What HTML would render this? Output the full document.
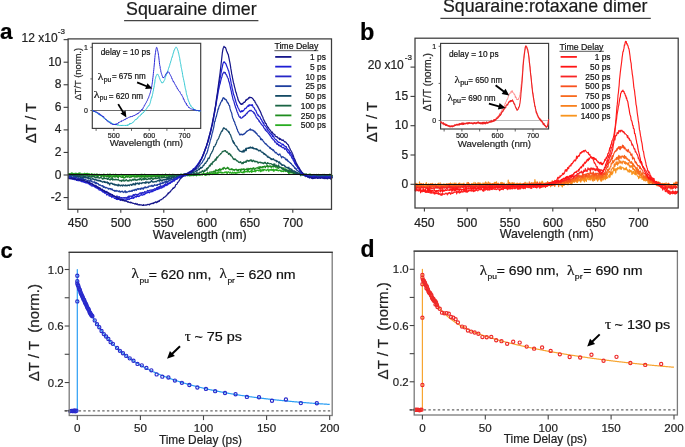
<!DOCTYPE html>
<html><head><meta charset="utf-8"><style>
html,body{margin:0;padding:0;background:#fff;}
svg{display:block;}
svg text{white-space:pre;}
svg{will-change:transform;}
</style></head><body>
<svg width="685" height="447" viewBox="0 0 685 447">
<rect width="685" height="447" fill="#fff"/>
<text x="126.1" y="14.9" font-size="17.8" text-anchor="start" font-weight="normal" fill="#1a1a1a" stroke="#1a1a1a" stroke-width="0.2" font-family='"Liberation Sans", sans-serif' >Squaraine dimer</text>
<line x1="124.1" y1="20.6" x2="258.4" y2="20.6" stroke="#444" stroke-width="1.2" />
<text x="442.9" y="12.3" font-size="17.8" text-anchor="start" font-weight="normal" fill="#1a1a1a" stroke="#1a1a1a" stroke-width="0.2" font-family='"Liberation Sans", sans-serif' >Squaraine:rotaxane dimer</text>
<line x1="440.4" y1="18.4" x2="650.8" y2="18.4" stroke="#444" stroke-width="1.2" />
<text x="-0.1" y="39.3" font-size="22.5" text-anchor="start" font-weight="bold" fill="#000" stroke="#000" stroke-width="0.2" font-family='"Liberation Sans", sans-serif' >a</text>
<text x="360" y="39.6" font-size="23.5" text-anchor="start" font-weight="bold" fill="#000" stroke="#000" stroke-width="0.2" font-family='"Liberation Sans", sans-serif' >b</text>
<text x="0.5" y="257.9" font-size="22" text-anchor="start" font-weight="bold" fill="#000" stroke="#000" stroke-width="0.2" font-family='"Liberation Sans", sans-serif' >c</text>
<text x="360.4" y="257.2" font-size="23" text-anchor="start" font-weight="bold" fill="#000" stroke="#000" stroke-width="0.2" font-family='"Liberation Sans", sans-serif' >d</text>
<polyline points="68.34,173.45 68.77,174.02 69.19,173.53 69.62,174.12 70.05,174.5 70.47,174.5 70.9,174.19 71.33,172.92 71.75,174.48 72.18,173.03 72.61,172.99 73.03,173.85 73.46,173.78 73.88,174.11 74.31,173.79 74.74,173.41 75.16,173.79 75.59,173.24 76.02,173.14 76.44,173.63 76.87,173.65 77.3,173.88 77.72,173.66 78.15,174.49 78.58,173.64 79,173.77 79.43,174.38 79.86,172.69 80.28,174.46 80.71,174.42 81.14,173.78 81.56,175.04 81.99,174.41 82.42,174.83 82.84,174.53 83.27,174.07 83.69,173.83 84.12,173.4 84.55,173.58 84.97,173.38 85.4,173.73 85.83,174.34 86.25,173.47 86.68,174.38 87.11,174.47 87.53,173.28 87.96,173.71 88.39,174.05 88.81,173.76 89.24,173.71 89.67,174.99 90.09,174.29 90.52,174.92 90.95,174.2 91.37,174.67 91.8,173.54 92.23,174.03 92.65,174.8 93.08,174.37 93.51,175.06 93.93,174.38 94.36,174.11 94.78,174.29 95.21,175.54 95.64,174.66 96.06,174.21 96.49,174.34 96.92,173.88 97.34,175.29 97.77,174.29 98.2,174.97 98.62,174.52 99.05,174.43 99.48,174.29 99.9,175.03 100.33,174.63 100.76,175.42 101.18,175.58 101.61,174.5 102.04,174.86 102.46,175.77 102.89,175.36 103.32,174.9 103.74,174.06 104.17,174.37 104.59,174.53 105.02,176.01 105.45,175.08 105.87,174.78 106.3,174.85 106.73,174.85 107.15,175.24 107.58,174.13 108.01,174.31 108.43,175.21 108.86,175.73 109.29,174.03 109.71,175.52 110.14,174.55 110.57,174.17 110.99,175.79 111.42,175.11 111.85,175.49 112.27,175.02 112.7,175.15 113.13,174.25 113.55,175.03 113.98,175.39 114.4,174.76 114.83,175.57 115.26,175.63 115.68,174.18 116.11,175.92 116.54,175.75 116.96,175.46 117.39,176.09 117.82,176.7 118.24,174.93 118.67,175.98 119.1,175.85 119.52,175.76 119.95,176.12 120.38,176.18 120.8,175.49 121.23,174.23 121.66,175.17 122.08,175.17 122.51,176.44 122.94,175.61 123.36,176.26 123.79,175.16 124.21,175.73 124.64,175.57 125.07,175.64 125.49,175.92 125.92,176.45 126.35,175.26 126.77,176.37 127.2,176.25 127.63,175.75 128.05,175.98 128.48,175.43 128.91,175.01 129.33,175.43 129.76,175.46 130.19,175.56 130.61,175.08 131.04,176.6 131.47,175.35 131.89,176.08 132.32,176.25 132.75,175.55 133.17,175.76 133.6,175.21 134.03,174.92 134.45,176.85 134.88,175.57 135.3,174.42 135.73,175.03 136.16,174.7 136.58,175.46 137.01,176.32 137.44,176.15 137.86,175.11 138.29,174.96 138.72,175.91 139.14,175.65 139.57,175.35 140,176.48 140.42,175.69 140.85,174.57 141.28,174.25 141.7,175.54 142.13,174.44 142.56,175.77 142.98,175.93 143.41,176.73 143.84,174.93 144.26,175.67 144.69,174.14 145.11,175.27 145.54,175.35 145.97,176.47 146.39,174.6 146.82,175.65 147.25,175.53 147.67,176.68 148.1,174.91 148.53,174.87 148.95,175.77 149.38,175.37 149.81,175.2 150.23,174.87 150.66,175.35 151.09,174.43 151.51,175.54 151.94,175.74 152.37,175.66 152.79,176.82 153.22,175.84 153.65,174.82 154.07,175.23 154.5,175.84 154.92,175.17 155.35,176.51 155.78,175.53 156.2,175.06 156.63,174.96 157.06,175.79 157.48,174.83 157.91,174.29 158.34,175.58 158.76,174.92 159.19,176.21 159.62,176.43 160.04,174.98 160.47,175.3 160.9,175.2 161.32,175.64 161.75,175.47 162.18,174.85 162.6,174.33 163.03,175.42 163.46,176.22 163.88,174.57 164.31,174.94 164.74,174.89 165.16,175.17 165.59,173.96 166.01,175.22 166.44,174.97 166.87,176.3 167.29,175.57 167.72,175.63 168.15,175.25 168.57,175.04 169,175.65 169.43,174.24 169.85,175.82 170.28,175.46 170.71,175.07 171.13,175.9 171.56,174.87 171.99,174.83 172.41,175.34 172.84,174.1 173.27,175.12 173.69,175 174.12,175.7 174.55,176.09 174.97,175.5 175.4,175.32 175.82,175.39 176.25,174.69 176.68,176.46 177.1,175.75 177.53,176.14 177.96,174.34 178.38,175.42 178.81,175.38 179.24,175.71 179.66,174.58 180.09,175.31 180.52,174.95 180.94,176.22 181.37,174.41 181.8,174.84 182.22,174.75 182.65,174.36 183.08,175.16 183.5,175.14 183.93,174.64 184.36,174.8 184.78,175.17 185.21,175 185.63,175.31 186.06,174.62 186.49,174.49 186.91,175.01 187.34,173.94 187.77,175.87 188.19,175.12 188.62,174.02 189.05,175.22 189.47,175.88 189.9,174.18 190.33,174.65 190.75,175.63 191.18,174.51 191.61,175.52 192.03,175.69 192.46,175.01 192.89,175.19 193.31,175.53 193.74,175.11 194.17,175.46 194.59,174.85 195.02,174.88 195.44,174.44 195.87,175.1 196.3,175.59 196.72,175.57 197.15,174.95 197.58,173.93 198,174.3 198.43,175.13 198.86,174.22 199.28,175.39 199.71,174.15 200.14,174.92 200.56,174.25 200.99,174.32 201.42,174.81 201.84,174.45 202.27,175.22 202.7,174.64 203.12,173.96 203.55,172.23 203.98,174.13 204.4,174.45 204.83,175.05 205.26,173.85 205.68,175.36 206.11,174.84 206.53,174.15 206.96,175 207.39,173.41 207.81,173.62 208.24,174.52 208.67,174.47 209.09,174.86 209.52,174.86 209.95,173.77 210.37,173.63 210.8,173.73 211.23,173.73 211.65,174.15 212.08,173.58 212.51,174.56 212.93,173.67 213.36,172.79 213.79,172.81 214.21,173.76 214.64,173.63 215.07,172.6 215.49,172.31 215.92,174.1 216.34,173.43 216.77,172.99 217.2,172.36 217.62,173.45 218.05,172.54 218.48,173 218.9,171.42 219.33,172.46 219.76,172.73 220.18,172.78 220.61,171.94 221.04,172.09 221.46,173.03 221.89,172.24 222.32,173.07 222.74,172.69 223.17,172.97 223.6,172.96 224.02,172.59 224.45,172.76 224.88,171.91 225.3,171.77 225.73,172.37 226.15,172.88 226.58,171.8 227.01,173.42 227.43,173.38 227.86,171.89 228.29,171.95 228.71,171.78 229.14,172.48 229.57,173.09 229.99,172.69 230.42,172.1 230.85,172.88 231.27,172.87 231.7,173.29 232.13,173.17 232.55,172.05 232.98,172.28 233.41,173.2 233.83,173.15 234.26,172.86 234.69,172.22 235.11,173.18 235.54,172.6 235.96,173.71 236.39,173.19 236.82,172.22 237.24,171.93 237.67,173.07 238.1,172.83 238.52,171.91 238.95,172.56 239.38,172.62 239.8,171.99 240.23,172.15 240.66,171.61 241.08,171.76 241.51,172.51 241.94,172.23 242.36,172.17 242.79,172.87 243.22,172.62 243.64,171.49 244.07,172.9 244.5,171.4 244.92,171.77 245.35,171.97 245.78,171.55 246.2,171.55 246.63,171.1 247.05,171.97 247.48,171.83 247.91,171.8 248.33,170.56 248.76,171.05 249.19,172.07 249.61,171.69 250.04,171.87 250.47,171.42 250.89,171.27 251.32,170.06 251.75,172.35 252.17,170.7 252.6,171 253.03,171.6 253.45,171.25 253.88,171.41 254.31,171.07 254.73,170.49 255.16,171.88 255.59,170.24 256.01,171.15 256.44,170.05 256.86,170.63 257.29,170.13 257.72,170.47 258.14,170.14 258.57,170.69 259,171.15 259.42,170.27 259.85,170.21 260.28,169.38 260.7,171.67 261.13,170.61 261.56,169.86 261.98,171.13 262.41,170.52 262.84,169.15 263.26,169.52 263.69,170.78 264.12,169.44 264.54,169.55 264.97,169.75 265.4,169.94 265.82,170 266.25,170.59 266.67,170.36 267.1,169.62 267.53,169.92 267.95,168.93 268.38,170.13 268.81,171.27 269.23,170.08 269.66,169.71 270.09,169.63 270.51,169.8 270.94,170.29 271.37,168.98 271.79,170.21 272.22,169.44 272.65,170.01 273.07,170.55 273.5,169.09 273.93,171.33 274.35,170.42 274.78,169.73 275.21,170.21 275.63,169.62 276.06,170.13 276.49,170.37 276.91,168.94 277.34,170.32 277.76,170.33 278.19,170.89 278.62,170.74 279.04,170 279.47,170.11 279.9,170.48 280.32,170.95 280.75,170.23 281.18,171.65 281.6,170.96 282.03,170.99 282.46,171.41 282.88,170.93 283.31,171.48 283.74,171.64 284.16,170.25 284.59,170.94 285.02,170.77 285.44,171.5 285.87,171.07 286.3,171.26 286.72,171.1 287.15,170.54 287.57,172.1 288,171.92 288.43,172.19 288.85,174.25 289.28,173.15 289.71,172.44 290.13,172.19 290.56,172.97 290.99,172.09 291.41,172.09 291.84,173.13 292.27,172.18 292.69,172.08 293.12,172.9 293.55,173.79 293.97,172.49 294.4,173.5 294.83,173.7 295.25,173.5 295.68,173.94 296.11,173.11 296.53,173.34 296.96,173.16 297.38,173.59 297.81,174.43 298.24,174.15 298.66,173.63 299.09,174.43 299.52,172.62 299.94,174.48 300.37,174.74 300.8,173.83 301.22,174.12 301.65,174.62 302.08,174.79 302.5,174.47 302.93,174.29 303.36,174.37 303.78,175 304.21,174.62 304.64,174.4 305.06,174.46 305.49,176.65 305.92,175.42 306.34,175.36 306.77,175.07 307.19,174.85 307.62,174.44 308.05,174.62 308.47,175.04 308.9,174.97 309.33,173.99 309.75,175.33 310.18,174.82 310.61,174.11 311.03,174.8 311.46,176.15 311.89,174.79 312.31,175.22 312.74,175.06 313.17,174.41 313.59,174.74 314.02,175.15 314.45,174.5 314.87,174.75 315.3,174.94 315.73,174.83 316.15,174.86 316.58,175.19 317.01,175.26 317.43,174.99 317.86,175.54 318.28,175.71 318.71,174.27 319.14,175.14 319.56,175.01 319.99,175.08 320.42,174.99 320.84,174.99 321.27,174.96 321.7,175.45 322.12,174.47 322.55,175.39 322.98,174.42 323.4,176.08 323.83,175.6 324.26,174.44 324.68,175.08 325.11,175.38 325.54,174.79 325.96,175.59 326.39,174.96 326.82,176.25 327.24,175.26 327.67,175.37 328.09,174.7 328.52,174.51 328.95,175.48 329.37,174.09 329.8,175.33 330.23,176.16 330.65,176.34 331.08,174.13 331.51,175.05 331.93,175.37 332.36,175.42" fill="none" stroke="#28ac20" stroke-width="1.22" stroke-linejoin="round" />
<polyline points="68.34,174.13 68.77,174.7 69.19,173.56 69.62,174.73 70.05,173.84 70.47,174.94 70.9,173.54 71.33,174.75 71.75,173.7 72.18,175.08 72.61,174.45 73.03,173.55 73.46,174.68 73.88,174.2 74.31,174.52 74.74,175.57 75.16,174.1 75.59,174.05 76.02,174.93 76.44,174 76.87,174.79 77.3,174.92 77.72,174.36 78.15,174.77 78.58,173.11 79,175.29 79.43,174.01 79.86,173.89 80.28,175.58 80.71,175.46 81.14,174.18 81.56,174.79 81.99,174.32 82.42,173.91 82.84,174.78 83.27,175.19 83.69,176.15 84.12,174.51 84.55,175.17 84.97,174.49 85.4,174.56 85.83,175.49 86.25,173.76 86.68,174.15 87.11,174.3 87.53,175.47 87.96,175.06 88.39,175.16 88.81,175.11 89.24,175.54 89.67,174.68 90.09,174.82 90.52,174.77 90.95,175.29 91.37,174.31 91.8,174.95 92.23,176.63 92.65,175.48 93.08,175.18 93.51,174.63 93.93,175.37 94.36,175.37 94.78,175.63 95.21,174.91 95.64,175.57 96.06,175.69 96.49,175.8 96.92,175.1 97.34,175.75 97.77,176.43 98.2,175.17 98.62,175.95 99.05,175.39 99.48,175.42 99.9,174.99 100.33,175.12 100.76,176.07 101.18,175.88 101.61,176.55 102.04,174.92 102.46,175.65 102.89,175.16 103.32,176.16 103.74,177.17 104.17,175.19 104.59,176.04 105.02,176.05 105.45,176.13 105.87,175.83 106.3,175.92 106.73,177.15 107.15,175.67 107.58,176.61 108.01,176.6 108.43,175.38 108.86,175.86 109.29,176.6 109.71,177.48 110.14,176.37 110.57,176.19 110.99,176.56 111.42,177.25 111.85,177.02 112.27,177.3 112.7,176.5 113.13,176.19 113.55,176.1 113.98,177.11 114.4,176.59 114.83,176.44 115.26,177.06 115.68,176.88 116.11,175.62 116.54,176.72 116.96,176.36 117.39,177.12 117.82,176.88 118.24,177.88 118.67,176.95 119.1,176.28 119.52,175.78 119.95,176.3 120.38,176.6 120.8,176.97 121.23,177.35 121.66,177.11 122.08,176.68 122.51,177.47 122.94,176.5 123.36,177.59 123.79,178.03 124.21,177.6 124.64,177.97 125.07,177.8 125.49,176.38 125.92,177.13 126.35,176.88 126.77,176.35 127.2,176.28 127.63,177.27 128.05,176.23 128.48,176.75 128.91,176.96 129.33,176.7 129.76,177.74 130.19,177.37 130.61,176.98 131.04,176.56 131.47,177.1 131.89,176.95 132.32,176.32 132.75,176.06 133.17,176.41 133.6,176.11 134.03,177.04 134.45,176.98 134.88,176.61 135.3,176.95 135.73,177.05 136.16,175.82 136.58,176.86 137.01,177.28 137.44,176.44 137.86,175.67 138.29,176.65 138.72,175.99 139.14,176.92 139.57,176.94 140,177.04 140.42,176.73 140.85,175.6 141.28,177.27 141.7,175.69 142.13,177.17 142.56,176.72 142.98,176.11 143.41,176.21 143.84,176.39 144.26,177.47 144.69,176.33 145.11,177.1 145.54,175.06 145.97,176.62 146.39,176.38 146.82,177.12 147.25,176.73 147.67,177.17 148.1,175.88 148.53,176.57 148.95,176.09 149.38,176.78 149.81,176.67 150.23,175.65 150.66,176.91 151.09,177.36 151.51,176.1 151.94,176.96 152.37,176.55 152.79,175.78 153.22,176.74 153.65,175.77 154.07,176.64 154.5,175.4 154.92,175.48 155.35,176.48 155.78,176.32 156.2,176.66 156.63,176.06 157.06,175.51 157.48,176.96 157.91,175.61 158.34,176.86 158.76,176.59 159.19,177.1 159.62,174.88 160.04,176.02 160.47,175.9 160.9,176.41 161.32,175.41 161.75,177.18 162.18,175.97 162.6,174.72 163.03,176.17 163.46,175.93 163.88,175.54 164.31,176.36 164.74,175.87 165.16,175.33 165.59,175.74 166.01,175.63 166.44,176.02 166.87,175.62 167.29,175.75 167.72,174.95 168.15,175.34 168.57,175.87 169,177.09 169.43,175.29 169.85,175.25 170.28,176.17 170.71,176.76 171.13,176.25 171.56,175.06 171.99,176.16 172.41,175.8 172.84,175.39 173.27,174.81 173.69,175.48 174.12,175.51 174.55,175.74 174.97,174.49 175.4,174.78 175.82,175.42 176.25,176.13 176.68,175.77 177.1,174.97 177.53,175.69 177.96,174.76 178.38,175.04 178.81,175.06 179.24,174.84 179.66,174.91 180.09,175.66 180.52,175.35 180.94,173.83 181.37,175.81 181.8,175.38 182.22,174.5 182.65,175.18 183.08,175.53 183.5,175.8 183.93,174.74 184.36,174.46 184.78,174.23 185.21,174.97 185.63,174.4 186.06,175.56 186.49,174.87 186.91,175.33 187.34,174.84 187.77,174.51 188.19,174.32 188.62,175.47 189.05,174.18 189.47,175.15 189.9,175.45 190.33,174.96 190.75,175.68 191.18,174.84 191.61,174.66 192.03,174.92 192.46,174.49 192.89,174.96 193.31,174.76 193.74,175.56 194.17,174.7 194.59,175.19 195.02,174.94 195.44,174.72 195.87,174.53 196.3,175.54 196.72,175.47 197.15,174.73 197.58,174.27 198,174.3 198.43,173.98 198.86,173.72 199.28,174.14 199.71,174.4 200.14,174.94 200.56,174.86 200.99,174.56 201.42,174.11 201.84,174.1 202.27,174.18 202.7,174.23 203.12,173.74 203.55,173.94 203.98,173.84 204.4,173.78 204.83,174.21 205.26,174.43 205.68,173.51 206.11,173.48 206.53,173.76 206.96,173.78 207.39,172.17 207.81,173.79 208.24,173.38 208.67,173 209.09,173.7 209.52,172.87 209.95,171.81 210.37,172.18 210.8,172.24 211.23,172.15 211.65,172.3 212.08,171.7 212.51,172.2 212.93,172.22 213.36,171.79 213.79,171.2 214.21,171.38 214.64,171.04 215.07,172.42 215.49,170.46 215.92,169.66 216.34,170.07 216.77,170.84 217.2,170.97 217.62,170.17 218.05,170.72 218.48,169.59 218.9,170.15 219.33,169.16 219.76,168.8 220.18,170.58 220.61,169.12 221.04,169.53 221.46,169.78 221.89,169.19 222.32,168.84 222.74,168.03 223.17,169.39 223.6,167.88 224.02,167.32 224.45,168.13 224.88,168.17 225.3,168.51 225.73,169.19 226.15,168.26 226.58,168.39 227.01,168.24 227.43,167.25 227.86,168.34 228.29,168.55 228.71,167.98 229.14,169.7 229.57,169.69 229.99,169.38 230.42,169.66 230.85,169.03 231.27,169.73 231.7,168.68 232.13,168.91 232.55,169.41 232.98,170.12 233.41,169.58 233.83,169.47 234.26,170.53 234.69,169.73 235.11,169.53 235.54,169.8 235.96,169.04 236.39,169.24 236.82,170.39 237.24,169.85 237.67,170.4 238.1,169.6 238.52,170.41 238.95,169.4 239.38,169.71 239.8,169.38 240.23,170.01 240.66,170.75 241.08,168.93 241.51,170.02 241.94,169.13 242.36,169.65 242.79,169.49 243.22,168.8 243.64,169.6 244.07,168.96 244.5,170.54 244.92,169.16 245.35,169.73 245.78,169.61 246.2,169.46 246.63,169.21 247.05,168.4 247.48,170.31 247.91,169.18 248.33,169.54 248.76,168.41 249.19,169.24 249.61,168.68 250.04,169.1 250.47,168.44 250.89,168.19 251.32,168.94 251.75,168.63 252.17,169.4 252.6,168.38 253.03,168.01 253.45,168.75 253.88,167.75 254.31,169.49 254.73,169.31 255.16,168.99 255.59,168.43 256.01,168.09 256.44,168.08 256.86,168.02 257.29,167.52 257.72,168.14 258.14,168.53 258.57,168.46 259,166.51 259.42,168.97 259.85,167.68 260.28,166.7 260.7,167.19 261.13,167.87 261.56,167.34 261.98,166.79 262.41,166.54 262.84,167.67 263.26,166.68 263.69,166.91 264.12,166.38 264.54,166.17 264.97,167.1 265.4,167.68 265.82,166.6 266.25,165.78 266.67,166.35 267.1,166.57 267.53,165.3 267.95,167.2 268.38,166.06 268.81,166.86 269.23,166.48 269.66,166.43 270.09,165.6 270.51,166.97 270.94,166.73 271.37,167.33 271.79,166.16 272.22,166.7 272.65,166.23 273.07,167.09 273.5,166.72 273.93,165.97 274.35,166.7 274.78,166.29 275.21,166.4 275.63,166.95 276.06,167.68 276.49,166.3 276.91,166.82 277.34,166.43 277.76,168.18 278.19,168.04 278.62,168.38 279.04,167.75 279.47,166.76 279.9,167.13 280.32,167.58 280.75,167.6 281.18,167.37 281.6,168.1 282.03,167.84 282.46,168.13 282.88,169.58 283.31,168.71 283.74,167.87 284.16,169.01 284.59,169.01 285.02,169.41 285.44,169.48 285.87,168.71 286.3,169.63 286.72,170.19 287.15,171.5 287.57,170.2 288,171.13 288.43,171.19 288.85,169.85 289.28,170.04 289.71,171.66 290.13,170.25 290.56,170.61 290.99,171.46 291.41,170.76 291.84,172.25 292.27,172.18 292.69,172.48 293.12,172.48 293.55,171.53 293.97,172.95 294.4,173.03 294.83,173.08 295.25,172.6 295.68,173.06 296.11,172.53 296.53,173.55 296.96,174 297.38,173.66 297.81,173.47 298.24,174.11 298.66,173.53 299.09,172.76 299.52,174.21 299.94,173.95 300.37,173.3 300.8,174.51 301.22,174.7 301.65,174.92 302.08,174.15 302.5,174.16 302.93,174.6 303.36,174.56 303.78,173.93 304.21,174.21 304.64,175.55 305.06,174.82 305.49,174.81 305.92,174.51 306.34,175.1 306.77,175.39 307.19,175.34 307.62,176.13 308.05,175.19 308.47,175.56 308.9,175 309.33,175.88 309.75,175.58 310.18,175.92 310.61,175.99 311.03,175.01 311.46,175.68 311.89,175.17 312.31,176.06 312.74,175.37 313.17,176.38 313.59,175.7 314.02,175.72 314.45,175.11 314.87,175.34 315.3,175.54 315.73,174.97 316.15,175.34 316.58,175.15 317.01,175.02 317.43,175.49 317.86,175.62 318.28,175.27 318.71,175.69 319.14,175.24 319.56,174.84 319.99,174.98 320.42,175.68 320.84,176.19 321.27,175.5 321.7,175.54 322.12,174.84 322.55,175.68 322.98,175.59 323.4,175.06 323.83,175.74 324.26,175.56 324.68,174.51 325.11,174.63 325.54,175.12 325.96,175.32 326.39,176.02 326.82,175.16 327.24,175.44 327.67,175.35 328.09,175.77 328.52,175.48 328.95,175.58 329.37,175.3 329.8,174.67 330.23,175.27 330.65,176.41 331.08,176.02 331.51,176.37 331.93,175.92 332.36,175.16" fill="none" stroke="#1e8c1e" stroke-width="1.22" stroke-linejoin="round" />
<polyline points="68.34,175.19 68.77,174.63 69.19,174.98 69.62,175.69 70.05,174.53 70.47,174.69 70.9,174.77 71.33,174.56 71.75,174.52 72.18,175.18 72.61,175.95 73.03,175.99 73.46,174.47 73.88,174.86 74.31,175.22 74.74,175.55 75.16,175.32 75.59,175.35 76.02,175.58 76.44,175.81 76.87,174.22 77.3,175.34 77.72,175.84 78.15,176.26 78.58,175.96 79,175.18 79.43,175.19 79.86,175.77 80.28,175.65 80.71,175.88 81.14,176.36 81.56,175.04 81.99,175.59 82.42,174.44 82.84,176.3 83.27,175.98 83.69,175.44 84.12,176.12 84.55,176.8 84.97,176.59 85.4,176.04 85.83,175.94 86.25,176.23 86.68,175.65 87.11,175.7 87.53,176.12 87.96,176.33 88.39,176.54 88.81,176.13 89.24,175.97 89.67,176.5 90.09,176.33 90.52,176.81 90.95,177.47 91.37,177.29 91.8,176.35 92.23,176.58 92.65,175.98 93.08,176.9 93.51,176.49 93.93,176.29 94.36,176.53 94.78,177.48 95.21,177.3 95.64,177.17 96.06,177.86 96.49,177.1 96.92,176.85 97.34,177.76 97.77,176.45 98.2,177.79 98.62,177.81 99.05,177.9 99.48,178.23 99.9,177.67 100.33,177.96 100.76,177.11 101.18,177.78 101.61,177.89 102.04,178.39 102.46,179.13 102.89,178.45 103.32,178.95 103.74,178.01 104.17,178.63 104.59,177.74 105.02,178.33 105.45,178.33 105.87,178.73 106.3,178.8 106.73,178.61 107.15,178.51 107.58,179.48 108.01,178.85 108.43,177.7 108.86,179.27 109.29,179.41 109.71,179.71 110.14,180.18 110.57,178.75 110.99,179.43 111.42,179.35 111.85,178.52 112.27,178.2 112.7,180.16 113.13,179.11 113.55,179.4 113.98,179.58 114.4,179.58 114.83,179.91 115.26,179.04 115.68,179.63 116.11,179.83 116.54,179.36 116.96,179.59 117.39,179.88 117.82,179.99 118.24,179.21 118.67,179.95 119.1,180.31 119.52,180.77 119.95,180.51 120.38,180.93 120.8,180.29 121.23,180.23 121.66,181.54 122.08,180.39 122.51,180.04 122.94,180.32 123.36,180.95 123.79,179.7 124.21,180.8 124.64,181.09 125.07,181 125.49,180.39 125.92,179.81 126.35,179.69 126.77,180.22 127.2,180.99 127.63,180.66 128.05,180.78 128.48,180.35 128.91,181.22 129.33,180.13 129.76,179.8 130.19,180.22 130.61,179.85 131.04,180.61 131.47,180.86 131.89,180.37 132.32,179.33 132.75,179.36 133.17,180.17 133.6,179.2 134.03,180.03 134.45,178.96 134.88,179.5 135.3,180 135.73,179.26 136.16,180.12 136.58,180.17 137.01,180.43 137.44,179.44 137.86,179.59 138.29,179.57 138.72,179.73 139.14,178.66 139.57,179.68 140,179.82 140.42,178.68 140.85,178.55 141.28,179.13 141.7,180.28 142.13,179.6 142.56,178.89 142.98,179.2 143.41,178.3 143.84,179.91 144.26,178.73 144.69,179.44 145.11,178.3 145.54,179.06 145.97,178.41 146.39,179.32 146.82,179.72 147.25,179.52 147.67,179.2 148.1,179.4 148.53,178.11 148.95,178 149.38,178.57 149.81,179.27 150.23,178.72 150.66,179.01 151.09,177.77 151.51,178.38 151.94,178.24 152.37,178.71 152.79,179.58 153.22,178.85 153.65,179.01 154.07,178.14 154.5,178.25 154.92,178.72 155.35,178.45 155.78,177.32 156.2,178.7 156.63,178.64 157.06,178.22 157.48,178.44 157.91,178.25 158.34,177.68 158.76,176.96 159.19,178.9 159.62,177.87 160.04,177.8 160.47,177.83 160.9,177.85 161.32,177.89 161.75,177.09 162.18,177.88 162.6,177.65 163.03,177.54 163.46,177.43 163.88,177.55 164.31,176.84 164.74,177.37 165.16,177.22 165.59,177.3 166.01,177.8 166.44,177.65 166.87,177.73 167.29,176.98 167.72,177.45 168.15,177.6 168.57,176.81 169,176.6 169.43,177.84 169.85,175.84 170.28,176.72 170.71,176.74 171.13,176.02 171.56,176.52 171.99,176.84 172.41,175.2 172.84,176.99 173.27,176.38 173.69,175.78 174.12,176.8 174.55,176.2 174.97,175.86 175.4,174.67 175.82,176.47 176.25,175.94 176.68,175.48 177.1,175.76 177.53,176.43 177.96,175.47 178.38,175.59 178.81,175.36 179.24,174.93 179.66,174.95 180.09,175.25 180.52,175.27 180.94,176.02 181.37,175.44 181.8,175.2 182.22,175.52 182.65,175.2 183.08,175.68 183.5,174.31 183.93,173.92 184.36,175.31 184.78,174.83 185.21,175.14 185.63,174.25 186.06,174.68 186.49,174.83 186.91,174.96 187.34,174.72 187.77,175.31 188.19,174.32 188.62,175.06 189.05,174.31 189.47,174.49 189.9,173.9 190.33,174.48 190.75,173.84 191.18,174.88 191.61,173.96 192.03,174.37 192.46,174.08 192.89,174.08 193.31,173.53 193.74,175.12 194.17,173.72 194.59,174.67 195.02,173.06 195.44,174.76 195.87,174.12 196.3,174.4 196.72,172.43 197.15,173.98 197.58,173.08 198,173.33 198.43,173.93 198.86,172.99 199.28,172.31 199.71,172.66 200.14,171.91 200.56,172.51 200.99,172.17 201.42,172.26 201.84,171.7 202.27,170.68 202.7,171.38 203.12,171.31 203.55,171.59 203.98,171.47 204.4,170.02 204.83,171.25 205.26,170.9 205.68,170.16 206.11,170.01 206.53,168.29 206.96,170.32 207.39,168.33 207.81,167.67 208.24,168.21 208.67,167.44 209.09,166.33 209.52,165.15 209.95,166.08 210.37,165.97 210.8,164.05 211.23,163.29 211.65,163.9 212.08,164.52 212.51,162.01 212.93,162.51 213.36,161.32 213.79,161.53 214.21,161.27 214.64,160.86 215.07,159.31 215.49,158.86 215.92,160.38 216.34,159.19 216.77,157.12 217.2,157.8 217.62,157.82 218.05,156.52 218.48,156.07 218.9,155.57 219.33,155.33 219.76,154.82 220.18,154.47 220.61,153.58 221.04,153.78 221.46,153.04 221.89,152.54 222.32,151.35 222.74,151.55 223.17,151.58 223.6,151.06 224.02,151.08 224.45,150.73 224.88,151.13 225.3,150.52 225.73,150.92 226.15,151.89 226.58,152.3 227.01,151.79 227.43,152.23 227.86,152.81 228.29,153.83 228.71,154.3 229.14,153.41 229.57,153.56 229.99,153.98 230.42,155.62 230.85,154.8 231.27,156.17 231.7,156.14 232.13,156.6 232.55,157.73 232.98,158.02 233.41,159.21 233.83,158.88 234.26,159.71 234.69,158.78 235.11,159.34 235.54,159.19 235.96,159.84 236.39,160.73 236.82,160.5 237.24,161.22 237.67,160.94 238.1,161.38 238.52,162.36 238.95,162.01 239.38,162.17 239.8,162.53 240.23,161.97 240.66,161.59 241.08,162.8 241.51,162.78 241.94,163.82 242.36,162.58 242.79,162.68 243.22,163.56 243.64,162.07 244.07,161.79 244.5,162.41 244.92,162.07 245.35,162.26 245.78,161.14 246.2,162.28 246.63,161.46 247.05,160.05 247.48,160.98 247.91,160.62 248.33,160.86 248.76,161.34 249.19,160.61 249.61,160.29 250.04,161.05 250.47,160.26 250.89,159.75 251.32,159.87 251.75,161.4 252.17,161.11 252.6,161.54 253.03,160.11 253.45,160.46 253.88,160.5 254.31,161.5 254.73,161.77 255.16,161.19 255.59,161.29 256.01,161.94 256.44,161.5 256.86,161.32 257.29,161.66 257.72,162.48 258.14,163.17 258.57,162.2 259,162.04 259.42,162.36 259.85,162.52 260.28,162.75 260.7,162.02 261.13,162.53 261.56,162.5 261.98,163.18 262.41,163.05 262.84,162.68 263.26,163.41 263.69,163.62 264.12,163.16 264.54,162.36 264.97,163 265.4,162.35 265.82,163.31 266.25,163.47 266.67,164.14 267.1,163.74 267.53,162.66 267.95,163.34 268.38,163.17 268.81,163.24 269.23,163.7 269.66,163.88 270.09,163.76 270.51,163.53 270.94,163.73 271.37,163.8 271.79,164.08 272.22,164.72 272.65,164.55 273.07,165.07 273.5,164.12 273.93,166.02 274.35,165.11 274.78,163.81 275.21,165.52 275.63,166.14 276.06,165.68 276.49,165.12 276.91,166.12 277.34,165.85 277.76,166.32 278.19,166.75 278.62,164.94 279.04,166.85 279.47,167.38 279.9,167.54 280.32,167.24 280.75,167.42 281.18,167.41 281.6,167.97 282.03,169.05 282.46,168.14 282.88,168.81 283.31,168.99 283.74,169.86 284.16,169.54 284.59,169.8 285.02,169.59 285.44,170.56 285.87,169.88 286.3,169.99 286.72,170.84 287.15,170.71 287.57,170.98 288,170.12 288.43,172.2 288.85,171.1 289.28,171.98 289.71,171.42 290.13,170.83 290.56,171.8 290.99,171.51 291.41,172.21 291.84,170.79 292.27,171.52 292.69,171.56 293.12,173.11 293.55,173.14 293.97,172.07 294.4,172.95 294.83,173.14 295.25,172.95 295.68,173.98 296.11,172.96 296.53,173.5 296.96,173.35 297.38,174.08 297.81,173.5 298.24,174.26 298.66,173.4 299.09,173.37 299.52,173.55 299.94,173.84 300.37,173.83 300.8,175.77 301.22,173.83 301.65,174.51 302.08,174.35 302.5,174.62 302.93,175.3 303.36,174.87 303.78,174.25 304.21,173.88 304.64,175.1 305.06,175.32 305.49,174.06 305.92,175.45 306.34,173.86 306.77,175.09 307.19,175.7 307.62,174.73 308.05,174.41 308.47,176.25 308.9,174.64 309.33,175.75 309.75,174.81 310.18,175.92 310.61,176.64 311.03,175.5 311.46,175.28 311.89,174.63 312.31,174.84 312.74,175.42 313.17,175.95 313.59,176.12 314.02,175.99 314.45,176.3 314.87,175.99 315.3,177.27 315.73,175.74 316.15,175.86 316.58,174.4 317.01,175.43 317.43,176.13 317.86,175.54 318.28,176.55 318.71,176.2 319.14,176.92 319.56,175.06 319.99,175.54 320.42,176.54 320.84,175.91 321.27,175.34 321.7,175.6 322.12,175.67 322.55,176.37 322.98,176.25 323.4,175.83 323.83,175.37 324.26,176.36 324.68,176.52 325.11,175.25 325.54,176.42 325.96,175.29 326.39,175.76 326.82,175.4 327.24,174.91 327.67,175.51 328.09,175.46 328.52,176.42 328.95,176.29 329.37,175.54 329.8,175.04 330.23,175.12 330.65,174.6 331.08,175.73 331.51,175.79 331.93,175.33 332.36,175.89" fill="none" stroke="#1a6444" stroke-width="1.22" stroke-linejoin="round" />
<polyline points="68.34,175.56 68.77,175.59 69.19,175.26 69.62,175.89 70.05,175.12 70.47,175.49 70.9,175.68 71.33,175.77 71.75,175.57 72.18,175.35 72.61,175.43 73.03,175.76 73.46,175.55 73.88,175.98 74.31,175.45 74.74,176.14 75.16,177.23 75.59,175.54 76.02,176.22 76.44,176.92 76.87,176.47 77.3,176.87 77.72,175.41 78.15,176.28 78.58,177.38 79,176.36 79.43,176.89 79.86,175.78 80.28,177.34 80.71,178 81.14,176.89 81.56,177.16 81.99,177.25 82.42,178.18 82.84,176.94 83.27,176.37 83.69,178.26 84.12,176.76 84.55,177.71 84.97,176.3 85.4,177.35 85.83,177.74 86.25,177.16 86.68,177.53 87.11,178.18 87.53,177.59 87.96,178.3 88.39,179.03 88.81,177.17 89.24,178.47 89.67,178.68 90.09,178.29 90.52,179.34 90.95,179.33 91.37,178.99 91.8,179.09 92.23,178.88 92.65,178.44 93.08,179.34 93.51,178.95 93.93,178.99 94.36,179.94 94.78,179.37 95.21,180.06 95.64,179.14 96.06,179.56 96.49,179.89 96.92,180.7 97.34,180.07 97.77,180.64 98.2,180.02 98.62,180.56 99.05,181.04 99.48,180.29 99.9,180.52 100.33,181.32 100.76,180.56 101.18,181.43 101.61,181.57 102.04,181.48 102.46,182.06 102.89,182.03 103.32,182.01 103.74,181.28 104.17,181.42 104.59,182.43 105.02,181.6 105.45,182.56 105.87,182.45 106.3,182.3 106.73,182.71 107.15,181.72 107.58,182.92 108.01,183.74 108.43,182.55 108.86,183.51 109.29,183.55 109.71,185 110.14,183.06 110.57,183.24 110.99,183.35 111.42,183.34 111.85,183.07 112.27,184.04 112.7,183.63 113.13,184.57 113.55,184.46 113.98,183.83 114.4,184.25 114.83,185.21 115.26,184.43 115.68,184.79 116.11,185.18 116.54,184.62 116.96,185.12 117.39,185.78 117.82,185.61 118.24,184.21 118.67,185.93 119.1,185.1 119.52,184.95 119.95,184.98 120.38,185.97 120.8,185.55 121.23,185.35 121.66,185.04 122.08,185.79 122.51,186.07 122.94,184.98 123.36,184.93 123.79,185.3 124.21,185.79 124.64,185.26 125.07,185.4 125.49,185 125.92,186.04 126.35,185.31 126.77,185.42 127.2,185.86 127.63,185.15 128.05,185.2 128.48,185.38 128.91,184.92 129.33,185.79 129.76,185.04 130.19,184.74 130.61,184.75 131.04,184.29 131.47,185.38 131.89,185.48 132.32,184.53 132.75,184.35 133.17,183.44 133.6,184.14 134.03,184.83 134.45,183.91 134.88,184.69 135.3,184.95 135.73,182.8 136.16,183.9 136.58,183.64 137.01,183.66 137.44,182.97 137.86,183.69 138.29,183.16 138.72,184.24 139.14,184.37 139.57,182.88 140,182.8 140.42,183.24 140.85,183.32 141.28,183.3 141.7,183.67 142.13,182.48 142.56,182.87 142.98,182.89 143.41,182.9 143.84,182.5 144.26,182.71 144.69,182.53 145.11,183.44 145.54,182.53 145.97,181.61 146.39,182.93 146.82,182.67 147.25,182.08 147.67,181.99 148.1,182.09 148.53,183.17 148.95,182.03 149.38,182.82 149.81,182.57 150.23,181.81 150.66,182.17 151.09,181.54 151.51,180.29 151.94,181.43 152.37,181.39 152.79,182.14 153.22,181.94 153.65,182.09 154.07,181.75 154.5,181.96 154.92,181.67 155.35,181.38 155.78,181.71 156.2,181.85 156.63,181.75 157.06,180.75 157.48,180.88 157.91,180.32 158.34,180.23 158.76,180.86 159.19,180.27 159.62,181.27 160.04,179.3 160.47,179.78 160.9,180.42 161.32,180.82 161.75,179.96 162.18,181.02 162.6,180.39 163.03,179.53 163.46,179.79 163.88,180 164.31,179.18 164.74,180.11 165.16,179.35 165.59,179.66 166.01,179.75 166.44,179 166.87,179.65 167.29,178.09 167.72,179.26 168.15,177.86 168.57,179.33 169,178.37 169.43,179.18 169.85,179.15 170.28,178.28 170.71,177.91 171.13,178.79 171.56,177.42 171.99,178.32 172.41,177.73 172.84,177.48 173.27,177.26 173.69,178.36 174.12,176.51 174.55,176.93 174.97,177.31 175.4,177.5 175.82,177.73 176.25,177.46 176.68,176.38 177.1,176.73 177.53,177.03 177.96,176.63 178.38,175.47 178.81,176.35 179.24,176.39 179.66,175.33 180.09,175.71 180.52,175.84 180.94,176.1 181.37,176.51 181.8,176.25 182.22,175.82 182.65,175.62 183.08,175.25 183.5,175.08 183.93,175.17 184.36,175.09 184.78,175.62 185.21,176.11 185.63,175.19 186.06,175.31 186.49,175.06 186.91,174.76 187.34,175.15 187.77,174.97 188.19,174.35 188.62,174.13 189.05,174.4 189.47,173.69 189.9,173.93 190.33,174.21 190.75,173.53 191.18,172.46 191.61,173.61 192.03,172.53 192.46,172.27 192.89,172.04 193.31,173.05 193.74,171.43 194.17,172.21 194.59,172.19 195.02,171.96 195.44,171.32 195.87,171.36 196.3,171.23 196.72,170.24 197.15,171 197.58,170.89 198,169.68 198.43,169.44 198.86,168.95 199.28,169.75 199.71,168.34 200.14,168.32 200.56,167.33 200.99,168.51 201.42,167.4 201.84,167.27 202.27,167.54 202.7,166.68 203.12,165.32 203.55,165.69 203.98,165.36 204.4,164.07 204.83,163.52 205.26,163 205.68,163.35 206.11,162.38 206.53,161.2 206.96,161.39 207.39,160.74 207.81,159.21 208.24,158.09 208.67,158.71 209.09,158.66 209.52,157.28 209.95,156.26 210.37,155.01 210.8,153.82 211.23,153.4 211.65,152.85 212.08,151.56 212.51,151.24 212.93,149.88 213.36,149.26 213.79,146.65 214.21,146.67 214.64,146.59 215.07,145.76 215.49,144.57 215.92,144.28 216.34,142.89 216.77,141.97 217.2,140.21 217.62,139.95 218.05,139.23 218.48,138.61 218.9,137.66 219.33,136.25 219.76,135.52 220.18,133.99 220.61,133.97 221.04,132.18 221.46,131.65 221.89,130.9 222.32,131.11 222.74,130.05 223.17,128.49 223.6,127.82 224.02,128.31 224.45,128.08 224.88,128.81 225.3,129.01 225.73,129.43 226.15,128.94 226.58,129.63 227.01,130.34 227.43,130.82 227.86,130.82 228.29,131.39 228.71,132.5 229.14,131.86 229.57,133.37 229.99,134.35 230.42,134.53 230.85,135.72 231.27,137.27 231.7,137.94 232.13,139.71 232.55,140.39 232.98,142.05 233.41,141.02 233.83,143.28 234.26,142.68 234.69,144.16 235.11,144.97 235.54,145.31 235.96,145.8 236.39,146.34 236.82,146.45 237.24,147.83 237.67,148.2 238.1,149.54 238.52,149.41 238.95,150.18 239.38,150.91 239.8,151.07 240.23,151.31 240.66,151.36 241.08,151.33 241.51,151.78 241.94,151.84 242.36,150.99 242.79,152.09 243.22,151.38 243.64,150.08 244.07,152.02 244.5,150.75 244.92,149.8 245.35,150.72 245.78,148.29 246.2,150.65 246.63,148.33 247.05,148.01 247.48,148.08 247.91,148.42 248.33,147.91 248.76,148.36 249.19,147.33 249.61,148.18 250.04,147.67 250.47,146.98 250.89,148.05 251.32,147.69 251.75,147.48 252.17,148.32 252.6,147.14 253.03,147.68 253.45,148.75 253.88,148.16 254.31,148.69 254.73,148.8 255.16,148.62 255.59,149.21 256.01,148.56 256.44,149.61 256.86,148.96 257.29,149.68 257.72,149.43 258.14,150.34 258.57,150.52 259,151.06 259.42,150.42 259.85,150.48 260.28,150.14 260.7,150.84 261.13,151.65 261.56,152.18 261.98,152.17 262.41,152.69 262.84,152.24 263.26,152.81 263.69,154.02 264.12,154.25 264.54,153.5 264.97,154.33 265.4,154.89 265.82,154.45 266.25,155.54 266.67,155.78 267.1,156.16 267.53,157.21 267.95,156.07 268.38,157.41 268.81,157.38 269.23,157.75 269.66,157.28 270.09,157.95 270.51,158.18 270.94,159.29 271.37,158.73 271.79,159.67 272.22,158.99 272.65,159.17 273.07,159.58 273.5,158.74 273.93,159.71 274.35,159.88 274.78,160.31 275.21,160.68 275.63,160.29 276.06,160.42 276.49,161.84 276.91,160.85 277.34,161.33 277.76,161.32 278.19,161.8 278.62,162.9 279.04,163.09 279.47,161.81 279.9,162.85 280.32,163.95 280.75,163.3 281.18,163.92 281.6,164.92 282.03,165.41 282.46,165.31 282.88,164.62 283.31,165.04 283.74,165.39 284.16,165.38 284.59,165.47 285.02,167.09 285.44,166.42 285.87,166.93 286.3,167.38 286.72,167.26 287.15,167.28 287.57,167.59 288,168.42 288.43,168.16 288.85,167.12 289.28,168.91 289.71,169.47 290.13,168.7 290.56,168.77 290.99,169.07 291.41,170.12 291.84,169.29 292.27,170.45 292.69,170.89 293.12,170.89 293.55,170.9 293.97,170.74 294.4,171.05 294.83,171.63 295.25,171.38 295.68,172.05 296.11,171.85 296.53,173.22 296.96,173.49 297.38,172.46 297.81,173.72 298.24,173.32 298.66,173.37 299.09,173.71 299.52,173.83 299.94,173.03 300.37,175.15 300.8,173.54 301.22,172.94 301.65,174.21 302.08,174.35 302.5,174.08 302.93,173.63 303.36,175.26 303.78,174.72 304.21,174.95 304.64,174.67 305.06,174.97 305.49,174.81 305.92,175.46 306.34,175.32 306.77,175.78 307.19,175.88 307.62,175.71 308.05,175.8 308.47,176.41 308.9,175.1 309.33,176.04 309.75,176.74 310.18,175.54 310.61,176.52 311.03,175.92 311.46,176.21 311.89,176.08 312.31,176.13 312.74,176.52 313.17,176.21 313.59,175.2 314.02,177.38 314.45,176.21 314.87,176.03 315.3,176.79 315.73,176.96 316.15,175.17 316.58,176.46 317.01,175.22 317.43,176.01 317.86,176.25 318.28,176.05 318.71,175.97 319.14,175.7 319.56,176.08 319.99,176.23 320.42,176.22 320.84,175.63 321.27,175.9 321.7,176.83 322.12,176.65 322.55,176.16 322.98,176.64 323.4,176.52 323.83,176.82 324.26,176.47 324.68,176.12 325.11,175.83 325.54,176.34 325.96,175.29 326.39,176.38 326.82,174.72 327.24,175.84 327.67,176.1 328.09,176.6 328.52,177.78 328.95,176.43 329.37,176.26 329.8,175.38 330.23,177.05 330.65,175.39 331.08,176.48 331.51,175.99 331.93,177.64 332.36,176.28" fill="none" stroke="#144a64" stroke-width="1.22" stroke-linejoin="round" />
<polyline points="68.34,176.25 68.77,176.97 69.19,176 69.62,176.88 70.05,176.43 70.47,176.97 70.9,177.1 71.33,176.12 71.75,177.24 72.18,177.74 72.61,177.54 73.03,177.43 73.46,176.38 73.88,177.32 74.31,177.06 74.74,178.01 75.16,177.47 75.59,177.4 76.02,176.96 76.44,178.17 76.87,177.66 77.3,177.87 77.72,178.55 78.15,178.18 78.58,178.37 79,179.39 79.43,178.15 79.86,178.27 80.28,178.79 80.71,179.29 81.14,178.1 81.56,178.74 81.99,178.49 82.42,178.41 82.84,179.37 83.27,178.87 83.69,179.45 84.12,179.47 84.55,179.59 84.97,179.66 85.4,179.26 85.83,179.83 86.25,180.07 86.68,180.24 87.11,180.08 87.53,180.76 87.96,180.71 88.39,180.64 88.81,181 89.24,180.93 89.67,181.28 90.09,180.24 90.52,180.68 90.95,181.21 91.37,181.58 91.8,180.7 92.23,181.69 92.65,182.02 93.08,181.99 93.51,182.13 93.93,181.78 94.36,182.57 94.78,181.76 95.21,183.26 95.64,182.7 96.06,183.63 96.49,182.53 96.92,183.67 97.34,183.73 97.77,183.47 98.2,183.51 98.62,184.77 99.05,184.62 99.48,185.29 99.9,184.8 100.33,185.11 100.76,185.42 101.18,185.77 101.61,185.84 102.04,186.21 102.46,185.83 102.89,185.58 103.32,187.33 103.74,186.71 104.17,187.03 104.59,186.81 105.02,187.64 105.45,187.45 105.87,188.02 106.3,187.4 106.73,187.83 107.15,188.1 107.58,188 108.01,188.41 108.43,189.13 108.86,188.3 109.29,188.57 109.71,188.91 110.14,188.53 110.57,188.56 110.99,189.74 111.42,189.74 111.85,188.83 112.27,189.02 112.7,190.13 113.13,190.47 113.55,190.36 113.98,190.42 114.4,191.04 114.83,190.44 115.26,191.16 115.68,191.24 116.11,190.4 116.54,191.23 116.96,191.07 117.39,190.85 117.82,190.87 118.24,191.48 118.67,191.4 119.1,191.87 119.52,190.78 119.95,191.35 120.38,192.2 120.8,191.76 121.23,191.48 121.66,191.63 122.08,191.05 122.51,191.28 122.94,192.16 123.36,191.96 123.79,192.49 124.21,191.79 124.64,191.82 125.07,190.64 125.49,191.78 125.92,192.72 126.35,192.03 126.77,191.62 127.2,192.18 127.63,191.94 128.05,191.64 128.48,191.25 128.91,191.4 129.33,191.64 129.76,190.79 130.19,191.3 130.61,191.19 131.04,191.49 131.47,191.12 131.89,190.37 132.32,191.29 132.75,190.49 133.17,190.03 133.6,190.42 134.03,190.03 134.45,190.54 134.88,189.34 135.3,189.33 135.73,189.62 136.16,190.41 136.58,189.99 137.01,188.99 137.44,188.56 137.86,189.11 138.29,188.59 138.72,189.34 139.14,189.06 139.57,188.88 140,188.6 140.42,189.39 140.85,188.19 141.28,187.92 141.7,188.94 142.13,188.94 142.56,188.08 142.98,188.44 143.41,189.12 143.84,187.58 144.26,187.78 144.69,187.97 145.11,186.7 145.54,187.5 145.97,187.8 146.39,187.31 146.82,187.73 147.25,187.5 147.67,186.88 148.1,187.2 148.53,187.05 148.95,185.99 149.38,186.25 149.81,186.17 150.23,186.19 150.66,186.11 151.09,185.56 151.51,186.12 151.94,185.16 152.37,186.32 152.79,185.9 153.22,186.29 153.65,185.72 154.07,185.22 154.5,184.68 154.92,185.52 155.35,185.11 155.78,185.16 156.2,185.22 156.63,185.3 157.06,184.62 157.48,185.31 157.91,184.37 158.34,184.29 158.76,184.47 159.19,184.51 159.62,184.56 160.04,182.97 160.47,184.29 160.9,182.86 161.32,183.17 161.75,183.47 162.18,183.7 162.6,182.58 163.03,182.14 163.46,183.21 163.88,182.79 164.31,182.05 164.74,182.23 165.16,181.35 165.59,182.37 166.01,181.72 166.44,182.39 166.87,180.74 167.29,181.87 167.72,182.39 168.15,181.3 168.57,181.15 169,180.07 169.43,180.92 169.85,180.6 170.28,180.16 170.71,179.53 171.13,180.09 171.56,179.41 171.99,179.46 172.41,179.64 172.84,179.28 173.27,179.12 173.69,179.35 174.12,178.21 174.55,179.19 174.97,177.85 175.4,177.77 175.82,178.06 176.25,178.19 176.68,177.78 177.1,177.29 177.53,177.01 177.96,177.06 178.38,176.6 178.81,177.15 179.24,176.66 179.66,177.35 180.09,176.17 180.52,176.33 180.94,176.47 181.37,175.64 181.8,175.74 182.22,177.21 182.65,175.8 183.08,176.36 183.5,175.1 183.93,174.33 184.36,175.55 184.78,175.15 185.21,175.15 185.63,174.72 186.06,174.43 186.49,173.98 186.91,174.84 187.34,173.52 187.77,174.48 188.19,173.75 188.62,173.17 189.05,173.18 189.47,173.73 189.9,173.43 190.33,173.11 190.75,172.71 191.18,171.94 191.61,172.81 192.03,171.78 192.46,171.47 192.89,171.23 193.31,171.01 193.74,170.24 194.17,170.4 194.59,169.91 195.02,169.7 195.44,168.79 195.87,170.08 196.3,168.25 196.72,168.54 197.15,168.13 197.58,168.01 198,167.97 198.43,166.84 198.86,166.51 199.28,165.5 199.71,165.89 200.14,164.07 200.56,164.07 200.99,163.76 201.42,163.39 201.84,162.83 202.27,162.37 202.7,161.45 203.12,160.53 203.55,159.9 203.98,159.71 204.4,158.4 204.83,157.86 205.26,156.51 205.68,154.78 206.11,154.27 206.53,153.54 206.96,152.9 207.39,151.5 207.81,150.25 208.24,147.74 208.67,146.94 209.09,145.06 209.52,143.84 209.95,141.96 210.37,139.81 210.8,139.18 211.23,137.46 211.65,136.02 212.08,133.52 212.51,132.55 212.93,130.73 213.36,128.95 213.79,127.07 214.21,124.36 214.64,121.6 215.07,121.47 215.49,118.95 215.92,117.64 216.34,116.59 216.77,114.57 217.2,112.93 217.62,111.56 218.05,108.88 218.48,109.2 218.9,106.89 219.33,105.77 219.76,105.2 220.18,103.95 220.61,102.7 221.04,102.11 221.46,101.13 221.89,100.21 222.32,100.73 222.74,98.56 223.17,97.75 223.6,98.06 224.02,97.95 224.45,99.13 224.88,98.76 225.3,99.41 225.73,99.74 226.15,99.56 226.58,100.96 227.01,101.3 227.43,102.79 227.86,102.71 228.29,103.31 228.71,104.5 229.14,105.56 229.57,105.62 229.99,108.4 230.42,109.82 230.85,111.28 231.27,111.96 231.7,113.14 232.13,115.48 232.55,117.41 232.98,118.61 233.41,119.11 233.83,121.07 234.26,121.11 234.69,122.25 235.11,124 235.54,124.88 235.96,125.97 236.39,126.72 236.82,128.97 237.24,128.99 237.67,130.67 238.1,131.76 238.52,132.2 238.95,133.09 239.38,134.08 239.8,134.88 240.23,134.99 240.66,134.17 241.08,134.06 241.51,134.65 241.94,134.33 242.36,134.96 242.79,134.58 243.22,134.2 243.64,134.55 244.07,134.21 244.5,133.4 244.92,133.25 245.35,133.23 245.78,132.21 246.2,132.13 246.63,131.19 247.05,131.3 247.48,131.1 247.91,130.59 248.33,130.44 248.76,130.41 249.19,130.08 249.61,129.39 250.04,129.32 250.47,128.97 250.89,130.32 251.32,129.79 251.75,129.93 252.17,129.84 252.6,130.35 253.03,130.64 253.45,130.36 253.88,130.98 254.31,131.96 254.73,131.22 255.16,131.79 255.59,132.93 256.01,132.73 256.44,133.88 256.86,133.49 257.29,134.53 257.72,135.23 258.14,135.45 258.57,136.03 259,136.01 259.42,136.47 259.85,137 260.28,137.75 260.7,139.65 261.13,138.47 261.56,139.89 261.98,139.45 262.41,139.57 262.84,140.48 263.26,141.3 263.69,141.72 264.12,142.2 264.54,142.87 264.97,143.35 265.4,143.95 265.82,143.43 266.25,144.41 266.67,144.39 267.1,145.36 267.53,145.63 267.95,146.15 268.38,146.26 268.81,146.5 269.23,147.15 269.66,147.95 270.09,148.37 270.51,147.64 270.94,148.88 271.37,149.24 271.79,148.8 272.22,149.31 272.65,149.9 273.07,150.65 273.5,149.73 273.93,150.93 274.35,151.18 274.78,151.81 275.21,152.68 275.63,152.95 276.06,152.47 276.49,152.77 276.91,153.36 277.34,154.08 277.76,154.49 278.19,154.29 278.62,155.09 279.04,154.31 279.47,154.48 279.9,153.99 280.32,155.14 280.75,156.07 281.18,156.46 281.6,157.89 282.03,156.87 282.46,156.94 282.88,156.69 283.31,157.13 283.74,157.41 284.16,157.87 284.59,157.95 285.02,157.89 285.44,159.33 285.87,159.38 286.3,160.12 286.72,159.1 287.15,159.6 287.57,160.2 288,161.45 288.43,161.2 288.85,161.77 289.28,162.01 289.71,162.52 290.13,162.6 290.56,163.41 290.99,163.25 291.41,163.93 291.84,164.6 292.27,164.97 292.69,165.58 293.12,165.48 293.55,166.44 293.97,166.66 294.4,167.44 294.83,168.4 295.25,167.77 295.68,169.1 296.11,168.73 296.53,169.25 296.96,170.55 297.38,170.58 297.81,170.73 298.24,171.21 298.66,171.72 299.09,171.18 299.52,171.96 299.94,172 300.37,172.68 300.8,172.65 301.22,173.43 301.65,173.38 302.08,173.38 302.5,173.88 302.93,174.35 303.36,174.86 303.78,174.5 304.21,174.6 304.64,175.04 305.06,175.42 305.49,174.98 305.92,174.24 306.34,175.64 306.77,175.49 307.19,175.6 307.62,177.06 308.05,175.96 308.47,176.45 308.9,175.61 309.33,176.44 309.75,176.76 310.18,176.58 310.61,176.46 311.03,176.83 311.46,176.63 311.89,177.23 312.31,176.73 312.74,176.28 313.17,175.75 313.59,176.33 314.02,176.53 314.45,176.13 314.87,176.21 315.3,175.93 315.73,176.2 316.15,176.75 316.58,176.58 317.01,176.62 317.43,176.57 317.86,176.63 318.28,177.08 318.71,177.68 319.14,177.04 319.56,177.65 319.99,176.71 320.42,176.75 320.84,177.51 321.27,176.45 321.7,176.37 322.12,176.72 322.55,176.01 322.98,175.93 323.4,177.32 323.83,176.31 324.26,176.58 324.68,176.59 325.11,176.36 325.54,177.11 325.96,177.06 326.39,177.16 326.82,177.13 327.24,176.84 327.67,177.45 328.09,177.27 328.52,176.54 328.95,176.83 329.37,176.63 329.8,177.65 330.23,177.16 330.65,177.05 331.08,176.79 331.51,177.07 331.93,176.38 332.36,176.83" fill="none" stroke="#1e3e9e" stroke-width="1.22" stroke-linejoin="round" />
<polyline points="68.34,177.12 68.77,177.68 69.19,177.97 69.62,177.09 70.05,177.47 70.47,177.71 70.9,177.51 71.33,177.53 71.75,177.89 72.18,179.08 72.61,178.45 73.03,178.45 73.46,178.75 73.88,178.37 74.31,178.07 74.74,178.83 75.16,179.18 75.59,178.03 76.02,179.11 76.44,179.52 76.87,179.04 77.3,179.07 77.72,179.62 78.15,179.14 78.58,179.76 79,180.04 79.43,179.72 79.86,179.6 80.28,180.27 80.71,180.01 81.14,180.29 81.56,179.26 81.99,180.78 82.42,180.07 82.84,180.76 83.27,180.92 83.69,180.72 84.12,180.79 84.55,180.79 84.97,181.3 85.4,181.82 85.83,181.95 86.25,181.69 86.68,181.82 87.11,181.66 87.53,182.21 87.96,182.12 88.39,182.11 88.81,182.82 89.24,183.64 89.67,183.7 90.09,183.98 90.52,182.97 90.95,184.11 91.37,183.48 91.8,183.92 92.23,183.66 92.65,184.13 93.08,184.76 93.51,184.99 93.93,185.08 94.36,185.24 94.78,185.71 95.21,185.72 95.64,185.28 96.06,186.8 96.49,186.25 96.92,186.94 97.34,186.75 97.77,186.74 98.2,187.35 98.62,187.28 99.05,188.47 99.48,187.67 99.9,188.61 100.33,188.39 100.76,188.84 101.18,190.2 101.61,189.75 102.04,189.63 102.46,189.37 102.89,190.13 103.32,190.41 103.74,191.32 104.17,190.45 104.59,190.55 105.02,191.49 105.45,191.83 105.87,192.6 106.3,191.83 106.73,191.32 107.15,192.31 107.58,192.28 108.01,192.74 108.43,193.52 108.86,192.78 109.29,193.98 109.71,193.76 110.14,193.75 110.57,193.69 110.99,194.06 111.42,194.26 111.85,194.9 112.27,195.29 112.7,194.94 113.13,195.42 113.55,195.83 113.98,195.99 114.4,195.86 114.83,196.56 115.26,196.53 115.68,196.8 116.11,196.24 116.54,196.3 116.96,195.81 117.39,197.33 117.82,197.14 118.24,196.64 118.67,197.2 119.1,197.35 119.52,196.65 119.95,197.55 120.38,197.95 120.8,198.09 121.23,197.5 121.66,197.57 122.08,198.27 122.51,198.15 122.94,197.57 123.36,197.56 123.79,198.03 124.21,197.52 124.64,197.51 125.07,198.4 125.49,197.77 125.92,197.43 126.35,197.76 126.77,198.3 127.2,197.49 127.63,196.99 128.05,196.57 128.48,197.95 128.91,195.95 129.33,197.31 129.76,196.37 130.19,196.14 130.61,196.11 131.04,196.31 131.47,196.69 131.89,195.85 132.32,196.24 132.75,196.81 133.17,194.56 133.6,195.25 134.03,194.67 134.45,195.61 134.88,194.53 135.3,194.34 135.73,194.21 136.16,194.7 136.58,195.03 137.01,194.5 137.44,195.17 137.86,194.85 138.29,194.02 138.72,194.33 139.14,193.88 139.57,193.74 140,192.81 140.42,192.94 140.85,193.35 141.28,192.73 141.7,193.39 142.13,193.08 142.56,192.47 142.98,193.19 143.41,192.68 143.84,192.96 144.26,192.26 144.69,191.53 145.11,192.34 145.54,191.82 145.97,192.13 146.39,192.1 146.82,192 147.25,190.8 147.67,190.3 148.1,190.91 148.53,191.24 148.95,190.54 149.38,190.81 149.81,190.22 150.23,190.28 150.66,190.14 151.09,189.87 151.51,190.19 151.94,189.97 152.37,190.35 152.79,189.7 153.22,189.93 153.65,189.28 154.07,189.45 154.5,188.88 154.92,188.59 155.35,189.18 155.78,188.78 156.2,188.68 156.63,187.86 157.06,187.32 157.48,187.5 157.91,187.82 158.34,186.94 158.76,187.96 159.19,186.6 159.62,187.29 160.04,187.96 160.47,185.65 160.9,185.91 161.32,186.77 161.75,186.12 162.18,186.1 162.6,185.8 163.03,186.25 163.46,185.76 163.88,185.13 164.31,185.04 164.74,184.47 165.16,184.73 165.59,183.65 166.01,184.67 166.44,184.09 166.87,184.76 167.29,184.3 167.72,183.08 168.15,183.78 168.57,182.99 169,183.01 169.43,183.18 169.85,182.68 170.28,182.51 170.71,182.26 171.13,181.52 171.56,181.31 171.99,181.55 172.41,181.43 172.84,180.7 173.27,180.6 173.69,179.9 174.12,179.01 174.55,179.47 174.97,179.57 175.4,179.38 175.82,179.41 176.25,179.19 176.68,179 177.1,178.53 177.53,178.33 177.96,177.66 178.38,177.91 178.81,177.64 179.24,177.86 179.66,176.56 180.09,176.84 180.52,176.17 180.94,176.41 181.37,175.98 181.8,176.51 182.22,175.98 182.65,175.04 183.08,176.43 183.5,175.32 183.93,174.94 184.36,175.27 184.78,174.94 185.21,174.54 185.63,175.1 186.06,174.46 186.49,174.76 186.91,174.45 187.34,174.2 187.77,173.77 188.19,173.41 188.62,173.04 189.05,173.54 189.47,171.9 189.9,171.96 190.33,171.85 190.75,171.99 191.18,171.58 191.61,171.01 192.03,170.73 192.46,171.24 192.89,169.91 193.31,168.67 193.74,170.2 194.17,168.63 194.59,168.44 195.02,168.17 195.44,167.08 195.87,167.61 196.3,166.53 196.72,165.45 197.15,165.55 197.58,165.05 198,164.23 198.43,163.83 198.86,162.39 199.28,162.73 199.71,161.32 200.14,161.47 200.56,159.94 200.99,159.48 201.42,159.67 201.84,157.79 202.27,157.35 202.7,156.2 203.12,154.46 203.55,154.57 203.98,153.56 204.4,151.52 204.83,151 205.26,149.33 205.68,148.68 206.11,147.97 206.53,146.37 206.96,144.53 207.39,143.28 207.81,142.24 208.24,140.76 208.67,139.31 209.09,137.95 209.52,135.33 209.95,134.48 210.37,133.27 210.8,131.29 211.23,129.06 211.65,127.25 212.08,125.62 212.51,123.79 212.93,121.39 213.36,119.89 213.79,117.52 214.21,114.41 214.64,112.66 215.07,110.06 215.49,107.47 215.92,105.35 216.34,103.12 216.77,99.7 217.2,97.7 217.62,95.54 218.05,92.59 218.48,90.33 218.9,88.63 219.33,86.25 219.76,84.61 220.18,83.67 220.61,81.23 221.04,79.58 221.46,78.01 221.89,76.98 222.32,75.11 222.74,73.85 223.17,72.93 223.6,72.88 224.02,71.98 224.45,72.85 224.88,72.75 225.3,72.59 225.73,74.01 226.15,74.67 226.58,74.85 227.01,76.34 227.43,77.26 227.86,78.02 228.29,78.67 228.71,81.11 229.14,81.98 229.57,83.71 229.99,85.6 230.42,87.49 230.85,89.56 231.27,91.19 231.7,93.75 232.13,95.34 232.55,97.1 232.98,99.24 233.41,100.34 233.83,101.01 234.26,102.86 234.69,104.58 235.11,105.68 235.54,107.35 235.96,108.17 236.39,109.21 236.82,111.11 237.24,112.04 237.67,112.61 238.1,114.29 238.52,114.94 238.95,116.26 239.38,116.89 239.8,117.36 240.23,116.74 240.66,118.06 241.08,118.24 241.51,118.23 241.94,117.97 242.36,117.46 242.79,117.38 243.22,116.33 243.64,116.68 244.07,115.78 244.5,115.78 244.92,115.17 245.35,115.47 245.78,114.44 246.2,113.9 246.63,113.45 247.05,113.71 247.48,112.03 247.91,112.09 248.33,111.7 248.76,111.27 249.19,110.96 249.61,110.47 250.04,110.96 250.47,110.74 250.89,110.27 251.32,110.43 251.75,110.85 252.17,111.22 252.6,111.69 253.03,111.83 253.45,111.84 253.88,113.28 254.31,112.86 254.73,113.76 255.16,114.94 255.59,115.13 256.01,116.7 256.44,117.49 256.86,118 257.29,118.31 257.72,118.92 258.14,119.59 258.57,119.91 259,121.36 259.42,120.89 259.85,122.23 260.28,122.52 260.7,123.02 261.13,123.92 261.56,124.61 261.98,125.08 262.41,125.3 262.84,125.67 263.26,126.28 263.69,127.5 264.12,128.02 264.54,128.67 264.97,128.72 265.4,130.28 265.82,129.56 266.25,130.82 266.67,131.52 267.1,131.66 267.53,131.96 267.95,132.81 268.38,133.1 268.81,134.03 269.23,134.15 269.66,134.7 270.09,135.77 270.51,135.69 270.94,136.72 271.37,137.26 271.79,138.16 272.22,138.41 272.65,138.49 273.07,139.81 273.5,139.53 273.93,140.14 274.35,140.65 274.78,142.1 275.21,141.74 275.63,141.89 276.06,142.89 276.49,142.98 276.91,144.36 277.34,143.55 277.76,144.46 278.19,144.21 278.62,145.62 279.04,144.93 279.47,145.58 279.9,145.45 280.32,146.39 280.75,146.52 281.18,145.63 281.6,147.09 282.03,147.27 282.46,147.34 282.88,147.88 283.31,147.26 283.74,147.31 284.16,148.54 284.59,149.24 285.02,148.41 285.44,148.77 285.87,149.25 286.3,149.52 286.72,150.76 287.15,150.96 287.57,151.95 288,152.51 288.43,152.13 288.85,153.38 289.28,152.82 289.71,154.31 290.13,155.23 290.56,155.3 290.99,155.54 291.41,156.71 291.84,158.08 292.27,158.2 292.69,158.57 293.12,160.1 293.55,161.02 293.97,161.13 294.4,162.29 294.83,163.59 295.25,164.08 295.68,164.98 296.11,165.28 296.53,166.03 296.96,166.23 297.38,166.98 297.81,168.44 298.24,168.22 298.66,168.59 299.09,169.32 299.52,169.63 299.94,170.79 300.37,171.46 300.8,171.22 301.22,172.49 301.65,173.37 302.08,172.55 302.5,173.65 302.93,173.86 303.36,174.64 303.78,174.92 304.21,175.13 304.64,175.05 305.06,174.95 305.49,176.2 305.92,175.18 306.34,176.12 306.77,176.25 307.19,175.73 307.62,176.18 308.05,176.9 308.47,175.71 308.9,176.9 309.33,176.57 309.75,176.69 310.18,176.3 310.61,177.1 311.03,176.57 311.46,177.3 311.89,176.58 312.31,177.33 312.74,177.18 313.17,176.3 313.59,176.94 314.02,177.03 314.45,176.2 314.87,176.95 315.3,177.42 315.73,176.82 316.15,177.58 316.58,176.68 317.01,176.66 317.43,177.37 317.86,177.39 318.28,177.08 318.71,177.15 319.14,177.55 319.56,176.95 319.99,177.98 320.42,177.36 320.84,177.35 321.27,177.3 321.7,177.08 322.12,177.69 322.55,176.98 322.98,177.28 323.4,177.47 323.83,177.76 324.26,177.69 324.68,177.09 325.11,177.61 325.54,177.21 325.96,176.82 326.39,176.83 326.82,176.63 327.24,177.36 327.67,177.67 328.09,176.85 328.52,177.13 328.95,176.81 329.37,177.25 329.8,176.78 330.23,176.92 330.65,176.97 331.08,177.06 331.51,177.1 331.93,177.16 332.36,177.17" fill="none" stroke="#2626c6" stroke-width="1.22" stroke-linejoin="round" />
<polyline points="68.34,177.71 68.77,178.1 69.19,178.17 69.62,178.04 70.05,178.64 70.47,178.52 70.9,178.22 71.33,177.89 71.75,178.81 72.18,178.85 72.61,178.84 73.03,178.48 73.46,179.12 73.88,178.62 74.31,179.68 74.74,179.47 75.16,179.58 75.59,179.3 76.02,179.31 76.44,180.42 76.87,180.3 77.3,179.92 77.72,180.43 78.15,180.89 78.58,179.99 79,180.33 79.43,180.45 79.86,180.96 80.28,180.49 80.71,181.12 81.14,180.72 81.56,181.64 81.99,181.74 82.42,181.46 82.84,181.95 83.27,181.55 83.69,181.86 84.12,182.47 84.55,182.23 84.97,182.56 85.4,182.22 85.83,182.99 86.25,183.08 86.68,182.6 87.11,182.37 87.53,182.64 87.96,183.58 88.39,183.71 88.81,183.37 89.24,184.22 89.67,184.74 90.09,184.5 90.52,184.57 90.95,185.27 91.37,185.79 91.8,185.91 92.23,185.29 92.65,186.05 93.08,186.02 93.51,186.09 93.93,186.14 94.36,186.72 94.78,186.61 95.21,187.37 95.64,187.39 96.06,187.88 96.49,187.27 96.92,187.98 97.34,188.52 97.77,188.63 98.2,188.85 98.62,188.77 99.05,189.95 99.48,190.02 99.9,190.04 100.33,189.19 100.76,190.1 101.18,190.81 101.61,190.78 102.04,190.53 102.46,191.73 102.89,192.06 103.32,191.72 103.74,192.28 104.17,192.48 104.59,193.21 105.02,192.51 105.45,192.85 105.87,193.55 106.3,193.73 106.73,195.03 107.15,194.19 107.58,194.72 108.01,194.67 108.43,194.76 108.86,195.35 109.29,196.08 109.71,195.47 110.14,196.1 110.57,196.14 110.99,196.44 111.42,196.54 111.85,197.52 112.27,196.32 112.7,196.9 113.13,196.75 113.55,196.6 113.98,197.56 114.4,198.47 114.83,198.29 115.26,198.59 115.68,198.48 116.11,198.42 116.54,199.4 116.96,198.63 117.39,199.51 117.82,198.94 118.24,199.23 118.67,199.44 119.1,199.46 119.52,199.76 119.95,199.88 120.38,200.4 120.8,199.82 121.23,199.15 121.66,199.15 122.08,199.46 122.51,199.74 122.94,200.3 123.36,199.47 123.79,200.06 124.21,200.04 124.64,200.1 125.07,199.91 125.49,200.07 125.92,199.87 126.35,200.19 126.77,199.83 127.2,198.69 127.63,199.52 128.05,199.48 128.48,199.06 128.91,198.88 129.33,199.47 129.76,198.98 130.19,198.4 130.61,198.52 131.04,198.43 131.47,197.72 131.89,198.45 132.32,198 132.75,198.08 133.17,197.13 133.6,198.33 134.03,197.67 134.45,197.46 134.88,196.83 135.3,196.7 135.73,196.24 136.16,197.26 136.58,196.2 137.01,196.47 137.44,196.47 137.86,195.86 138.29,196.31 138.72,196.63 139.14,195.83 139.57,196.14 140,195.67 140.42,195.13 140.85,195.02 141.28,194.38 141.7,194.95 142.13,195.33 142.56,194.89 142.98,194.81 143.41,194.79 143.84,193.99 144.26,194.28 144.69,194.66 145.11,193.46 145.54,193.63 145.97,193.3 146.39,193.25 146.82,192.89 147.25,192.98 147.67,192.35 148.1,192.52 148.53,192.38 148.95,192.22 149.38,192.8 149.81,192.14 150.23,192.02 150.66,191.68 151.09,192.14 151.51,190.8 151.94,191.24 152.37,191.6 152.79,191.63 153.22,190.91 153.65,190.67 154.07,190.75 154.5,190.26 154.92,190.39 155.35,189.75 155.78,190.08 156.2,189.64 156.63,189.07 157.06,188.27 157.48,189.51 157.91,189.12 158.34,189.09 158.76,188.27 159.19,188.86 159.62,188.41 160.04,188.05 160.47,188.24 160.9,188.05 161.32,187.68 161.75,188.13 162.18,187.68 162.6,187.08 163.03,186.67 163.46,186.6 163.88,187.03 164.31,186.32 164.74,185.62 165.16,185.51 165.59,185.55 166.01,185.67 166.44,184.86 166.87,185.12 167.29,185.14 167.72,184.78 168.15,183.67 168.57,183.93 169,183.32 169.43,183.72 169.85,182.91 170.28,183.26 170.71,182.83 171.13,181.51 171.56,181.92 171.99,182.15 172.41,181.7 172.84,181.26 173.27,180.63 173.69,181.03 174.12,181.24 174.55,180.39 174.97,180 175.4,179.69 175.82,178.95 176.25,179.09 176.68,178.64 177.1,179.15 177.53,178.13 177.96,177.42 178.38,177.72 178.81,177.71 179.24,177.55 179.66,176.72 180.09,177.6 180.52,177.1 180.94,176.7 181.37,176.42 181.8,176.72 182.22,176.25 182.65,176.31 183.08,175.98 183.5,175.9 183.93,176.11 184.36,175.47 184.78,174.91 185.21,175.43 185.63,174.92 186.06,174.34 186.49,174.8 186.91,174.07 187.34,174.32 187.77,173.22 188.19,172.51 188.62,172.37 189.05,172.99 189.47,172.34 189.9,172.31 190.33,172.03 190.75,171.17 191.18,171.99 191.61,170.74 192.03,170.84 192.46,169.92 192.89,170.05 193.31,170.02 193.74,169.24 194.17,168.64 194.59,168.46 195.02,167.81 195.44,167.71 195.87,167.83 196.3,166.09 196.72,165.6 197.15,165.24 197.58,164.67 198,163.67 198.43,163.63 198.86,163.07 199.28,162.2 199.71,160.96 200.14,161.25 200.56,159.47 200.99,159.4 201.42,158.75 201.84,156.96 202.27,156.61 202.7,156.17 203.12,154.85 203.55,153.36 203.98,152.25 204.4,151.84 204.83,150.44 205.26,149.22 205.68,148.6 206.11,146.99 206.53,145.88 206.96,144.76 207.39,143.37 207.81,141.73 208.24,140.28 208.67,139 209.09,137.38 209.52,135.17 209.95,133.88 210.37,131.93 210.8,130.08 211.23,128.55 211.65,126.03 212.08,125.29 212.51,122.58 212.93,120.89 213.36,117.82 213.79,115.61 214.21,114.73 214.64,111.98 215.07,108.94 215.49,106.49 215.92,103.96 216.34,101.57 216.77,98.55 217.2,95.59 217.62,92.98 218.05,89.69 218.48,88.21 218.9,84.42 219.33,82.61 219.76,79.58 220.18,77.79 220.61,75.67 221.04,72.76 221.46,70.9 221.89,68.68 222.32,66.93 222.74,64.63 223.17,63.11 223.6,62.07 224.02,62.26 224.45,61.92 224.88,62.67 225.3,63.26 225.73,63.7 226.15,64.35 226.58,65.85 227.01,66.84 227.43,67.9 227.86,68.92 228.29,70.42 228.71,70.94 229.14,73.1 229.57,74.63 229.99,77.22 230.42,78.97 230.85,81.27 231.27,83.92 231.7,85.24 232.13,88.09 232.55,89.57 232.98,91.7 233.41,93.87 233.83,95.1 234.26,96.13 234.69,97.64 235.11,99.01 235.54,100.48 235.96,102.4 236.39,103.05 236.82,105.07 237.24,105.22 237.67,106.75 238.1,107.77 238.52,108.5 238.95,109.12 239.38,110.5 239.8,111.2 240.23,111.37 240.66,112.05 241.08,111.76 241.51,110.73 241.94,111.69 242.36,110.85 242.79,111.43 243.22,110.5 243.64,110.42 244.07,109.96 244.5,109.33 244.92,108.45 245.35,108.63 245.78,108.22 246.2,108.21 246.63,107.16 247.05,107.06 247.48,106.23 247.91,106.19 248.33,105.14 248.76,106.31 249.19,105.38 249.61,104.71 250.04,105.06 250.47,105.16 250.89,104.96 251.32,105.52 251.75,105.16 252.17,104.57 252.6,105.49 253.03,106.87 253.45,107.33 253.88,107.76 254.31,107.87 254.73,109.29 255.16,109.97 255.59,110.1 256.01,110.87 256.44,112.12 256.86,113.17 257.29,114.08 257.72,114.45 258.14,115.72 258.57,115.17 259,116.34 259.42,116.55 259.85,116.65 260.28,117.59 260.7,119.18 261.13,119.06 261.56,119.63 261.98,121.07 262.41,121.84 262.84,122.19 263.26,123.46 263.69,122.92 264.12,125.12 264.54,125.26 264.97,125.58 265.4,126.19 265.82,126.67 266.25,127.26 266.67,128.08 267.1,128.18 267.53,130.1 267.95,129.87 268.38,130.77 268.81,131.04 269.23,131.6 269.66,132.64 270.09,133.1 270.51,133.09 270.94,133.81 271.37,134.74 271.79,134.18 272.22,134.59 272.65,136.59 273.07,136.39 273.5,136.02 273.93,137.19 274.35,137.89 274.78,138.53 275.21,139.12 275.63,139.43 276.06,140 276.49,139.91 276.91,140.77 277.34,141.18 277.76,141.85 278.19,141.75 278.62,142.42 279.04,142.45 279.47,142.26 279.9,142.79 280.32,143 280.75,143.3 281.18,143.66 281.6,143.97 282.03,144.27 282.46,144.09 282.88,145.06 283.31,144.35 283.74,145.13 284.16,145.71 284.59,145.91 285.02,146.3 285.44,146.32 285.87,147.04 286.3,146.71 286.72,147.94 287.15,149.04 287.57,148.98 288,150.07 288.43,149.91 288.85,150.12 289.28,150.95 289.71,152.41 290.13,152.88 290.56,152.57 290.99,153.85 291.41,154.7 291.84,155.06 292.27,155.34 292.69,156.67 293.12,158.02 293.55,158.86 293.97,159.68 294.4,161.09 294.83,162.18 295.25,162.63 295.68,163.87 296.11,164.34 296.53,165.03 296.96,164.84 297.38,166.73 297.81,167.08 298.24,167.72 298.66,168.1 299.09,168.47 299.52,169.68 299.94,170.39 300.37,171.28 300.8,171.55 301.22,171.5 301.65,172.2 302.08,173.1 302.5,173.3 302.93,173.56 303.36,173.76 303.78,174.54 304.21,174.71 304.64,175.6 305.06,175.57 305.49,174.7 305.92,176.43 306.34,175.91 306.77,175.9 307.19,176.33 307.62,176.69 308.05,176.57 308.47,176.72 308.9,176.9 309.33,177.74 309.75,177.18 310.18,177.56 310.61,177.52 311.03,177.28 311.46,177.15 311.89,177.07 312.31,177.63 312.74,177.08 313.17,177 313.59,177.02 314.02,176.94 314.45,177.55 314.87,177.58 315.3,177.19 315.73,178.07 316.15,177.46 316.58,177.76 317.01,177.7 317.43,178.25 317.86,177.93 318.28,177.59 318.71,177.24 319.14,177.21 319.56,177.64 319.99,177.69 320.42,177.95 320.84,177.47 321.27,177.73 321.7,177.4 322.12,176.95 322.55,177.66 322.98,178.25 323.4,178 323.83,178.24 324.26,178.14 324.68,177.16 325.11,177.59 325.54,178.28 325.96,177.43 326.39,177.19 326.82,177.83 327.24,177.96 327.67,177.83 328.09,177.59 328.52,177.45 328.95,177.23 329.37,177.22 329.8,177.24 330.23,177.17 330.65,177.44 331.08,178.31 331.51,177.76 331.93,177.58 332.36,177.86" fill="none" stroke="#1e1ed4" stroke-width="1.22" stroke-linejoin="round" />
<polyline points="68.34,178.38 68.77,178.29 69.19,178.49 69.62,178.71 70.05,178.57 70.47,178.77 70.9,178.44 71.33,178.04 71.75,178.69 72.18,178.77 72.61,178.43 73.03,178.52 73.46,178.65 73.88,179.04 74.31,178.79 74.74,178.6 75.16,179.35 75.59,179.1 76.02,179.65 76.44,179.51 76.87,179.76 77.3,179.29 77.72,179.71 78.15,179.26 78.58,179.37 79,179.56 79.43,180.43 79.86,179.83 80.28,179.75 80.71,179.77 81.14,180.41 81.56,180.13 81.99,180.39 82.42,180.41 82.84,179.88 83.27,180.62 83.69,180.48 84.12,180.29 84.55,180.93 84.97,180.92 85.4,181 85.83,181.18 86.25,181.79 86.68,181.53 87.11,181.28 87.53,182.46 87.96,181.84 88.39,182.29 88.81,182.76 89.24,182.07 89.67,182.71 90.09,183.59 90.52,183.38 90.95,183.43 91.37,183.91 91.8,183.84 92.23,184.31 92.65,184.29 93.08,184.25 93.51,185.19 93.93,185.11 94.36,185.55 94.78,185.57 95.21,186.22 95.64,186.23 96.06,186.32 96.49,186.18 96.92,186.33 97.34,187.4 97.77,187.45 98.2,187.21 98.62,188.35 99.05,188.07 99.48,188.2 99.9,187.99 100.33,188.44 100.76,189.03 101.18,189.3 101.61,189.52 102.04,189.17 102.46,190.09 102.89,190.3 103.32,190.34 103.74,190.75 104.17,191.03 104.59,191.59 105.02,191.46 105.45,191.85 105.87,191.55 106.3,191.96 106.73,192.43 107.15,192.43 107.58,193 108.01,192.75 108.43,193.33 108.86,193.35 109.29,194.21 109.71,193.88 110.14,194.79 110.57,195.13 110.99,194.76 111.42,195.19 111.85,195.04 112.27,194.56 112.7,195.82 113.13,195.96 113.55,195.9 113.98,196.01 114.4,196.45 114.83,196.67 115.26,196.57 115.68,196.84 116.11,197.57 116.54,197.45 116.96,197.6 117.39,198.17 117.82,197.92 118.24,198.48 118.67,198.05 119.1,198.5 119.52,198.71 119.95,199.11 120.38,199.13 120.8,199.93 121.23,199.8 121.66,199.46 122.08,200.46 122.51,199.62 122.94,200.65 123.36,199.96 123.79,200.66 124.21,200.26 124.64,200.63 125.07,201.34 125.49,200.55 125.92,200.63 126.35,201.28 126.77,201.49 127.2,201.58 127.63,201.99 128.05,201.42 128.48,202.11 128.91,202.06 129.33,202.44 129.76,202.5 130.19,202.83 130.61,202.08 131.04,202.67 131.47,202.39 131.89,202.82 132.32,203.17 132.75,203.16 133.17,203.35 133.6,203.27 134.03,203.51 134.45,203.6 134.88,204.07 135.3,203.99 135.73,203.27 136.16,204.16 136.58,204.4 137.01,204.03 137.44,203.77 137.86,204.83 138.29,204.5 138.72,204.73 139.14,205.2 139.57,204.43 140,204.76 140.42,204.8 140.85,205.14 141.28,204.79 141.7,205.17 142.13,205.08 142.56,205.44 142.98,205.5 143.41,204.66 143.84,205.29 144.26,205.02 144.69,205.12 145.11,205.23 145.54,205.22 145.97,204.8 146.39,205.06 146.82,204.95 147.25,204.83 147.67,204.36 148.1,204.45 148.53,204.46 148.95,204.69 149.38,204.86 149.81,203.97 150.23,203.85 150.66,204.11 151.09,203.75 151.51,203.55 151.94,203.4 152.37,203.24 152.79,203.57 153.22,202.77 153.65,203.57 154.07,202.72 154.5,202.7 154.92,202.43 155.35,201.95 155.78,201.93 156.2,202.65 156.63,202.65 157.06,201.61 157.48,202.02 157.91,201.46 158.34,200.94 158.76,201.54 159.19,201.44 159.62,200.38 160.04,200.18 160.47,200 160.9,199.62 161.32,199.63 161.75,199.56 162.18,198.8 162.6,198.76 163.03,198.68 163.46,197.64 163.88,197.52 164.31,197.04 164.74,197.17 165.16,196.7 165.59,196.45 166.01,196.03 166.44,195.27 166.87,195.2 167.29,194.4 167.72,193.98 168.15,192.98 168.57,193.7 169,192.48 169.43,192.36 169.85,191.88 170.28,191.91 170.71,191.11 171.13,190.24 171.56,190.05 171.99,189.53 172.41,189.18 172.84,188.22 173.27,188.14 173.69,188.38 174.12,187.36 174.55,187.29 174.97,187.2 175.4,185.76 175.82,184.59 176.25,184.5 176.68,184.37 177.1,183.75 177.53,182.51 177.96,182.3 178.38,181.8 178.81,181.27 179.24,180.64 179.66,179.75 180.09,179.19 180.52,178.65 180.94,178.43 181.37,177.28 181.8,177.09 182.22,175.94 182.65,176.25 183.08,175.44 183.5,175.06 183.93,175.23 184.36,173.96 184.78,173.84 185.21,174.3 185.63,173.7 186.06,173.67 186.49,174.53 186.91,173.4 187.34,173.35 187.77,173.14 188.19,173.36 188.62,172.89 189.05,172.66 189.47,171.99 189.9,172.08 190.33,172 190.75,171.28 191.18,171.77 191.61,171.5 192.03,171.75 192.46,170.36 192.89,170.3 193.31,170.04 193.74,169.82 194.17,169.68 194.59,169.27 195.02,169.02 195.44,168.55 195.87,167.98 196.3,166.97 196.72,166.75 197.15,166.38 197.58,165.95 198,165.34 198.43,163.93 198.86,163.62 199.28,163.08 199.71,162.5 200.14,162.02 200.56,160.88 200.99,159.7 201.42,159.22 201.84,158.2 202.27,157.18 202.7,156.02 203.12,155.5 203.55,153.92 203.98,152.98 204.4,151.22 204.83,150.59 205.26,148.93 205.68,147.37 206.11,146.72 206.53,145.52 206.96,143.91 207.39,142.6 207.81,141.51 208.24,139.56 208.67,137.53 209.09,136.75 209.52,135.14 209.95,133.79 210.37,131.64 210.8,130.43 211.23,128.59 211.65,125.9 212.08,124.65 212.51,121.9 212.93,119.59 213.36,117.77 213.79,115.35 214.21,112.49 214.64,110.77 215.07,108.4 215.49,106.09 215.92,102.92 216.34,99.59 216.77,96.79 217.2,94.36 217.62,91.2 218.05,87.91 218.48,84.48 218.9,81.5 219.33,78.27 219.76,75.23 220.18,72.16 220.61,68.43 221.04,64.52 221.46,60.75 221.89,56.83 222.32,52.96 222.74,50.46 223.17,48.35 223.6,47.47 224.02,46.28 224.45,47.22 224.88,47.43 225.3,47.29 225.73,48.14 226.15,49.39 226.58,51.01 227.01,51.73 227.43,53.08 227.86,53.91 228.29,54.63 228.71,56.78 229.14,58.93 229.57,61.19 229.99,63.16 230.42,65.72 230.85,68.66 231.27,70.88 231.7,73.92 232.13,75.67 232.55,78.03 232.98,80.13 233.41,82.46 233.83,83.73 234.26,85.58 234.69,87.31 235.11,88.94 235.54,90.9 235.96,92.56 236.39,93.37 236.82,95.21 237.24,96.52 237.67,97.61 238.1,99.79 238.52,100.62 238.95,101.31 239.38,102.11 239.8,103.09 240.23,103.17 240.66,103.81 241.08,104.45 241.51,104.34 241.94,103.66 242.36,103.61 242.79,104.18 243.22,102.8 243.64,102.73 244.07,102.1 244.5,102.29 244.92,101.83 245.35,101.67 245.78,99.97 246.2,100.43 246.63,99.38 247.05,99.7 247.48,99 247.91,99.23 248.33,98.44 248.76,97.66 249.19,98.15 249.61,97.15 250.04,97.25 250.47,97.64 250.89,97.47 251.32,97.57 251.75,97.65 252.17,98.12 252.6,98.61 253.03,98.91 253.45,99.69 253.88,100.38 254.31,100.62 254.73,101 255.16,102.55 255.59,102.79 256.01,103.79 256.44,104.69 256.86,104.86 257.29,106.11 257.72,106.19 258.14,107.71 258.57,108.04 259,109.02 259.42,110.03 259.85,110.46 260.28,111.62 260.7,112.32 261.13,113.51 261.56,114.85 261.98,115.52 262.41,116.46 262.84,117.14 263.26,118.75 263.69,119.4 264.12,120.88 264.54,120.95 264.97,122.35 265.4,123.36 265.82,123.51 266.25,123.85 266.67,125.46 267.1,126.01 267.53,126.59 267.95,127.39 268.38,127.54 268.81,128.58 269.23,129.16 269.66,129.32 270.09,130.34 270.51,130.49 270.94,131.48 271.37,132.06 271.79,132.74 272.22,131.95 272.65,133.14 273.07,133.38 273.5,133.89 273.93,134.24 274.35,134.67 274.78,134.43 275.21,135.8 275.63,136.33 276.06,136.5 276.49,136.96 276.91,136.58 277.34,136.88 277.76,137.8 278.19,138.25 278.62,138.19 279.04,137.87 279.47,139.54 279.9,138.64 280.32,139.4 280.75,138.9 281.18,139.81 281.6,139.75 282.03,140.36 282.46,140.39 282.88,139.8 283.31,140.21 283.74,140.86 284.16,141.28 284.59,141.9 285.02,141.69 285.44,141.89 285.87,142.27 286.3,142.69 286.72,143.53 287.15,143.73 287.57,144.35 288,144.58 288.43,145.11 288.85,146.56 289.28,147.56 289.71,148.13 290.13,149.14 290.56,150.01 290.99,150.59 291.41,151.75 291.84,152.09 292.27,153.27 292.69,154.14 293.12,155.31 293.55,156.54 293.97,157.67 294.4,158.48 294.83,159.62 295.25,160.37 295.68,161.43 296.11,162.82 296.53,163.21 296.96,164.49 297.38,164.99 297.81,165.62 298.24,166.96 298.66,166.96 299.09,167.66 299.52,168.47 299.94,169.26 300.37,169.92 300.8,170.78 301.22,171.17 301.65,171.87 302.08,172.23 302.5,173.21 302.93,173.22 303.36,173.71 303.78,174.23 304.21,174.7 304.64,174.68 305.06,175.7 305.49,175.25 305.92,175.58 306.34,175.81 306.77,176.02 307.19,176.6 307.62,176.69 308.05,176.59 308.47,176.86 308.9,177.11 309.33,177.85 309.75,177.29 310.18,177.2 310.61,177.35 311.03,177.68 311.46,178.33 311.89,177.51 312.31,177.89 312.74,178.71 313.17,177.74 313.59,178.39 314.02,178.34 314.45,178.13 314.87,177.49 315.3,178.06 315.73,177.86 316.15,177.37 316.58,177.43 317.01,178.02 317.43,178.08 317.86,178.43 318.28,178.25 318.71,177.88 319.14,177.9 319.56,178 319.99,177.71 320.42,178.32 320.84,178.08 321.27,177.83 321.7,177.88 322.12,177.72 322.55,177.96 322.98,178.2 323.4,177.98 323.83,178.45 324.26,178.67 324.68,177.92 325.11,178.14 325.54,178.02 325.96,178.71 326.39,178.26 326.82,178.34 327.24,178.43 327.67,178.91 328.09,178.26 328.52,177.85 328.95,178.02 329.37,178.36 329.8,178.16 330.23,177.9 330.65,179.09 331.08,178.2 331.51,177.97 331.93,177.93 332.36,177.58" fill="none" stroke="#16168a" stroke-width="1.22" stroke-linejoin="round" />
<line x1="68.1" y1="174.5" x2="331.5" y2="174.5" stroke="#111" stroke-width="1.0" />
<rect x="68.1" y="38.9" width="263.4" height="170.4" fill="none" stroke="#3c3c3c" stroke-width="1.25"/>
<line x1="63.6" y1="197.56" x2="68.1" y2="197.56" stroke="#3c3c3c" stroke-width="1.1" />
<text x="61.5" y="201.16" font-size="12" text-anchor="end" font-weight="normal" fill="#222" stroke="#222" stroke-width="0.2" font-family='"Liberation Sans", sans-serif' >-2</text>
<line x1="63.6" y1="175" x2="68.1" y2="175" stroke="#3c3c3c" stroke-width="1.1" />
<text x="61.5" y="178.6" font-size="12" text-anchor="end" font-weight="normal" fill="#222" stroke="#222" stroke-width="0.2" font-family='"Liberation Sans", sans-serif' >0</text>
<line x1="63.6" y1="152.44" x2="68.1" y2="152.44" stroke="#3c3c3c" stroke-width="1.1" />
<text x="61.5" y="156.04" font-size="12" text-anchor="end" font-weight="normal" fill="#222" stroke="#222" stroke-width="0.2" font-family='"Liberation Sans", sans-serif' >2</text>
<line x1="63.6" y1="129.88" x2="68.1" y2="129.88" stroke="#3c3c3c" stroke-width="1.1" />
<text x="61.5" y="133.48" font-size="12" text-anchor="end" font-weight="normal" fill="#222" stroke="#222" stroke-width="0.2" font-family='"Liberation Sans", sans-serif' >4</text>
<line x1="63.6" y1="107.32" x2="68.1" y2="107.32" stroke="#3c3c3c" stroke-width="1.1" />
<text x="61.5" y="110.92" font-size="12" text-anchor="end" font-weight="normal" fill="#222" stroke="#222" stroke-width="0.2" font-family='"Liberation Sans", sans-serif' >6</text>
<line x1="63.6" y1="84.76" x2="68.1" y2="84.76" stroke="#3c3c3c" stroke-width="1.1" />
<text x="61.5" y="88.36" font-size="12" text-anchor="end" font-weight="normal" fill="#222" stroke="#222" stroke-width="0.2" font-family='"Liberation Sans", sans-serif' >8</text>
<line x1="63.6" y1="62.2" x2="68.1" y2="62.2" stroke="#3c3c3c" stroke-width="1.1" />
<text x="61.5" y="65.8" font-size="12" text-anchor="end" font-weight="normal" fill="#222" stroke="#222" stroke-width="0.2" font-family='"Liberation Sans", sans-serif' >10</text>
<line x1="63.6" y1="39.64" x2="68.1" y2="39.64" stroke="#3c3c3c" stroke-width="1.1" />
<text x="57.6" y="42.4" font-size="12" text-anchor="end" font-weight="normal" fill="#222" stroke="#222" stroke-width="0.2" font-family='"Liberation Sans", sans-serif' >12 x10</text>
<text x="57.8" y="33.8" font-size="8" text-anchor="start" font-weight="normal" fill="#222" stroke="#222" stroke-width="0.2" font-family='"Liberation Sans", sans-serif' >-3</text>
<line x1="77.8" y1="209.3" x2="77.8" y2="212.8" stroke="#3c3c3c" stroke-width="1.1" />
<text x="77.8" y="227.2" font-size="12.2" text-anchor="middle" font-weight="normal" fill="#222" stroke="#222" stroke-width="0.2" font-family='"Liberation Sans", sans-serif' >450</text>
<line x1="120.8" y1="209.3" x2="120.8" y2="212.8" stroke="#3c3c3c" stroke-width="1.1" />
<text x="120.8" y="227.2" font-size="12.2" text-anchor="middle" font-weight="normal" fill="#222" stroke="#222" stroke-width="0.2" font-family='"Liberation Sans", sans-serif' >500</text>
<line x1="163.8" y1="209.3" x2="163.8" y2="212.8" stroke="#3c3c3c" stroke-width="1.1" />
<text x="163.8" y="227.2" font-size="12.2" text-anchor="middle" font-weight="normal" fill="#222" stroke="#222" stroke-width="0.2" font-family='"Liberation Sans", sans-serif' >550</text>
<line x1="206.8" y1="209.3" x2="206.8" y2="212.8" stroke="#3c3c3c" stroke-width="1.1" />
<text x="206.8" y="227.2" font-size="12.2" text-anchor="middle" font-weight="normal" fill="#222" stroke="#222" stroke-width="0.2" font-family='"Liberation Sans", sans-serif' >600</text>
<line x1="249.8" y1="209.3" x2="249.8" y2="212.8" stroke="#3c3c3c" stroke-width="1.1" />
<text x="249.8" y="227.2" font-size="12.2" text-anchor="middle" font-weight="normal" fill="#222" stroke="#222" stroke-width="0.2" font-family='"Liberation Sans", sans-serif' >650</text>
<line x1="292.8" y1="209.3" x2="292.8" y2="212.8" stroke="#3c3c3c" stroke-width="1.1" />
<text x="292.8" y="227.2" font-size="12.2" text-anchor="middle" font-weight="normal" fill="#222" stroke="#222" stroke-width="0.2" font-family='"Liberation Sans", sans-serif' >700</text>
<text x="199.8" y="239.3" font-size="12.4" text-anchor="middle" font-weight="normal" fill="#222" stroke="#222" stroke-width="0.2" font-family='"Liberation Sans", sans-serif' >Wavelength (nm)</text>
<text x="0" y="0" font-size="15" text-anchor="middle" font-weight="normal" fill="#222" stroke="#222" stroke-width="0.2" font-family='"Liberation Sans", sans-serif' transform="translate(36.2,123) rotate(-90)">ΔT / T</text>
<text x="274.4" y="49" font-size="8.75" text-anchor="start" font-weight="normal" fill="#111" stroke="#111" stroke-width="0.2" font-family='"Liberation Sans", sans-serif' >Time Delay</text>
<line x1="274.4" y1="50.7" x2="318.3" y2="50.7" stroke="#111" stroke-width="0.7" />
<line x1="275.2" y1="56.9" x2="291.4" y2="56.9" stroke="#16168a" stroke-width="1.8" />
<text x="325.9" y="60" font-size="8.4" text-anchor="end" font-weight="normal" fill="#111" stroke="#111" stroke-width="0.2" font-family='"Liberation Sans", sans-serif' >1 ps</text>
<line x1="275.2" y1="66.65" x2="291.4" y2="66.65" stroke="#1e1ed4" stroke-width="1.8" />
<text x="325.9" y="69.75" font-size="8.4" text-anchor="end" font-weight="normal" fill="#111" stroke="#111" stroke-width="0.2" font-family='"Liberation Sans", sans-serif' >5 ps</text>
<line x1="275.2" y1="76.4" x2="291.4" y2="76.4" stroke="#2626c6" stroke-width="1.8" />
<text x="325.9" y="79.5" font-size="8.4" text-anchor="end" font-weight="normal" fill="#111" stroke="#111" stroke-width="0.2" font-family='"Liberation Sans", sans-serif' >10 ps</text>
<line x1="275.2" y1="86.15" x2="291.4" y2="86.15" stroke="#1e3e9e" stroke-width="1.8" />
<text x="325.9" y="89.25" font-size="8.4" text-anchor="end" font-weight="normal" fill="#111" stroke="#111" stroke-width="0.2" font-family='"Liberation Sans", sans-serif' >25 ps</text>
<line x1="275.2" y1="95.9" x2="291.4" y2="95.9" stroke="#144a64" stroke-width="1.8" />
<text x="325.9" y="99" font-size="8.4" text-anchor="end" font-weight="normal" fill="#111" stroke="#111" stroke-width="0.2" font-family='"Liberation Sans", sans-serif' >50 ps</text>
<line x1="275.2" y1="105.65" x2="291.4" y2="105.65" stroke="#1a6444" stroke-width="1.8" />
<text x="325.9" y="108.75" font-size="8.4" text-anchor="end" font-weight="normal" fill="#111" stroke="#111" stroke-width="0.2" font-family='"Liberation Sans", sans-serif' >100 ps</text>
<line x1="275.2" y1="115.4" x2="291.4" y2="115.4" stroke="#1e8c1e" stroke-width="1.8" />
<text x="325.9" y="118.5" font-size="8.4" text-anchor="end" font-weight="normal" fill="#111" stroke="#111" stroke-width="0.2" font-family='"Liberation Sans", sans-serif' >250 ps</text>
<line x1="275.2" y1="125.15" x2="291.4" y2="125.15" stroke="#28ac20" stroke-width="1.8" />
<text x="325.9" y="128.25" font-size="8.4" text-anchor="end" font-weight="normal" fill="#111" stroke="#111" stroke-width="0.2" font-family='"Liberation Sans", sans-serif' >500 ps</text>
<rect x="92.3" y="43.3" width="108.39999999999999" height="85.10000000000001" fill="#fff" stroke="#3c3c3c" stroke-width="1.15"/>
<line x1="92.3" y1="110.5" x2="200.7" y2="110.5" stroke="#444" stroke-width="0.8" />
<polyline points="92.56,110.95 92.78,110.44 92.99,110.91 93.21,110.54 93.43,111.16 93.64,111.81 93.86,111.12 94.07,111.54 94.29,111.62 94.51,111.28 94.72,111.87 94.94,111.63 95.16,112.04 95.37,112.35 95.59,112.16 95.81,112.56 96.02,112.23 96.24,112.42 96.45,112.78 96.67,112.77 96.89,112.91 97.1,113.26 97.32,113.09 97.54,113.51 97.75,113.43 97.97,113.96 98.19,113.84 98.4,113.9 98.62,114.35 98.83,114.4 99.05,114.58 99.27,114.41 99.48,114.93 99.7,114.79 99.92,114.67 100.13,115.12 100.35,115.78 100.57,115.5 100.78,115.42 101,115.92 101.21,115.73 101.43,116.01 101.65,116.22 101.86,116.56 102.08,116.78 102.3,116.87 102.51,116.95 102.73,116.99 102.95,117.18 103.16,117.51 103.38,117.58 103.6,117.65 103.81,118.32 104.03,118.26 104.24,118.43 104.46,118.44 104.68,118.62 104.89,118.78 105.11,119.1 105.33,118.87 105.54,119.13 105.76,119.77 105.98,119.52 106.19,119.96 106.41,119.41 106.62,120.11 106.84,120.25 107.06,120.28 107.27,120.5 107.49,120.61 107.71,120.35 107.92,120.83 108.14,120.81 108.36,120.87 108.57,121.54 108.79,121 109,121.38 109.22,121.45 109.44,122.05 109.65,121.76 109.87,122 110.09,122.37 110.3,121.8 110.52,122.37 110.74,122.7 110.95,122.73 111.17,122.68 111.38,122.75 111.6,123.01 111.82,122.97 112.03,123.03 112.25,123.83 112.47,123.75 112.68,123.97 112.9,123.81 113.12,123.56 113.33,123.85 113.55,124.37 113.76,124.26 113.98,123.99 114.2,124.45 114.41,124.4 114.63,124.35 114.85,124.94 115.06,124.33 115.28,124.49 115.5,124.48 115.71,124.92 115.93,124.91 116.14,124.92 116.36,124.75 116.58,124.84 116.79,124.86 117.01,124.48 117.23,124.65 117.44,125.2 117.66,125.22 117.88,124.65 118.09,125.2 118.31,124.8 118.52,124.78 118.74,125.35 118.96,125.3 119.17,125.24 119.39,125.5 119.61,125.54 119.82,125.41 120.04,125.11 120.26,125.45 120.47,125.39 120.69,125.46 120.9,125.69 121.12,124.97 121.34,125.94 121.55,125.51 121.77,125.21 121.99,125.7 122.2,125.19 122.42,125.03 122.64,125.56 122.85,125.29 123.07,125.63 123.28,125.22 123.5,125.32 123.72,125.29 123.93,125 124.15,125.23 124.37,125.01 124.58,125.19 124.8,125.65 125.02,125.28 125.23,125.22 125.45,125.71 125.67,125.01 125.88,125.33 126.1,125.25 126.31,125.57 126.53,125.31 126.75,125.23 126.96,125.36 127.18,125.21 127.4,125.71 127.61,124.77 127.83,125.32 128.05,125.51 128.26,125.12 128.48,124.99 128.69,124.54 128.91,124.81 129.13,124.4 129.34,124.6 129.56,123.68 129.78,123.98 129.99,123.5 130.21,124.13 130.43,123.58 130.64,123.87 130.86,123.35 131.07,123.2 131.29,123.66 131.51,123.42 131.72,123.3 131.94,123.25 132.16,122.92 132.37,122.83 132.59,122.8 132.81,122.24 133.02,121.96 133.24,122.26 133.45,121.89 133.67,121.57 133.89,121.44 134.1,121.37 134.32,120.8 134.54,120.59 134.75,120.44 134.97,120.46 135.19,119.71 135.4,119.57 135.62,119.91 135.83,119.64 136.05,119.1 136.27,119.41 136.48,118.91 136.7,118.8 136.92,118.8 137.13,118.48 137.35,118.62 137.57,118.16 137.78,118.33 138,117.04 138.21,117.03 138.43,116.89 138.65,116.92 138.86,116.53 139.08,116.25 139.3,116.11 139.51,115.92 139.73,116.17 139.95,115.62 140.16,115.65 140.38,115.6 140.59,115.38 140.81,114.77 141.03,114.4 141.24,114.8 141.46,113.8 141.68,113.67 141.89,113.93 142.11,113.76 142.33,113.46 142.54,113 142.76,113.15 142.97,113.14 143.19,112.58 143.41,112.99 143.62,112.23 143.84,111.77 144.06,111.77 144.27,111.44 144.49,111.29 144.71,111 144.92,110.91 145.14,110.91 145.35,110.5 145.57,110.18 145.79,109.53 146,109.11 146.22,109.08 146.44,109.03 146.65,108.68 146.87,108.2 147.09,107.47 147.3,107.43 147.52,107.24 147.74,107.17 147.95,106.52 148.17,106.46 148.38,106.33 148.6,106.08 148.82,105.45 149.03,105.65 149.25,104.89 149.47,104.66 149.68,104.52 149.9,103.7 150.12,103.19 150.33,102.52 150.55,101.48 150.76,100.76 150.98,99.59 151.2,98.96 151.41,98.09 151.63,97.3 151.85,97.57 152.06,95.96 152.28,95.72 152.5,94.4 152.71,93.78 152.93,92.56 153.14,91.18 153.36,90.82 153.58,89.15 153.79,88 154.01,87.22 154.23,85.35 154.44,84.31 154.66,83.24 154.88,81.97 155.09,79.6 155.31,79.18 155.52,78.35 155.74,77.17 155.96,76.39 156.17,75.91 156.39,75.38 156.61,75.21 156.82,74.47 157.04,74.46 157.26,74.51 157.47,74.3 157.69,74.27 157.9,74.2 158.12,74.65 158.34,75.3 158.55,75.71 158.77,76.18 158.99,76.22 159.2,77.36 159.42,77.61 159.64,78.14 159.85,79.19 160.07,79.52 160.28,80.13 160.5,80.83 160.72,81.02 160.93,81.24 161.15,81.52 161.37,82.15 161.58,82.32 161.8,82.02 162.02,83.08 162.23,82.88 162.45,82.78 162.66,82.94 162.88,82.68 163.1,82.57 163.31,82.12 163.53,81.62 163.75,81.59 163.96,81.05 164.18,80.67 164.4,80.32 164.61,79.76 164.83,79.5 165.04,78.42 165.26,77.53 165.48,76.86 165.69,76.28 165.91,76.18 166.13,74.91 166.34,74.87 166.56,74.11 166.78,73.05 166.99,73.2 167.21,72.14 167.42,71.71 167.64,71.23 167.86,70.83 168.07,69.89 168.29,69.5 168.51,68.48 168.72,67.78 168.94,67.76 169.16,66.84 169.37,66.08 169.59,65.59 169.81,64.85 170.02,63.82 170.24,63.18 170.45,62.84 170.67,61.86 170.89,60.89 171.1,60.62 171.32,59.85 171.54,58.51 171.75,57.87 171.97,57.92 172.19,57.14 172.4,56.01 172.62,55.67 172.83,54.65 173.05,53.9 173.27,52.84 173.48,52.85 173.7,52.04 173.92,51.13 174.13,50 174.35,49.84 174.57,49.83 174.78,48.88 175,48.45 175.21,48.34 175.43,48.05 175.65,47.58 175.86,47.18 176.08,47.32 176.3,47.17 176.51,47.39 176.73,47.71 176.95,48.22 177.16,48.42 177.38,49.14 177.59,49.77 177.81,50.16 178.03,50.97 178.24,51.55 178.46,52.91 178.68,53.22 178.89,54.45 179.11,55.53 179.33,56.63 179.54,57.26 179.76,58.54 179.97,60.15 180.19,61.48 180.41,62.42 180.62,63.76 180.84,64.41 181.06,66.35 181.27,67.62 181.49,68.41 181.71,69.56 181.92,70.75 182.14,71.81 182.35,72.67 182.57,74.46 182.79,75.66 183,77.07 183.22,77.65 183.44,78.55 183.65,79.88 183.87,80.55 184.09,81.86 184.3,82.51 184.52,83.84 184.73,85.23 184.95,86.17 185.17,87.48 185.38,88.65 185.6,89.26 185.82,90.23 186.03,91.06 186.25,92.62 186.47,93.67 186.68,94.81 186.9,95.14 187.11,96.12 187.33,97.17 187.55,97.62 187.76,98.4 187.98,99.72 188.2,99.74 188.41,100.53 188.63,101.27 188.85,101.84 189.06,101.83 189.28,102.41 189.49,102.84 189.71,104.08 189.93,104.42 190.14,104.46 190.36,105.4 190.58,105.66 190.79,106.27 191.01,105.66 191.23,106.15 191.44,106.57 191.66,106.89 191.88,107.3 192.09,107.52 192.31,107.48 192.52,108.03 192.74,107.73 192.96,108.35 193.17,108.62 193.39,108.23 193.61,108.75 193.82,108.73 194.04,109.13 194.26,109.74 194.47,109.18 194.69,109.81 194.9,109.33 195.12,110.13 195.34,110.33 195.55,109.9 195.77,109.98 195.99,110.16 196.2,110.59 196.42,110.13 196.64,110.79 196.85,110.59 197.07,110.71 197.28,110.64 197.5,110.37 197.72,110.78 197.93,110.5 198.15,110.5 198.37,111.14 198.58,111.03 198.8,110.85 199.02,110.93 199.23,110.72 199.45,111.31 199.66,110.65 199.88,110.66 200.1,110.9 200.31,111.22 200.53,110.87" fill="none" stroke="#2ec8d2" stroke-width="1.0" stroke-linejoin="round" />
<polyline points="92.56,110.75 92.78,110.54 92.99,110.78 93.21,110.65 93.43,111.03 93.64,110.64 93.86,111.67 94.07,111.43 94.29,111.14 94.51,111.74 94.72,111.27 94.94,111.86 95.16,111.62 95.37,111.98 95.59,111.96 95.81,111.91 96.02,112.09 96.24,112.26 96.45,111.73 96.67,112.39 96.89,112.75 97.1,112.38 97.32,112.52 97.54,112.54 97.75,112.51 97.97,113.32 98.19,112.94 98.4,113.04 98.62,113.46 98.83,113.53 99.05,114.49 99.27,114.02 99.48,113.57 99.7,114.62 99.92,114.45 100.13,114.39 100.35,114.48 100.57,114.37 100.78,115.38 101,115.09 101.21,115.04 101.43,115.76 101.65,115.61 101.86,115.29 102.08,115.6 102.3,115.97 102.51,116.94 102.73,116.49 102.95,116.53 103.16,116.88 103.38,117 103.6,116.4 103.81,117.43 104.03,117.83 104.24,117.74 104.46,118.1 104.68,118.32 104.89,118.49 105.11,118.5 105.33,118.87 105.54,119.47 105.76,119.43 105.98,119.51 106.19,119.98 106.41,119.79 106.62,120.11 106.84,120.77 107.06,120.65 107.27,120.43 107.49,120.73 107.71,121.32 107.92,121.25 108.14,121.81 108.36,122.16 108.57,121.79 108.79,122 109,122.07 109.22,122.34 109.44,122.39 109.65,122.74 109.87,122.63 110.09,122.67 110.3,123.03 110.52,122.94 110.74,123.72 110.95,123.6 111.17,123.16 111.38,123.19 111.6,123.69 111.82,123.89 112.03,124.28 112.25,123.97 112.47,123.95 112.68,124.61 112.9,124.17 113.12,124.25 113.33,124.33 113.55,124.77 113.76,124.39 113.98,124.94 114.2,124.21 114.41,124.56 114.63,124.88 114.85,124.23 115.06,124.25 115.28,124.65 115.5,123.87 115.71,124.61 115.93,124.19 116.14,123.87 116.36,124.64 116.58,123.7 116.79,123.86 117.01,123.72 117.23,123.86 117.44,123.38 117.66,123.61 117.88,123.45 118.09,123.18 118.31,123.25 118.52,122.42 118.74,123.03 118.96,122.78 119.17,122.56 119.39,122.37 119.61,122.06 119.82,121.94 120.04,122.11 120.26,122.02 120.47,121.8 120.69,121.48 120.9,121.39 121.12,121.58 121.34,121.85 121.55,120.66 121.77,120.84 121.99,120.9 122.2,120.75 122.42,120.85 122.64,120.85 122.85,120.56 123.07,120.41 123.28,120.39 123.5,120.48 123.72,120.07 123.93,119.72 124.15,119.87 124.37,119.63 124.58,120.04 124.8,119.45 125.02,119.32 125.23,119.49 125.45,119.51 125.67,118.86 125.88,119.06 126.1,118.64 126.31,118.77 126.53,118.4 126.75,118.55 126.96,118.76 127.18,118.31 127.4,118.28 127.61,117.94 127.83,118.13 128.05,118.03 128.26,117.63 128.48,117.47 128.69,117.49 128.91,117.34 129.13,117.41 129.34,117.25 129.56,117.14 129.78,117.18 129.99,117.18 130.21,117.08 130.43,116.43 130.64,116.95 130.86,116.93 131.07,116.88 131.29,116.71 131.51,116.56 131.72,116.82 131.94,116.95 132.16,116.28 132.37,116.67 132.59,116.11 132.81,116.05 133.02,115.69 133.24,115.46 133.45,115.69 133.67,115.83 133.89,115.89 134.1,115.69 134.32,115.38 134.54,115.82 134.75,115.17 134.97,115.09 135.19,114.83 135.4,114.97 135.62,114.75 135.83,114.86 136.05,114.68 136.27,114.9 136.48,114.31 136.7,113.83 136.92,114.06 137.13,113.88 137.35,114.09 137.57,113.35 137.78,113.77 138,113.23 138.21,113.26 138.43,113.38 138.65,112.72 138.86,112.81 139.08,112.59 139.3,112.33 139.51,112.24 139.73,112.12 139.95,111.69 140.16,111.68 140.38,111.33 140.59,111.27 140.81,111.23 141.03,110.76 141.24,110.46 141.46,110.06 141.68,109.5 141.89,109.95 142.11,109.22 142.33,109.53 142.54,108.94 142.76,108.5 142.97,108.62 143.19,108.19 143.41,107.35 143.62,107.03 143.84,106.73 144.06,106.54 144.27,105.43 144.49,105.65 144.71,105.46 144.92,104.44 145.14,104.33 145.35,104.19 145.57,103.41 145.79,103.28 146,102.75 146.22,102.44 146.44,102.35 146.65,101.42 146.87,101.19 147.09,101.04 147.3,100.53 147.52,99.63 147.74,99.49 147.95,98.91 148.17,98.26 148.38,97.89 148.6,97.8 148.82,96.74 149.03,96.13 149.25,95.6 149.47,94.83 149.68,94.54 149.9,93.79 150.12,92.89 150.33,92.64 150.55,91.34 150.76,90.49 150.98,89.82 151.2,88.57 151.41,87.78 151.63,87.1 151.85,85.39 152.06,84.32 152.28,82.86 152.5,81.29 152.71,79.21 152.93,77.51 153.14,75.83 153.36,73.49 153.58,71.36 153.79,69.68 154.01,67.44 154.23,65.04 154.44,62.62 154.66,59.95 154.88,57.52 155.09,55.35 155.31,53.96 155.52,52.47 155.74,50.94 155.96,49.51 156.17,48.77 156.39,47.64 156.61,47.27 156.82,47.4 157.04,47.89 157.26,48.63 157.47,49.51 157.69,50.83 157.9,51.5 158.12,52.72 158.34,53.96 158.55,55.4 158.77,56.94 158.99,59 159.2,60.63 159.42,62.73 159.64,64.5 159.85,65.88 160.07,66.33 160.28,68.52 160.5,69.27 160.72,70.29 160.93,71.96 161.15,72.49 161.37,73.32 161.58,74.22 161.8,74.4 162.02,75.37 162.23,76.21 162.45,76.34 162.66,76.98 162.88,77.53 163.1,77.76 163.31,77.01 163.53,77.77 163.75,77.57 163.96,77.57 164.18,77.12 164.4,76.91 164.61,76.6 164.83,76.43 165.04,76.09 165.26,75.53 165.48,74.91 165.69,74.13 165.91,74.12 166.13,73.64 166.34,73.68 166.56,73.52 166.78,73.53 166.99,72.9 167.21,73.17 167.42,72.46 167.64,71.77 167.86,71.96 168.07,71.67 168.29,72.05 168.51,72.39 168.72,72.33 168.94,72.56 169.16,72.47 169.37,72.63 169.59,73.71 169.81,74.02 170.02,74.38 170.24,74.83 170.45,75.44 170.67,75.49 170.89,75.85 171.1,76.3 171.32,77.18 171.54,77.39 171.75,78.31 171.97,78.15 172.19,79.14 172.4,79.46 172.62,80 172.83,80.5 173.05,81.08 173.27,81.68 173.48,81.2 173.7,81.98 173.92,82.37 174.13,82.29 174.35,83.23 174.57,83.44 174.78,83.94 175,84.01 175.21,84.55 175.43,84.95 175.65,85.45 175.86,85.67 176.08,85.79 176.3,86.96 176.51,86.82 176.73,87.24 176.95,87.56 177.16,88.33 177.38,88 177.59,88.76 177.81,88.96 178.03,89.38 178.24,90.03 178.46,90.07 178.68,90.77 178.89,90.88 179.11,91.07 179.33,91.32 179.54,91.65 179.76,92.03 179.97,91.79 180.19,92.56 180.41,93.32 180.62,93.51 180.84,93.87 181.06,94.1 181.27,94.56 181.49,94.99 181.71,94.72 181.92,95.5 182.14,95.98 182.35,96.35 182.57,96.74 182.79,96.76 183,97.44 183.22,97.74 183.44,99.3 183.65,98.92 183.87,99.22 184.09,99.46 184.3,100.42 184.52,101.29 184.73,101.11 184.95,101.81 185.17,102.51 185.38,102.6 185.6,102.55 185.82,102.89 186.03,103.37 186.25,104.17 186.47,103.61 186.68,104.87 186.9,104.91 187.11,105.56 187.33,105.16 187.55,105.66 187.76,105.83 187.98,106.31 188.2,106.62 188.41,106.82 188.63,107.59 188.85,107.09 189.06,107.32 189.28,107.85 189.49,107.92 189.71,107.99 189.93,107.81 190.14,108.24 190.36,108.46 190.58,108.72 190.79,109.08 191.01,108.96 191.23,108.89 191.44,109.06 191.66,109.07 191.88,108.98 192.09,109.14 192.31,109.25 192.52,109.23 192.74,109.42 192.96,109.54 193.17,109.49 193.39,110.11 193.61,109.42 193.82,110.13 194.04,109.65 194.26,109.92 194.47,109.7 194.69,110.03 194.9,110.33 195.12,109.87 195.34,110.14 195.55,110.2 195.77,110.26 195.99,110.07 196.2,110.16 196.42,110.34 196.64,110.83 196.85,110.57 197.07,110.47 197.28,110.07 197.5,110.46 197.72,110.61 197.93,110.31 198.15,110.67 198.37,110.67 198.58,110.65 198.8,111.09 199.02,110.5 199.23,110.65 199.45,110.85 199.66,111.09 199.88,110.76 200.1,110.47 200.31,111 200.53,111.12" fill="none" stroke="#2a2ad8" stroke-width="1.0" stroke-linejoin="round" />
<line x1="90.3" y1="110.5" x2="92.3" y2="110.5" stroke="#3c3c3c" stroke-width="0.8" />
<line x1="90.3" y1="78.9" x2="92.3" y2="78.9" stroke="#3c3c3c" stroke-width="0.8" />
<line x1="90.3" y1="47.3" x2="92.3" y2="47.3" stroke="#3c3c3c" stroke-width="0.8" />
<text x="87.8" y="49.7" font-size="7" text-anchor="end" font-weight="normal" fill="#222" stroke="#222" stroke-width="0.2" font-family='"Liberation Sans", sans-serif' >1</text>
<text x="87.8" y="112.9" font-size="7" text-anchor="end" font-weight="normal" fill="#222" stroke="#222" stroke-width="0.2" font-family='"Liberation Sans", sans-serif' >0</text>
<line x1="96.1" y1="128.4" x2="96.1" y2="130.9" stroke="#3c3c3c" stroke-width="0.8" />
<line x1="113.8" y1="128.4" x2="113.8" y2="130.9" stroke="#3c3c3c" stroke-width="0.8" />
<line x1="131.5" y1="128.4" x2="131.5" y2="130.9" stroke="#3c3c3c" stroke-width="0.8" />
<line x1="149.2" y1="128.4" x2="149.2" y2="130.9" stroke="#3c3c3c" stroke-width="0.8" />
<line x1="166.9" y1="128.4" x2="166.9" y2="130.9" stroke="#3c3c3c" stroke-width="0.8" />
<line x1="184.6" y1="128.4" x2="184.6" y2="130.9" stroke="#3c3c3c" stroke-width="0.8" />
<text x="113.8" y="137.6" font-size="7.2" text-anchor="middle" font-weight="normal" fill="#222" stroke="#222" stroke-width="0.2" font-family='"Liberation Sans", sans-serif' >500</text>
<text x="149.2" y="137.6" font-size="7.2" text-anchor="middle" font-weight="normal" fill="#222" stroke="#222" stroke-width="0.2" font-family='"Liberation Sans", sans-serif' >600</text>
<text x="184.6" y="137.6" font-size="7.2" text-anchor="middle" font-weight="normal" fill="#222" stroke="#222" stroke-width="0.2" font-family='"Liberation Sans", sans-serif' >700</text>
<text x="146.4" y="145.9" font-size="9.7" text-anchor="middle" font-weight="normal" fill="#222" stroke="#222" stroke-width="0.2" font-family='"Liberation Sans", sans-serif' >Wavelength (nm)</text>
<text x="0" y="0" font-size="9.3" text-anchor="middle" font-weight="normal" fill="#222" stroke="#222" stroke-width="0.2" font-family='"Liberation Sans", sans-serif' transform="translate(81.0,74.1) rotate(-90)">ΔT/T (norm.)</text>
<text x="100.7" y="55.3" font-size="8.3" text-anchor="start" font-weight="normal" fill="#111" stroke="#111" stroke-width="0.2" font-family='"Liberation Sans", sans-serif' >delay = 10 ps</text>
<text x="97.8" y="79.6" font-size="10.6" fill="#111" stroke="#111" stroke-width="0.2" font-family='"Liberation Serif", serif' textLength="5.6" lengthAdjust="spacingAndGlyphs">λ</text>
<text x="103.7" y="81.6" font-size="6.6" fill="#111" stroke="#111" stroke-width="0.2" font-family='"Liberation Sans", sans-serif' textLength="7.6" lengthAdjust="spacingAndGlyphs">pu</text>
<text x="111.9" y="79" font-size="8.6" fill="#111" stroke="#111" stroke-width="0.2" font-family='"Liberation Sans", sans-serif' textLength="33.9" lengthAdjust="spacingAndGlyphs">= 675 nm</text>
<text x="93.7" y="98" font-size="10.6" fill="#111" stroke="#111" stroke-width="0.2" font-family='"Liberation Serif", serif' textLength="5.9" lengthAdjust="spacingAndGlyphs">λ</text>
<text x="99.8" y="100" font-size="6.6" fill="#111" stroke="#111" stroke-width="0.2" font-family='"Liberation Sans", sans-serif' textLength="7.3" lengthAdjust="spacingAndGlyphs">pu</text>
<text x="108.7" y="98.8" font-size="8.6" fill="#111" stroke="#111" stroke-width="0.2" font-family='"Liberation Sans", sans-serif' textLength="34.3" lengthAdjust="spacingAndGlyphs">= 620 nm</text>
<line x1="137.1" y1="82.3" x2="147.22" y2="86.49" stroke="#000" stroke-width="1.8" />
<polygon points="152.3,88.6 145.15,88.88 147.44,83.34" fill="#000"/>
<line x1="118.2" y1="104.1" x2="123.54" y2="112.9" stroke="#000" stroke-width="1.8" />
<polygon points="126.4,117.6 120.46,113.6 125.59,110.49" fill="#000"/>
<polyline points="414.98,186.69 415.36,183.82 415.74,187.3 416.11,184.62 416.49,187.05 416.86,183.24 417.24,184.1 417.62,186.34 417.99,185.87 418.37,186.78 418.74,185.36 419.12,184.75 419.5,181.91 419.87,187.12 420.25,183.67 420.62,186.09 421,184.96 421.38,184.16 421.75,184.61 422.13,184.78 422.5,185.61 422.88,185.36 423.25,185.15 423.63,183.77 424.01,187.31 424.38,186.02 424.76,187.03 425.13,186.65 425.51,186.44 425.89,183.93 426.26,182.54 426.64,183.59 427.01,186.96 427.39,185.3 427.77,186.9 428.14,184.81 428.52,183.72 428.89,184.63 429.27,184.25 429.65,185.6 430.02,188.02 430.4,188.04 430.77,185.54 431.15,184.65 431.53,183.73 431.9,185.88 432.28,185.32 432.65,185.08 433.03,184.01 433.41,185.51 433.78,186.86 434.16,183.98 434.53,184.87 434.91,184.9 435.29,187.09 435.66,185.42 436.04,187.68 436.41,188.06 436.79,185.71 437.17,185.97 437.54,184.64 437.92,183.48 438.29,185.43 438.67,183.02 439.05,186.16 439.42,184.37 439.8,187.05 440.17,185.2 440.55,185.79 440.92,185.64 441.3,184.58 441.68,187.85 442.05,185.2 442.43,186.42 442.8,185.19 443.18,184.82 443.56,185.83 443.93,185.82 444.31,186.85 444.68,184.6 445.06,186.21 445.44,184.73 445.81,187.2 446.19,183.5 446.56,186.66 446.94,183.77 447.32,185.89 447.69,184.57 448.07,185.48 448.44,184.39 448.82,185.28 449.2,183.6 449.57,184.39 449.95,184.37 450.32,183.06 450.7,186.19 451.08,183.54 451.45,185.16 451.83,187.21 452.2,184.62 452.58,185.52 452.96,183.01 453.33,185.89 453.71,185.17 454.08,184.92 454.46,187.75 454.84,184.55 455.21,186.53 455.59,183.35 455.96,183.01 456.34,185.22 456.71,187.3 457.09,184.96 457.47,184.96 457.84,184.24 458.22,185.58 458.59,186.75 458.97,185.36 459.35,186.4 459.72,182.82 460.1,186.1 460.47,186.02 460.85,185.22 461.23,186.79 461.6,185.73 461.98,185.32 462.35,185.78 462.73,185.46 463.11,183.49 463.48,184.55 463.86,186.89 464.23,185.68 464.61,184.12 464.99,185.97 465.36,184.99 465.74,185.14 466.11,184.39 466.49,185.32 466.87,185.27 467.24,186.21 467.62,184.6 467.99,186.3 468.37,182.78 468.75,185.09 469.12,185.35 469.5,184.01 469.87,185.16 470.25,184.93 470.63,185.11 471,185.99 471.38,186.25 471.75,185.95 472.13,183.53 472.5,185.85 472.88,185.55 473.26,185.61 473.63,184.09 474.01,182.39 474.38,186.22 474.76,184.27 475.14,184.83 475.51,185.39 475.89,184.32 476.26,186.66 476.64,183.88 477.02,184.68 477.39,186.29 477.77,182.86 478.14,183.84 478.52,183.42 478.9,186.87 479.27,185.31 479.65,185.64 480.02,184.12 480.4,183.15 480.78,187.45 481.15,184.91 481.53,185.1 481.9,183.61 482.28,184.98 482.66,186.6 483.03,185.17 483.41,186.28 483.78,185.94 484.16,184.85 484.54,185.54 484.91,184.54 485.29,186.9 485.66,181.84 486.04,183.23 486.42,183.95 486.79,186.6 487.17,187.73 487.54,186.02 487.92,185.19 488.3,181.94 488.67,183.16 489.05,185.57 489.42,183.28 489.8,183.26 490.17,184.85 490.55,183.26 490.93,184.43 491.3,185.73 491.68,186.41 492.05,185.02 492.43,183.54 492.81,186.64 493.18,186.98 493.56,184.12 493.93,188.43 494.31,182.44 494.69,185.42 495.06,183.88 495.44,182.39 495.81,186.75 496.19,186.22 496.57,181.88 496.94,185.21 497.32,185 497.69,184.53 498.07,183.43 498.45,183.08 498.82,184.68 499.2,185.26 499.57,184.87 499.95,184.42 500.33,183.09 500.7,184.63 501.08,182.41 501.45,185.94 501.83,184.11 502.21,182.49 502.58,183.11 502.96,184.36 503.33,185.96 503.71,185.74 504.09,185 504.46,184.38 504.84,185.12 505.21,186.71 505.59,185.76 505.96,184.1 506.34,183.68 506.72,186.63 507.09,185.26 507.47,186.98 507.84,185.52 508.22,180.1 508.6,184.69 508.97,185.22 509.35,185.54 509.72,186.36 510.1,187.21 510.48,184.82 510.85,185.12 511.23,182.81 511.6,186.91 511.98,184.18 512.36,182.98 512.73,187.33 513.11,183.88 513.48,186.87 513.86,184.05 514.24,182.79 514.61,184.74 514.99,184.35 515.36,185.64 515.74,184.35 516.12,183.23 516.49,184.96 516.87,184.9 517.24,184.2 517.62,183.63 518,186.87 518.37,184.63 518.75,185.61 519.12,184.05 519.5,183.33 519.88,184.28 520.25,182.99 520.63,185.99 521,185.22 521.38,185.99 521.75,184.6 522.13,184.55 522.51,184.93 522.88,186.27 523.26,184.77 523.63,185.24 524.01,183.86 524.39,185.01 524.76,183.12 525.14,184.35 525.51,187.1 525.89,184.87 526.27,186.53 526.64,183.36 527.02,182.74 527.39,184.67 527.77,184.04 528.15,186.53 528.52,187.59 528.9,185.35 529.27,184.95 529.65,186.61 530.03,184.49 530.4,184.19 530.78,183.75 531.15,182.55 531.53,183.52 531.91,185.07 532.28,184.44 532.66,183.79 533.03,185.95 533.41,182.82 533.79,183.38 534.16,184.86 534.54,185.4 534.91,179.53 535.29,183.44 535.67,183.3 536.04,182.16 536.42,183.24 536.79,184.25 537.17,183.59 537.55,185.72 537.92,183.56 538.3,186.53 538.67,183.94 539.05,183.75 539.42,186.54 539.8,181.94 540.18,185.99 540.55,183.08 540.93,185.15 541.3,184.04 541.68,185.31 542.06,181.14 542.43,183.06 542.81,182.03 543.18,183.37 543.56,183.48 543.94,184.19 544.31,184.7 544.69,183.57 545.06,184.15 545.44,184.55 545.82,186.15 546.19,184.73 546.57,183.51 546.94,184.91 547.32,183.82 547.7,184.45 548.07,185.6 548.45,185.41 548.82,185.18 549.2,184.56 549.58,184.51 549.95,182.66 550.33,185.55 550.7,186.79 551.08,183.16 551.46,184.65 551.83,184.18 552.21,180.63 552.58,182.04 552.96,183.17 553.34,182.67 553.71,183.74 554.09,182.6 554.46,184.65 554.84,184.76 555.21,184.41 555.59,181.67 555.97,181.68 556.34,184.51 556.72,182.14 557.09,183.86 557.47,182.21 557.85,184.02 558.22,182.31 558.6,183.69 558.97,183.9 559.35,183.52 559.73,183.25 560.1,184.2 560.48,185.21 560.85,181.13 561.23,183.86 561.61,185.71 561.98,186.28 562.36,186.96 562.73,184.03 563.11,181.38 563.49,185.31 563.86,183.54 564.24,185.51 564.61,181.58 564.99,182.52 565.37,182.54 565.74,181.14 566.12,180.71 566.49,181.48 566.87,183.57 567.25,184.52 567.62,184.1 568,184.99 568.37,180.23 568.75,182.83 569.13,182.36 569.5,182.22 569.88,179.75 570.25,183.12 570.63,180.75 571.01,181.85 571.38,182.38 571.76,184.64 572.13,180.79 572.51,182.91 572.88,182.44 573.26,181.44 573.64,181.52 574.01,180.05 574.39,182.33 574.76,181.12 575.14,180.86 575.52,181.09 575.89,180.12 576.27,181.25 576.64,179.21 577.02,181.65 577.4,182.51 577.77,180.56 578.15,178.84 578.52,181 578.9,181.05 579.28,180.59 579.65,179.83 580.03,180.21 580.4,179.49 580.78,182.12 581.16,177.79 581.53,178.94 581.91,180.8 582.28,177.77 582.66,178.93 583.04,177.52 583.41,180.97 583.79,177.15 584.16,179.23 584.54,181.96 584.92,178.17 585.29,179.52 585.67,180.41 586.04,179.3 586.42,181.54 586.8,178.14 587.17,179.16 587.55,179.19 587.92,176.92 588.3,178.72 588.67,179.62 589.05,179.98 589.43,178.78 589.8,177.27 590.18,179.45 590.55,180.06 590.93,177.45 591.31,178.6 591.68,178.72 592.06,175.93 592.43,180.32 592.81,178.45 593.19,181.08 593.56,179.14 593.94,177.97 594.31,177.26 594.69,180.45 595.07,177.67 595.44,177.74 595.82,178.95 596.19,175.52 596.57,178.79 596.95,179.96 597.32,178.22 597.7,181.26 598.07,176.71 598.45,177.47 598.83,179.3 599.2,177.95 599.58,178.05 599.95,176.18 600.33,179.56 600.71,180.45 601.08,181.42 601.46,179.1 601.83,180.78 602.21,178.92 602.59,178.13 602.96,179.22 603.34,179.82 603.71,176.89 604.09,178.62 604.46,177.91 604.84,176.79 605.22,179.61 605.59,178.91 605.97,174.16 606.34,177.47 606.72,178.42 607.1,177.13 607.47,177.32 607.85,177.94 608.22,176.61 608.6,175.85 608.98,175.6 609.35,174.63 609.73,177.39 610.1,176.78 610.48,173.43 610.86,174.71 611.23,172.14 611.61,172.97 611.98,174.85 612.36,171.87 612.74,173.52 613.11,171.44 613.49,169.77 613.86,168.23 614.24,170.78 614.62,169.44 614.99,169.67 615.37,168.77 615.74,172.98 616.12,169.95 616.5,168.9 616.87,168.52 617.25,170.01 617.62,167.78 618,167.29 618.38,168.54 618.75,168.82 619.13,168.9 619.5,168.15 619.88,166.7 620.26,166.22 620.63,168.78 621.01,169.37 621.38,169.18 621.76,166.84 622.13,167.88 622.51,167.83 622.89,167.65 623.26,167.86 623.64,168.61 624.01,169.92 624.39,169.46 624.77,168.59 625.14,168.35 625.52,169.47 625.89,169.65 626.27,167.4 626.65,169.95 627.02,169.17 627.4,170.04 627.77,170.92 628.15,171.96 628.53,170.86 628.9,171.43 629.28,169.43 629.65,172.29 630.03,171.54 630.41,170.35 630.78,171.6 631.16,171.03 631.53,170.81 631.91,174.34 632.29,172.92 632.66,173.88 633.04,171.05 633.41,173.21 633.79,172.62 634.17,171.27 634.54,174.21 634.92,173.88 635.29,173.68 635.67,174.82 636.05,173.06 636.42,173.88 636.8,173.89 637.17,175.39 637.55,176.15 637.92,176.42 638.3,176.67 638.68,178.59 639.05,176.2 639.43,175.84 639.8,177.15 640.18,178.01 640.56,177.52 640.93,177.49 641.31,177.56 641.68,175.83 642.06,179.52 642.44,178.12 642.81,177.9 643.19,178.9 643.56,179.51 643.94,180.74 644.32,180.37 644.69,178.86 645.07,178.07 645.44,181.01 645.82,179.71 646.2,179.82 646.57,179.35 646.95,180.52 647.32,180.42 647.7,179.98 648.08,182.82 648.45,181.37 648.83,183.87 649.2,184.27 649.58,182.9 649.96,183.96 650.33,181.42 650.71,180.91 651.08,182.73 651.46,182.63 651.84,182.87 652.21,183.03 652.59,182.63 652.96,182.46 653.34,183.63 653.71,184.16 654.09,183.92 654.47,182.3 654.84,183.99 655.22,181.64 655.59,183.94 655.97,181.93 656.35,185.35 656.72,184.78 657.1,183.33 657.47,183.39 657.85,184.29 658.23,181.5 658.6,184.11 658.98,183.88 659.35,185.05 659.73,182.2 660.11,183.28 660.48,183.9 660.86,186.6 661.23,184.04 661.61,185.15 661.99,184.07 662.36,183.43 662.74,185.61 663.11,184.39 663.49,183.56 663.87,184.52 664.24,185.19 664.62,186.16 664.99,185.69 665.37,186.49 665.75,183.6 666.12,184.78 666.5,186.52 666.87,184.99 667.25,186.69 667.63,189.3 668,183.52 668.38,183.59 668.75,187.05 669.13,186.1 669.51,184.93 669.88,185.71 670.26,186.34 670.63,185.92 671.01,185.57 671.38,185.99 671.76,185 672.14,185.56 672.51,186.19 672.89,185.08 673.26,187.14 673.64,182.98 674.02,186.92 674.39,184.57 674.77,183.8 675.14,183.46 675.52,183.4 675.9,181.82 676.27,184.62 676.65,182.95 677.02,182.36 677.4,182.88 677.78,182.69" fill="none" stroke="#f8941e" stroke-width="1.15" stroke-linejoin="round" />
<polyline points="414.98,184.94 415.36,185.04 415.74,183.68 416.11,184.57 416.49,188.61 416.86,186.02 417.24,187.88 417.62,186.02 417.99,184.85 418.37,187.15 418.74,186.98 419.12,185.44 419.5,185.95 419.87,183.78 420.25,185.26 420.62,185.02 421,183.61 421.38,186.24 421.75,185.67 422.13,186.83 422.5,185.38 422.88,184.48 423.25,184.09 423.63,185.74 424.01,186.53 424.38,186.6 424.76,187.34 425.13,185.58 425.51,184.14 425.89,188.5 426.26,188.28 426.64,184.1 427.01,187.62 427.39,185.36 427.77,187.22 428.14,184.84 428.52,184.84 428.89,185.56 429.27,184.79 429.65,185.7 430.02,185.1 430.4,183.63 430.77,184.48 431.15,186.53 431.53,186.7 431.9,186.04 432.28,186.03 432.65,185.68 433.03,186.47 433.41,185 433.78,185.72 434.16,185.34 434.53,185.75 434.91,185.04 435.29,187.15 435.66,183.9 436.04,185.34 436.41,185.22 436.79,185.02 437.17,184.47 437.54,184.87 437.92,185.45 438.29,185.93 438.67,187.64 439.05,185.46 439.42,186.07 439.8,186.07 440.17,182.88 440.55,187.87 440.92,185.62 441.3,184.26 441.68,184.55 442.05,184.21 442.43,187.14 442.8,186.78 443.18,184.92 443.56,185.99 443.93,183.63 444.31,185.36 444.68,185.39 445.06,185.1 445.44,185.93 445.81,185.47 446.19,186.39 446.56,185.64 446.94,186.16 447.32,185.29 447.69,187.24 448.07,187.32 448.44,185.03 448.82,185.3 449.2,186.69 449.57,185.82 449.95,186.78 450.32,183.15 450.7,187.37 451.08,183.52 451.45,186.49 451.83,185.03 452.2,185.82 452.58,185.95 452.96,184.41 453.33,184.54 453.71,185.83 454.08,186.55 454.46,183.05 454.84,183.83 455.21,185.3 455.59,185.81 455.96,185.11 456.34,185.35 456.71,184.04 457.09,186.57 457.47,185.41 457.84,186.34 458.22,183.89 458.59,183.3 458.97,185.51 459.35,184.77 459.72,183.75 460.1,185.74 460.47,186.48 460.85,184.16 461.23,184.78 461.6,185.61 461.98,183.64 462.35,185.07 462.73,187.43 463.11,184.93 463.48,185.4 463.86,183.12 464.23,185.34 464.61,185.55 464.99,184.79 465.36,185.01 465.74,186.94 466.11,185.15 466.49,185.67 466.87,183.63 467.24,182.46 467.62,186.57 467.99,186.39 468.37,186.24 468.75,186.01 469.12,186.05 469.5,185.17 469.87,183.95 470.25,186.75 470.63,187.02 471,187.37 471.38,183.91 471.75,183.64 472.13,186.99 472.5,187.1 472.88,185.03 473.26,183.89 473.63,183.98 474.01,184.94 474.38,184.36 474.76,184.77 475.14,185.8 475.51,182.9 475.89,185.14 476.26,186.43 476.64,185.67 477.02,186.93 477.39,185.09 477.77,183.82 478.14,186.59 478.52,183.78 478.9,182.64 479.27,184.64 479.65,186.44 480.02,186.08 480.4,185.47 480.78,186.57 481.15,186.53 481.53,185.36 481.9,185.27 482.28,184.34 482.66,186.45 483.03,182.85 483.41,183.79 483.78,183.99 484.16,185.79 484.54,182.99 484.91,185.43 485.29,182.89 485.66,183.76 486.04,186.06 486.42,185.54 486.79,182.81 487.17,183.83 487.54,185.18 487.92,184.75 488.3,184.76 488.67,185.89 489.05,185.22 489.42,185.75 489.8,185.48 490.17,184.43 490.55,186.09 490.93,184.12 491.3,184.84 491.68,184.07 492.05,183.92 492.43,183.49 492.81,184.22 493.18,184.12 493.56,185.16 493.93,184.28 494.31,186 494.69,185.23 495.06,184.06 495.44,184.99 495.81,184.41 496.19,186.17 496.57,183.32 496.94,185.6 497.32,184.46 497.69,184.94 498.07,183.82 498.45,185.36 498.82,186.08 499.2,187.14 499.57,185.26 499.95,186.3 500.33,184.27 500.7,183.2 501.08,187.51 501.45,186.41 501.83,184.53 502.21,183.44 502.58,184.52 502.96,184.5 503.33,184.28 503.71,184.2 504.09,182.94 504.46,184.15 504.84,186.33 505.21,185.42 505.59,184.62 505.96,185.81 506.34,185.16 506.72,185.47 507.09,185.68 507.47,184.03 507.84,185.3 508.22,186.13 508.6,185.68 508.97,184.79 509.35,182.35 509.72,184.53 510.1,183.08 510.48,184.24 510.85,187.35 511.23,184.37 511.6,185.82 511.98,186.41 512.36,186.08 512.73,182.7 513.11,186.66 513.48,185.53 513.86,183.43 514.24,184.01 514.61,186.81 514.99,184.92 515.36,185.39 515.74,185.01 516.12,183.89 516.49,185.45 516.87,185.15 517.24,183.04 517.62,186.94 518,185.2 518.37,184.2 518.75,186.22 519.12,185.49 519.5,186.29 519.88,184.55 520.25,185.47 520.63,183.8 521,183.52 521.38,184.67 521.75,185.17 522.13,184.41 522.51,184.64 522.88,186.14 523.26,183.44 523.63,184.43 524.01,183.76 524.39,186.3 524.76,183.65 525.14,182.19 525.51,183.95 525.89,186.39 526.27,184.63 526.64,184.73 527.02,184.4 527.39,184.93 527.77,184.07 528.15,185.2 528.52,184.37 528.9,185.45 529.27,184.52 529.65,183.45 530.03,185.2 530.4,183.83 530.78,185.66 531.15,185.05 531.53,184.88 531.91,183.12 532.28,185.5 532.66,183.15 533.03,186.31 533.41,184.76 533.79,183.49 534.16,183.74 534.54,185.75 534.91,186 535.29,183.51 535.67,186.03 536.04,183.84 536.42,185.14 536.79,184.53 537.17,181.77 537.55,182.67 537.92,183.5 538.3,186.12 538.67,184.1 539.05,184.41 539.42,184.58 539.8,182.87 540.18,186.48 540.55,184.06 540.93,184.28 541.3,185.31 541.68,182.37 542.06,185.9 542.43,184.36 542.81,184.29 543.18,186.97 543.56,186.06 543.94,185.5 544.31,183.41 544.69,183.21 545.06,183.61 545.44,184.02 545.82,186.89 546.19,184.01 546.57,184.86 546.94,182.84 547.32,182.61 547.7,181.53 548.07,183.32 548.45,183.17 548.82,185.33 549.2,183.99 549.58,185.52 549.95,182.96 550.33,185.41 550.7,184.22 551.08,184.9 551.46,184.45 551.83,183.32 552.21,184.5 552.58,183.54 552.96,184.96 553.34,182.07 553.71,184.46 554.09,182.46 554.46,181.08 554.84,186.48 555.21,184.73 555.59,183.76 555.97,182.09 556.34,184.02 556.72,182.96 557.09,184.24 557.47,182.66 557.85,184.74 558.22,182.26 558.6,186.78 558.97,185.43 559.35,180.98 559.73,182.9 560.1,184.13 560.48,180.4 560.85,181.73 561.23,181.6 561.61,183.4 561.98,182.11 562.36,182.2 562.73,184.74 563.11,182.01 563.49,182.89 563.86,181.09 564.24,181.01 564.61,183.29 564.99,183.19 565.37,182.19 565.74,181.58 566.12,182.8 566.49,182.39 566.87,181.47 567.25,181.64 567.62,180.69 568,181.74 568.37,183.02 568.75,184.01 569.13,180.87 569.5,182.17 569.88,182.12 570.25,181.98 570.63,183.44 571.01,181.94 571.38,184.5 571.76,181.77 572.13,182.26 572.51,178.89 572.88,180.44 573.26,181.13 573.64,180.56 574.01,179.76 574.39,181.43 574.76,180.68 575.14,180.7 575.52,177.17 575.89,179.95 576.27,182.27 576.64,178.83 577.02,176.57 577.4,180.7 577.77,175.26 578.15,179.4 578.52,178.01 578.9,179.79 579.28,179.33 579.65,180.39 580.03,180.09 580.4,181.31 580.78,177.27 581.16,179.96 581.53,178.06 581.91,178.03 582.28,179.14 582.66,178.22 583.04,178.31 583.41,178.72 583.79,177.99 584.16,177.91 584.54,179.13 584.92,179.39 585.29,178.78 585.67,177.54 586.04,175.95 586.42,175.79 586.8,177.12 587.17,176.3 587.55,177.25 587.92,176.02 588.3,177.16 588.67,176.8 589.05,177.59 589.43,177.23 589.8,174.92 590.18,178.65 590.55,177.2 590.93,177.92 591.31,176.05 591.68,175.02 592.06,177.6 592.43,180.59 592.81,176.5 593.19,176.52 593.56,179.31 593.94,177.58 594.31,177.38 594.69,180.11 595.07,176.51 595.44,176.8 595.82,177.05 596.19,178.63 596.57,178.21 596.95,178.11 597.32,176.76 597.7,178.53 598.07,175.56 598.45,176.87 598.83,179.97 599.2,175.27 599.58,177.11 599.95,177.96 600.33,177.16 600.71,179.49 601.08,177.03 601.46,180.24 601.83,178.48 602.21,175.57 602.59,175.66 602.96,177.55 603.34,178.21 603.71,175.75 604.09,176.75 604.46,176.21 604.84,175.44 605.22,177.23 605.59,174.64 605.97,177.85 606.34,173.15 606.72,176.48 607.1,174.96 607.47,174.63 607.85,172.54 608.22,172.14 608.6,172.23 608.98,171.64 609.35,171.38 609.73,171.66 610.1,173.47 610.48,173.49 610.86,173 611.23,169.74 611.61,169.42 611.98,168.77 612.36,167.78 612.74,167.8 613.11,168.2 613.49,168.29 613.86,168.28 614.24,164 614.62,163.94 614.99,166.31 615.37,164.65 615.74,163.48 616.12,161.83 616.5,164.32 616.87,163.18 617.25,161.79 617.62,165.14 618,163.74 618.38,162.73 618.75,163.41 619.13,159.81 619.5,161.21 619.88,161.93 620.26,163.27 620.63,160.97 621.01,161.23 621.38,162.63 621.76,162.55 622.13,163.85 622.51,162.22 622.89,161.15 623.26,161.09 623.64,161.72 624.01,161.55 624.39,163.43 624.77,163.43 625.14,161.54 625.52,162.62 625.89,164.31 626.27,162.88 626.65,162.64 627.02,162.98 627.4,163.92 627.77,164.91 628.15,164.03 628.53,162.71 628.9,164.88 629.28,166.16 629.65,165.23 630.03,167.46 630.41,165.98 630.78,166.95 631.16,165.73 631.53,167.1 631.91,166.27 632.29,165.06 632.66,168.45 633.04,169.52 633.41,168.24 633.79,169.22 634.17,169.26 634.54,170.49 634.92,169.4 635.29,170.33 635.67,173.39 636.05,171.38 636.42,171.03 636.8,170.34 637.17,172.83 637.55,173.45 637.92,171.4 638.3,173.89 638.68,173.35 639.05,173.23 639.43,173.23 639.8,174.43 640.18,176.11 640.56,173.82 640.93,175.87 641.31,176.26 641.68,173.46 642.06,175.12 642.44,177.76 642.81,177.34 643.19,177.33 643.56,178.21 643.94,179.91 644.32,176.86 644.69,177.16 645.07,178.06 645.44,179.1 645.82,178.6 646.2,178.32 646.57,180.6 646.95,179.97 647.32,180.46 647.7,179.14 648.08,179.87 648.45,181.96 648.83,181.32 649.2,178.6 649.58,182.1 649.96,180.92 650.33,182.04 650.71,179.93 651.08,181.7 651.46,182.32 651.84,183.38 652.21,182.41 652.59,181.27 652.96,181.62 653.34,184.19 653.71,180.84 654.09,183.18 654.47,184.3 654.84,183 655.22,184.04 655.59,184.12 655.97,184.3 656.35,183.76 656.72,184.37 657.1,185.94 657.47,183.33 657.85,184.69 658.23,182.69 658.6,183.57 658.98,183.54 659.35,184.14 659.73,182.85 660.11,184.88 660.48,185.74 660.86,184.17 661.23,187.94 661.61,185.13 661.99,184.47 662.36,185.28 662.74,183.3 663.11,184.01 663.49,184.77 663.87,185.43 664.24,183.66 664.62,185.85 664.99,185.57 665.37,184.2 665.75,184.43 666.12,182.73 666.5,185.51 666.87,187.57 667.25,184.54 667.63,183.86 668,185.63 668.38,183.58 668.75,183.35 669.13,186.35 669.51,186.17 669.88,187.13 670.26,184.98 670.63,184.79 671.01,184.95 671.38,187.18 671.76,186.62 672.14,187.41 672.51,187.57 672.89,187.15 673.26,187.3 673.64,185.44 674.02,184.51 674.39,184.04 674.77,184.57 675.14,185.09 675.52,184 675.9,182.99 676.27,183.71 676.65,182.95 677.02,183.04 677.4,182.95 677.78,181.91" fill="none" stroke="#f8801e" stroke-width="1.15" stroke-linejoin="round" />
<polyline points="414.98,184.97 415.36,186.16 415.74,183.28 416.11,187.69 416.49,185.34 416.86,185.4 417.24,185.71 417.62,187.18 417.99,187.21 418.37,186.28 418.74,185.93 419.12,187.33 419.5,187.19 419.87,185.48 420.25,185 420.62,186.69 421,186.84 421.38,186.88 421.75,183.51 422.13,185.62 422.5,186.21 422.88,185.09 423.25,183.74 423.63,184.93 424.01,187.68 424.38,186.27 424.76,186.62 425.13,186.56 425.51,187.49 425.89,186.62 426.26,187.36 426.64,185.86 427.01,186.18 427.39,187.73 427.77,188.04 428.14,186.75 428.52,185.56 428.89,185.73 429.27,186.32 429.65,189.75 430.02,186.78 430.4,187.04 430.77,186.62 431.15,187.55 431.53,186.72 431.9,186.97 432.28,183.4 432.65,185.52 433.03,186.47 433.41,186.32 433.78,186.39 434.16,186.07 434.53,186.69 434.91,186.28 435.29,185.17 435.66,185.38 436.04,185.92 436.41,184.84 436.79,186.01 437.17,187.28 437.54,188.08 437.92,186.96 438.29,186.29 438.67,185.8 439.05,185.07 439.42,186.81 439.8,187.05 440.17,185.38 440.55,184.94 440.92,186.68 441.3,185.81 441.68,184.71 442.05,185.82 442.43,186.21 442.8,188.34 443.18,184.73 443.56,185.45 443.93,185.99 444.31,186.61 444.68,187.43 445.06,186.21 445.44,186.21 445.81,184.93 446.19,187.37 446.56,184.56 446.94,186.04 447.32,184.81 447.69,187.09 448.07,185.69 448.44,184.76 448.82,185.92 449.2,187.59 449.57,186.38 449.95,185.46 450.32,187.5 450.7,187.54 451.08,185.76 451.45,187 451.83,185.27 452.2,187.23 452.58,187.92 452.96,186.79 453.33,184.39 453.71,186.87 454.08,185.96 454.46,185.68 454.84,186.94 455.21,184.77 455.59,185.73 455.96,185.44 456.34,187.68 456.71,187.75 457.09,188.8 457.47,186.08 457.84,186.12 458.22,185.1 458.59,184.29 458.97,186.12 459.35,186.13 459.72,185.36 460.1,184.21 460.47,186.69 460.85,185.15 461.23,186.07 461.6,186.15 461.98,184.93 462.35,186.62 462.73,186.9 463.11,185.07 463.48,185.79 463.86,186.03 464.23,185.89 464.61,185.21 464.99,186.12 465.36,184.91 465.74,185.28 466.11,184.14 466.49,184.36 466.87,184.79 467.24,185.9 467.62,185.55 467.99,186.29 468.37,182.65 468.75,185.89 469.12,185.06 469.5,184.2 469.87,187.07 470.25,186.49 470.63,186.03 471,186.66 471.38,186.94 471.75,186.14 472.13,184.22 472.5,184.81 472.88,185.53 473.26,185.53 473.63,187.31 474.01,184.81 474.38,185.09 474.76,186.68 475.14,185.31 475.51,185.73 475.89,186.06 476.26,186.55 476.64,186.21 477.02,186.49 477.39,185 477.77,185.1 478.14,185.14 478.52,185.66 478.9,185.89 479.27,183.3 479.65,187.42 480.02,184.18 480.4,185.07 480.78,185.36 481.15,185.96 481.53,185.65 481.9,186.67 482.28,186.87 482.66,185.52 483.03,187.15 483.41,184.51 483.78,184.21 484.16,189.01 484.54,187.02 484.91,185.09 485.29,185.15 485.66,185.25 486.04,184.91 486.42,184.57 486.79,184.44 487.17,183.46 487.54,185.31 487.92,184.43 488.3,187.04 488.67,185.47 489.05,186.61 489.42,183.85 489.8,182.85 490.17,184.74 490.55,186.68 490.93,185.42 491.3,185.27 491.68,185.08 492.05,184.14 492.43,184.28 492.81,188.08 493.18,183.84 493.56,185.8 493.93,185.86 494.31,183.77 494.69,185.55 495.06,186.71 495.44,186.66 495.81,185.19 496.19,184.29 496.57,183.66 496.94,185.42 497.32,185.73 497.69,183.52 498.07,185.72 498.45,183.69 498.82,184.98 499.2,184.97 499.57,185.47 499.95,184.9 500.33,185.7 500.7,185.93 501.08,185.35 501.45,185.89 501.83,184.88 502.21,185.11 502.58,185.47 502.96,185.4 503.33,185.43 503.71,183.35 504.09,185.19 504.46,185.8 504.84,185.49 505.21,184.47 505.59,185.38 505.96,185.32 506.34,185.43 506.72,184.98 507.09,184.74 507.47,184.68 507.84,186.87 508.22,186.27 508.6,187.91 508.97,184.29 509.35,183.96 509.72,183.76 510.1,184.97 510.48,183.91 510.85,185.16 511.23,185.24 511.6,186.73 511.98,185.93 512.36,185.73 512.73,184.13 513.11,183.34 513.48,185.58 513.86,184.69 514.24,184.79 514.61,185.89 514.99,186.89 515.36,185.86 515.74,186.58 516.12,185.39 516.49,185.2 516.87,185.24 517.24,185.22 517.62,184.53 518,186.02 518.37,184.09 518.75,186.79 519.12,184.95 519.5,184.61 519.88,185.84 520.25,186.68 520.63,184.33 521,185.7 521.38,184.17 521.75,184.18 522.13,184.99 522.51,184.98 522.88,183.93 523.26,184.57 523.63,185.94 524.01,184.78 524.39,184.37 524.76,184.73 525.14,184.74 525.51,185.09 525.89,185.05 526.27,185.91 526.64,186.42 527.02,183.73 527.39,185.57 527.77,184.67 528.15,186.47 528.52,184.72 528.9,185.75 529.27,181.76 529.65,185.94 530.03,185.88 530.4,183.87 530.78,183.66 531.15,187.06 531.53,184.57 531.91,183.91 532.28,186.11 532.66,184.1 533.03,185.36 533.41,185.85 533.79,185.16 534.16,185.27 534.54,186.24 534.91,182.42 535.29,185.24 535.67,185.54 536.04,183.85 536.42,184.81 536.79,183.33 537.17,185 537.55,184.34 537.92,184.6 538.3,184.51 538.67,184.9 539.05,184.78 539.42,182.9 539.8,185.36 540.18,185.21 540.55,184.99 540.93,184.02 541.3,184.18 541.68,183.61 542.06,185.98 542.43,184.3 542.81,184.74 543.18,184.84 543.56,184.36 543.94,186.58 544.31,184.22 544.69,184.34 545.06,185.97 545.44,184.55 545.82,182.81 546.19,184.81 546.57,183.76 546.94,184.59 547.32,185.18 547.7,185.26 548.07,184.69 548.45,182.88 548.82,183.35 549.2,184.91 549.58,183.09 549.95,184.23 550.33,184.78 550.7,183.57 551.08,184.94 551.46,185.58 551.83,182.55 552.21,185.77 552.58,183.25 552.96,185.37 553.34,183.76 553.71,183.89 554.09,184.1 554.46,185.88 554.84,183.66 555.21,183.54 555.59,184.4 555.97,183.48 556.34,182.33 556.72,184.07 557.09,183.01 557.47,184.43 557.85,182.79 558.22,182.47 558.6,180.5 558.97,182.1 559.35,182.54 559.73,181.47 560.1,183.92 560.48,181.72 560.85,183.35 561.23,183.38 561.61,181.53 561.98,182.38 562.36,181.18 562.73,184.01 563.11,182.16 563.49,182.93 563.86,182.61 564.24,184.25 564.61,181.22 564.99,181.92 565.37,183.09 565.74,183.4 566.12,182.84 566.49,180.41 566.87,181.9 567.25,182.07 567.62,181.14 568,181.56 568.37,181.26 568.75,180.65 569.13,180.99 569.5,180.35 569.88,182.41 570.25,181.02 570.63,181.36 571.01,180.78 571.38,180.83 571.76,181.33 572.13,180.92 572.51,179.45 572.88,180.88 573.26,181.46 573.64,179.42 574.01,178.9 574.39,180.04 574.76,179.49 575.14,180.35 575.52,179.55 575.89,178.05 576.27,178.22 576.64,178.76 577.02,179.05 577.4,180.32 577.77,178.17 578.15,177.89 578.52,177.15 578.9,176.03 579.28,177.6 579.65,176.89 580.03,178.92 580.4,176.42 580.78,176.67 581.16,176.07 581.53,176.69 581.91,176.83 582.28,175.68 582.66,177.8 583.04,176.36 583.41,175.81 583.79,177.64 584.16,177.93 584.54,176.21 584.92,176.44 585.29,175.85 585.67,175.73 586.04,177.1 586.42,175.89 586.8,175.01 587.17,176.47 587.55,176.33 587.92,177.14 588.3,175.09 588.67,173.88 589.05,177.26 589.43,175.04 589.8,174.88 590.18,176.37 590.55,176.17 590.93,176.87 591.31,176.6 591.68,175.64 592.06,175.15 592.43,175.71 592.81,174.97 593.19,175.65 593.56,177.08 593.94,174.4 594.31,174.69 594.69,176.65 595.07,174.11 595.44,175.46 595.82,175.81 596.19,173.98 596.57,178.52 596.95,177.6 597.32,175.22 597.7,176.2 598.07,176.91 598.45,174.38 598.83,175.42 599.2,177.22 599.58,176.58 599.95,175.02 600.33,174.04 600.71,177.92 601.08,175.59 601.46,176.22 601.83,177.6 602.21,175.96 602.59,177.41 602.96,176.24 603.34,173.88 603.71,174.82 604.09,174.29 604.46,174.18 604.84,174.09 605.22,173.08 605.59,174.87 605.97,173.6 606.34,171.89 606.72,173.04 607.1,172.25 607.47,170.06 607.85,169.23 608.22,170.93 608.6,170.66 608.98,168.74 609.35,168.61 609.73,169.09 610.1,167.24 610.48,166.71 610.86,166.57 611.23,162.99 611.61,163.95 611.98,163.83 612.36,162.93 612.74,160.26 613.11,161.51 613.49,162.73 613.86,161.04 614.24,160.71 614.62,160.83 614.99,159.49 615.37,159.06 615.74,159.01 616.12,159.17 616.5,157.56 616.87,159.82 617.25,157.09 617.62,157.7 618,157.21 618.38,159.73 618.75,155.36 619.13,158.71 619.5,157.66 619.88,155.98 620.26,157.17 620.63,156.89 621.01,158.73 621.38,156.87 621.76,156.23 622.13,155.8 622.51,156.88 622.89,156.46 623.26,156.37 623.64,157.66 624.01,157.9 624.39,155.28 624.77,158.37 625.14,156.41 625.52,157.81 625.89,156.57 626.27,158.95 626.65,157.96 627.02,158.38 627.4,159.22 627.77,158.95 628.15,160.37 628.53,159.98 628.9,160.65 629.28,159.81 629.65,161.07 630.03,162.8 630.41,162.13 630.78,162.25 631.16,163.48 631.53,161.58 631.91,162.94 632.29,162.88 632.66,164.94 633.04,164.95 633.41,163.88 633.79,166.79 634.17,165.32 634.54,166.01 634.92,167.03 635.29,166.84 635.67,168.47 636.05,167.55 636.42,169.47 636.8,169.96 637.17,167.62 637.55,170.22 637.92,172.11 638.3,169.33 638.68,171.56 639.05,174.81 639.43,171.63 639.8,171 640.18,171.99 640.56,170.94 640.93,173.21 641.31,172.82 641.68,174.84 642.06,173.98 642.44,172.91 642.81,174.32 643.19,175.02 643.56,177.58 643.94,176.26 644.32,177.54 644.69,175.73 645.07,177.62 645.44,176.8 645.82,178.52 646.2,175.83 646.57,179.29 646.95,178.22 647.32,175.9 647.7,178.67 648.08,180.05 648.45,178.75 648.83,178.58 649.2,178.93 649.58,182.1 649.96,180.06 650.33,182.71 650.71,178.74 651.08,180.85 651.46,181.62 651.84,180.64 652.21,181.04 652.59,182.98 652.96,180.25 653.34,182.38 653.71,184.15 654.09,181.04 654.47,181.08 654.84,181.54 655.22,182.43 655.59,184.09 655.97,182.34 656.35,181.52 656.72,182.75 657.1,182.06 657.47,184.66 657.85,182.9 658.23,183.09 658.6,185.72 658.98,185.95 659.35,185.09 659.73,184.33 660.11,184.02 660.48,184.79 660.86,184.69 661.23,184.81 661.61,184.66 661.99,184.19 662.36,184.34 662.74,184.97 663.11,184.69 663.49,185.49 663.87,184.23 664.24,185.64 664.62,183.45 664.99,185.24 665.37,184.98 665.75,186.12 666.12,185.74 666.5,185.26 666.87,185.47 667.25,186.2 667.63,186.82 668,185.62 668.38,185.56 668.75,185.19 669.13,184.51 669.51,186.19 669.88,187.99 670.26,186.08 670.63,187.89 671.01,187.32 671.38,184.91 671.76,185.4 672.14,186.65 672.51,186.57 672.89,185.9 673.26,187.5 673.64,184.97 674.02,185.63 674.39,183.09 674.77,185.86 675.14,183.4 675.52,184.84 675.9,182.72 676.27,184.46 676.65,182.29 677.02,183.14 677.4,183.16 677.78,182.06" fill="none" stroke="#f86a1e" stroke-width="1.15" stroke-linejoin="round" />
<polyline points="414.98,188.53 415.36,185.94 415.74,186.37 416.11,187.32 416.49,186.52 416.86,184.38 417.24,186.15 417.62,186.87 417.99,184.97 418.37,187.28 418.74,186.71 419.12,187.09 419.5,186.81 419.87,185.94 420.25,186.09 420.62,187.31 421,186.77 421.38,186.59 421.75,187.05 422.13,186.72 422.5,187.36 422.88,187.39 423.25,186.68 423.63,187.68 424.01,186.36 424.38,186.93 424.76,187.61 425.13,187.33 425.51,187.22 425.89,186.94 426.26,186.69 426.64,187 427.01,187.61 427.39,185.51 427.77,186 428.14,186.73 428.52,185.97 428.89,186.54 429.27,187.08 429.65,186.77 430.02,184.42 430.4,185.95 430.77,185.91 431.15,187.22 431.53,186.32 431.9,184.81 432.28,186.48 432.65,185.89 433.03,185.72 433.41,186.28 433.78,185.43 434.16,186.65 434.53,186.41 434.91,187.43 435.29,184.45 435.66,186.57 436.04,186.74 436.41,185.58 436.79,187.28 437.17,186.83 437.54,187.53 437.92,186.79 438.29,187.16 438.67,186.31 439.05,186.91 439.42,187.33 439.8,187.04 440.17,186.87 440.55,187.22 440.92,185.9 441.3,186.13 441.68,186.6 442.05,187.8 442.43,186.24 442.8,187.86 443.18,186.52 443.56,186.64 443.93,187.21 444.31,187.42 444.68,187.29 445.06,184.79 445.44,186.88 445.81,186.82 446.19,185.76 446.56,186.24 446.94,185.65 447.32,187.71 447.69,187.58 448.07,183.57 448.44,186.61 448.82,186.83 449.2,186.41 449.57,185.65 449.95,187.62 450.32,186.28 450.7,186.55 451.08,185.91 451.45,186.35 451.83,186.98 452.2,187.27 452.58,188.68 452.96,185.58 453.33,187.79 453.71,186.82 454.08,184.94 454.46,186.81 454.84,185.87 455.21,186.6 455.59,185.77 455.96,186.37 456.34,186.84 456.71,185.15 457.09,186.6 457.47,187.56 457.84,186.64 458.22,185.85 458.59,187.33 458.97,185.6 459.35,185.61 459.72,184.38 460.1,186.86 460.47,185.68 460.85,187.77 461.23,186.63 461.6,186.15 461.98,185.87 462.35,186.27 462.73,186.29 463.11,186.75 463.48,186.59 463.86,185.91 464.23,185.67 464.61,185.58 464.99,185.25 465.36,185.07 465.74,187.75 466.11,186.59 466.49,186.26 466.87,186.68 467.24,185.15 467.62,185.41 467.99,186.17 468.37,185.95 468.75,184.91 469.12,186.35 469.5,186.31 469.87,185.2 470.25,185.59 470.63,184.72 471,185.66 471.38,185.31 471.75,186.46 472.13,186.81 472.5,185.96 472.88,188.33 473.26,185.57 473.63,185.05 474.01,185.84 474.38,186.1 474.76,184.92 475.14,185.92 475.51,185 475.89,183.9 476.26,185.21 476.64,185.01 477.02,185.4 477.39,185.61 477.77,185.58 478.14,185.75 478.52,184.83 478.9,187.25 479.27,186.03 479.65,185.19 480.02,186.53 480.4,185.86 480.78,186.38 481.15,185.36 481.53,184.97 481.9,184.43 482.28,185.28 482.66,186.37 483.03,185.49 483.41,185.2 483.78,184.44 484.16,187.62 484.54,185.35 484.91,187.32 485.29,185.03 485.66,185.27 486.04,185.21 486.42,184.86 486.79,185.3 487.17,186.22 487.54,185.32 487.92,184.56 488.3,185.73 488.67,185.6 489.05,186.7 489.42,184.57 489.8,186.06 490.17,186.26 490.55,185.99 490.93,186.36 491.3,185.81 491.68,184.44 492.05,184.86 492.43,184.29 492.81,184.23 493.18,186.36 493.56,185.12 493.93,184.21 494.31,183.49 494.69,186.81 495.06,186.81 495.44,185.11 495.81,185.83 496.19,186.41 496.57,185.18 496.94,186.22 497.32,187.54 497.69,185.53 498.07,185.39 498.45,184.93 498.82,184.65 499.2,185.32 499.57,185.69 499.95,186.08 500.33,186.95 500.7,185.86 501.08,184.57 501.45,184.88 501.83,183.62 502.21,185.59 502.58,187.05 502.96,184.71 503.33,184.51 503.71,186.48 504.09,186.88 504.46,185.29 504.84,184.79 505.21,186.42 505.59,185.72 505.96,186.11 506.34,186.46 506.72,186.58 507.09,185.27 507.47,185.73 507.84,185.99 508.22,187.72 508.6,183.82 508.97,186.22 509.35,185.49 509.72,186.38 510.1,185.02 510.48,186.71 510.85,185.27 511.23,185.52 511.6,184.52 511.98,186.32 512.36,185.91 512.73,185.54 513.11,183.45 513.48,186.63 513.86,185.05 514.24,185.89 514.61,185.02 514.99,184.71 515.36,185.16 515.74,185.05 516.12,185.03 516.49,185.79 516.87,185.46 517.24,186.74 517.62,185.57 518,185.93 518.37,185.47 518.75,184.57 519.12,184.88 519.5,184.8 519.88,184.22 520.25,187.34 520.63,184.81 521,185.21 521.38,185.27 521.75,186.35 522.13,184.68 522.51,184.14 522.88,184.24 523.26,185.23 523.63,184.57 524.01,184.31 524.39,183.5 524.76,184.02 525.14,184.99 525.51,185.02 525.89,184.95 526.27,184.89 526.64,185.53 527.02,184.39 527.39,185.69 527.77,185.78 528.15,184.74 528.52,185.56 528.9,185.26 529.27,186.89 529.65,184.31 530.03,185.02 530.4,185.12 530.78,184.58 531.15,184.8 531.53,185.61 531.91,183.18 532.28,185.36 532.66,184.08 533.03,183.3 533.41,185.49 533.79,184.84 534.16,185.64 534.54,183.96 534.91,185.19 535.29,185.86 535.67,183.69 536.04,184.03 536.42,185.64 536.79,183.77 537.17,184.65 537.55,182.38 537.92,183.26 538.3,185.28 538.67,185.01 539.05,185.54 539.42,184.62 539.8,184.68 540.18,184.05 540.55,184.62 540.93,186 541.3,185.39 541.68,183.39 542.06,183.6 542.43,184.76 542.81,184.72 543.18,184.74 543.56,184.55 543.94,186.05 544.31,183.73 544.69,185.1 545.06,184.36 545.44,186.72 545.82,184.23 546.19,183.21 546.57,186.37 546.94,182.98 547.32,183.88 547.7,184.92 548.07,185.64 548.45,183.14 548.82,183.9 549.2,183.56 549.58,184.28 549.95,184.7 550.33,183.16 550.7,184.74 551.08,183.03 551.46,185.27 551.83,184.55 552.21,184.97 552.58,182.44 552.96,185.12 553.34,184.51 553.71,182.84 554.09,183.17 554.46,181.35 554.84,181.6 555.21,182.64 555.59,182.51 555.97,184.7 556.34,183.8 556.72,183.24 557.09,183.04 557.47,184.05 557.85,183.59 558.22,183.45 558.6,181.68 558.97,182.18 559.35,182.79 559.73,182.67 560.1,182.1 560.48,182.91 560.85,182.45 561.23,183.68 561.61,181.46 561.98,181.13 562.36,181.59 562.73,181.4 563.11,181.42 563.49,179.84 563.86,181.41 564.24,182.69 564.61,182.36 564.99,180.69 565.37,180.29 565.74,180.46 566.12,180.31 566.49,180.8 566.87,182.21 567.25,181.42 567.62,182.31 568,180.93 568.37,181.71 568.75,180.3 569.13,180.43 569.5,181.93 569.88,179.41 570.25,179.28 570.63,181.09 571.01,179.59 571.38,178.94 571.76,179.71 572.13,178.53 572.51,178.98 572.88,178.03 573.26,178.67 573.64,178.83 574.01,178.05 574.39,177.64 574.76,177.95 575.14,178.41 575.52,178.55 575.89,178.01 576.27,178.02 576.64,177.15 577.02,177.01 577.4,177.08 577.77,176.84 578.15,176.53 578.52,175.12 578.9,175.29 579.28,176.76 579.65,175.72 580.03,176.26 580.4,175.93 580.78,175.94 581.16,176.17 581.53,176.73 581.91,177.61 582.28,175.09 582.66,174.08 583.04,175.85 583.41,174.46 583.79,175.15 584.16,174.43 584.54,175.3 584.92,174.67 585.29,174.45 585.67,176.39 586.04,173.95 586.42,174.17 586.8,176.2 587.17,173.28 587.55,173.82 587.92,173.54 588.3,173.33 588.67,173.98 589.05,174.53 589.43,173.93 589.8,173.88 590.18,171.47 590.55,171.81 590.93,173.92 591.31,173.86 591.68,173.21 592.06,173 592.43,174.16 592.81,174.45 593.19,171.81 593.56,172.62 593.94,175.01 594.31,175.22 594.69,174.39 595.07,173.46 595.44,173.17 595.82,173.99 596.19,175.16 596.57,173.5 596.95,173.16 597.32,173.72 597.7,174.18 598.07,173.21 598.45,173.79 598.83,174.76 599.2,173.67 599.58,174.94 599.95,172.88 600.33,173.34 600.71,174.68 601.08,173.58 601.46,172.64 601.83,175.73 602.21,173.91 602.59,172.27 602.96,175.09 603.34,173.64 603.71,174.5 604.09,172.89 604.46,174.58 604.84,173.36 605.22,171.8 605.59,170.56 605.97,169.68 606.34,168.94 606.72,167.56 607.1,167.24 607.47,166.46 607.85,167.29 608.22,165.81 608.6,162.03 608.98,162.18 609.35,162.84 609.73,162.24 610.1,161.26 610.48,161.74 610.86,158.73 611.23,159.99 611.61,158.83 611.98,155.84 612.36,158.84 612.74,155.69 613.11,156.72 613.49,154.87 613.86,153.53 614.24,153 614.62,151.79 614.99,152.01 615.37,150.82 615.74,151.33 616.12,150.2 616.5,150.79 616.87,148.58 617.25,150.06 617.62,147.92 618,148.65 618.38,148.27 618.75,146.64 619.13,147.4 619.5,149.05 619.88,146.66 620.26,149.67 620.63,146.65 621.01,147.21 621.38,148.12 621.76,146.79 622.13,147.22 622.51,145.19 622.89,147.59 623.26,145.56 623.64,146.28 624.01,148.35 624.39,148.77 624.77,147.04 625.14,148.66 625.52,148.65 625.89,149.31 626.27,150.47 626.65,149.97 627.02,150.82 627.4,151.7 627.77,150.94 628.15,149.42 628.53,150.01 628.9,152.03 629.28,152.33 629.65,152.49 630.03,152.21 630.41,153.71 630.78,154.99 631.16,155.45 631.53,154.57 631.91,153.75 632.29,157.29 632.66,159.16 633.04,157.01 633.41,158.35 633.79,158.67 634.17,158.18 634.54,159.81 634.92,161.67 635.29,162.82 635.67,161.61 636.05,163.22 636.42,162.44 636.8,164.48 637.17,164.2 637.55,165.82 637.92,165.36 638.3,166 638.68,165.59 639.05,165.44 639.43,167.41 639.8,168.58 640.18,166.46 640.56,168.45 640.93,168.71 641.31,169.19 641.68,168.87 642.06,169.76 642.44,170.55 642.81,170.93 643.19,172.92 643.56,173.15 643.94,173.13 644.32,173.4 644.69,173.91 645.07,174.07 645.44,174.76 645.82,175.6 646.2,177.13 646.57,175.22 646.95,175.83 647.32,177.57 647.7,176.64 648.08,177.08 648.45,177.7 648.83,179.79 649.2,179.5 649.58,179.24 649.96,177.46 650.33,180.07 650.71,179.88 651.08,180.89 651.46,180.59 651.84,180.09 652.21,182.62 652.59,183.61 652.96,180.59 653.34,181.44 653.71,182.29 654.09,181.06 654.47,181.29 654.84,184.39 655.22,182.81 655.59,181.82 655.97,183.69 656.35,183.55 656.72,182.55 657.1,183.87 657.47,184.9 657.85,184.58 658.23,185.32 658.6,183.7 658.98,185.95 659.35,183.51 659.73,186.09 660.11,184.61 660.48,186.12 660.86,185.13 661.23,183.96 661.61,183.95 661.99,183.86 662.36,185.24 662.74,185.12 663.11,185.08 663.49,184.79 663.87,185.8 664.24,184.47 664.62,185.26 664.99,184.56 665.37,185.26 665.75,185.14 666.12,186.54 666.5,186.32 666.87,187.22 667.25,186.36 667.63,186.33 668,185.46 668.38,187.49 668.75,183.35 669.13,186.56 669.51,185.32 669.88,185.58 670.26,188.96 670.63,186.88 671.01,185.28 671.38,188.95 671.76,185.96 672.14,187.54 672.51,187.12 672.89,186.47 673.26,188.43 673.64,186.49 674.02,187.28 674.39,187.37 674.77,186 675.14,183.35 675.52,186.31 675.9,186.09 676.27,186.63 676.65,187.24 677.02,186.28 677.4,185.07 677.78,186.27" fill="none" stroke="#f8501e" stroke-width="1.15" stroke-linejoin="round" />
<polyline points="414.98,187.73 415.36,188.41 415.74,187.35 416.11,188.21 416.49,187.17 416.86,188.4 417.24,187.66 417.62,187.76 417.99,187.63 418.37,188.04 418.74,188.3 419.12,187.72 419.5,188.16 419.87,187.59 420.25,187.95 420.62,189.54 421,187.82 421.38,186.68 421.75,187.57 422.13,187.35 422.5,187.48 422.88,188.23 423.25,188.94 423.63,187.24 424.01,187.06 424.38,187.47 424.76,187.59 425.13,187.63 425.51,187.98 425.89,187.75 426.26,187.97 426.64,187.73 427.01,188.75 427.39,188.5 427.77,187.56 428.14,188.29 428.52,189.95 428.89,187.94 429.27,189.85 429.65,186.53 430.02,187.48 430.4,187.52 430.77,188.58 431.15,188.95 431.53,188.23 431.9,188.05 432.28,188.68 432.65,187.94 433.03,187.52 433.41,187.59 433.78,188.88 434.16,189.77 434.53,188.05 434.91,188.57 435.29,187.69 435.66,186.75 436.04,186.74 436.41,187.8 436.79,187.14 437.17,186.71 437.54,187.96 437.92,187.77 438.29,187.3 438.67,187.99 439.05,188.34 439.42,188.53 439.8,187.92 440.17,188.4 440.55,187.27 440.92,188.15 441.3,186.72 441.68,186.91 442.05,188.82 442.43,186.98 442.8,188.14 443.18,186.73 443.56,187.39 443.93,187.81 444.31,187.24 444.68,188.19 445.06,187.48 445.44,187.43 445.81,187.83 446.19,187.4 446.56,188.48 446.94,187.24 447.32,188.62 447.69,187.17 448.07,187.28 448.44,187.08 448.82,188.06 449.2,185.23 449.57,187.77 449.95,187.46 450.32,188.16 450.7,186.44 451.08,187.91 451.45,186.75 451.83,188.25 452.2,187.26 452.58,187.77 452.96,186.74 453.33,187.68 453.71,188.12 454.08,187.08 454.46,188.34 454.84,188.15 455.21,186.79 455.59,188.83 455.96,186.77 456.34,187.65 456.71,188.04 457.09,187.12 457.47,186.81 457.84,187.74 458.22,187.4 458.59,186.63 458.97,186.65 459.35,187.26 459.72,187.81 460.1,187.93 460.47,187.64 460.85,186.63 461.23,186.7 461.6,186.9 461.98,186.04 462.35,187.33 462.73,187.38 463.11,187.37 463.48,185.57 463.86,188.64 464.23,186.8 464.61,186.66 464.99,186.95 465.36,185.17 465.74,186.06 466.11,186.35 466.49,187.63 466.87,186.53 467.24,187.19 467.62,186.85 467.99,186.72 468.37,187.23 468.75,186.35 469.12,185.57 469.5,186.01 469.87,186.63 470.25,188.28 470.63,185.93 471,185.92 471.38,186.89 471.75,187.09 472.13,186.2 472.5,187.32 472.88,186.07 473.26,187.5 473.63,187.37 474.01,186.63 474.38,187.75 474.76,186.61 475.14,186.19 475.51,187.6 475.89,185.86 476.26,186.99 476.64,186.12 477.02,186.37 477.39,186.87 477.77,186.91 478.14,187.81 478.52,187.02 478.9,187.07 479.27,185.2 479.65,185.67 480.02,187.49 480.4,185.81 480.78,186.24 481.15,186.7 481.53,186.04 481.9,185.77 482.28,186.81 482.66,186.57 483.03,186.22 483.41,187.1 483.78,186.19 484.16,186.38 484.54,186.83 484.91,186.95 485.29,186.06 485.66,185.61 486.04,186.02 486.42,186.92 486.79,185.68 487.17,186.12 487.54,185.79 487.92,185.34 488.3,186.92 488.67,186.32 489.05,186.67 489.42,186.87 489.8,184.65 490.17,185.46 490.55,187.53 490.93,185.84 491.3,186.59 491.68,185.27 492.05,186.08 492.43,186.27 492.81,186.02 493.18,185.83 493.56,186.1 493.93,186.28 494.31,186.21 494.69,185.71 495.06,186.96 495.44,186.09 495.81,186.17 496.19,186.45 496.57,185.5 496.94,187.05 497.32,186.33 497.69,186.7 498.07,185.62 498.45,186.39 498.82,185.99 499.2,185.73 499.57,187.24 499.95,185.66 500.33,186.58 500.7,186.19 501.08,186.08 501.45,185.36 501.83,185.41 502.21,184.62 502.58,185.83 502.96,186.32 503.33,186.34 503.71,185.45 504.09,184.71 504.46,185.67 504.84,186.37 505.21,185.71 505.59,185.72 505.96,185.88 506.34,186.47 506.72,187.84 507.09,186.3 507.47,185.07 507.84,185.71 508.22,187.56 508.6,185.86 508.97,187.27 509.35,184.32 509.72,185.69 510.1,186.75 510.48,185.21 510.85,186.42 511.23,185.38 511.6,185.79 511.98,186.7 512.36,185.28 512.73,186.81 513.11,184.74 513.48,185.72 513.86,186.54 514.24,187.14 514.61,184.5 514.99,184.62 515.36,186.68 515.74,184.45 516.12,185.58 516.49,185.86 516.87,185.75 517.24,185.88 517.62,184.57 518,185.54 518.37,187.06 518.75,184.03 519.12,184.95 519.5,186.45 519.88,185.88 520.25,186.29 520.63,185.55 521,185.28 521.38,185.39 521.75,186.02 522.13,186.16 522.51,184.89 522.88,185.61 523.26,183.79 523.63,186.13 524.01,184.89 524.39,185.45 524.76,186.06 525.14,184.42 525.51,185.36 525.89,186.13 526.27,185.68 526.64,184.65 527.02,186.35 527.39,184.35 527.77,184.87 528.15,185.59 528.52,184.33 528.9,184.02 529.27,184.89 529.65,185.2 530.03,183.91 530.4,184.16 530.78,186.01 531.15,185.44 531.53,185.44 531.91,185.57 532.28,186.39 532.66,184.54 533.03,185.15 533.41,185.13 533.79,184.11 534.16,185.61 534.54,185.2 534.91,184.93 535.29,185.46 535.67,185.2 536.04,184.5 536.42,185.08 536.79,184.04 537.17,185.62 537.55,184.87 537.92,186.11 538.3,185.08 538.67,185.51 539.05,183.9 539.42,184.36 539.8,184.52 540.18,183.47 540.55,183.75 540.93,184.29 541.3,185.36 541.68,185.92 542.06,184.8 542.43,185.03 542.81,185.23 543.18,184.93 543.56,185.96 543.94,183.51 544.31,185.51 544.69,185.12 545.06,184.13 545.44,185.79 545.82,183.78 546.19,183.72 546.57,184.64 546.94,185.19 547.32,184.67 547.7,185.68 548.07,183.11 548.45,184.08 548.82,184.63 549.2,184.7 549.58,183.48 549.95,182.69 550.33,184.77 550.7,184.16 551.08,185 551.46,183.03 551.83,183.36 552.21,181.65 552.58,183.41 552.96,183.57 553.34,183.7 553.71,182.4 554.09,184.24 554.46,182.31 554.84,182.62 555.21,183.11 555.59,183.33 555.97,181.73 556.34,181.01 556.72,182.72 557.09,181.87 557.47,180.84 557.85,182.59 558.22,182.21 558.6,182.87 558.97,181.94 559.35,181.79 559.73,181.96 560.1,182.11 560.48,182.66 560.85,182.37 561.23,181.98 561.61,180.61 561.98,181.4 562.36,181.55 562.73,180.27 563.11,180.22 563.49,181.13 563.86,180.92 564.24,179.79 564.61,179.9 564.99,180.71 565.37,179.75 565.74,179.83 566.12,178.81 566.49,180.22 566.87,178.72 567.25,178.94 567.62,179.93 568,178.18 568.37,178.15 568.75,179.75 569.13,177.02 569.5,179.32 569.88,179 570.25,178.38 570.63,177.36 571.01,177.34 571.38,177.69 571.76,176.35 572.13,176.91 572.51,175.94 572.88,174.61 573.26,176.46 573.64,178.42 574.01,176.53 574.39,176.8 574.76,175.66 575.14,175.43 575.52,176.25 575.89,175.96 576.27,175.04 576.64,174.76 577.02,176.44 577.4,173.4 577.77,173.93 578.15,173.75 578.52,173.31 578.9,174.15 579.28,173.19 579.65,172.14 580.03,171.93 580.4,172.25 580.78,172.68 581.16,172.95 581.53,171.1 581.91,171.58 582.28,172.17 582.66,173.4 583.04,172.21 583.41,172.89 583.79,170.2 584.16,170.88 584.54,171.47 584.92,170.94 585.29,168.49 585.67,169.45 586.04,171.35 586.42,170.25 586.8,171 587.17,171.28 587.55,169.65 587.92,167.76 588.3,168.36 588.67,169.5 589.05,169.77 589.43,169.26 589.8,168.55 590.18,170.54 590.55,170.86 590.93,167.85 591.31,169.14 591.68,168.08 592.06,169.19 592.43,168.21 592.81,169.91 593.19,169.03 593.56,168.2 593.94,168.65 594.31,169.87 594.69,168.81 595.07,170.09 595.44,170.73 595.82,169.19 596.19,168.5 596.57,168.98 596.95,170.72 597.32,169.05 597.7,169.26 598.07,170.25 598.45,171.96 598.83,169.2 599.2,169.38 599.58,169.77 599.95,171.65 600.33,171.53 600.71,169.55 601.08,169.78 601.46,170.07 601.83,170.71 602.21,170.21 602.59,170.96 602.96,170.62 603.34,170.77 603.71,169.41 604.09,169.38 604.46,167.56 604.84,166.95 605.22,167.31 605.59,164.19 605.97,165.57 606.34,163.21 606.72,161.58 607.1,160.28 607.47,161.99 607.85,158.23 608.22,156.93 608.6,155.67 608.98,157.63 609.35,155.38 609.73,153.89 610.1,153.08 610.48,150.46 610.86,150.9 611.23,148.09 611.61,147.36 611.98,147.71 612.36,146.04 612.74,144.34 613.11,142.62 613.49,140.68 613.86,140.48 614.24,138.5 614.62,139.53 614.99,139.82 615.37,136.79 615.74,135.45 616.12,135.57 616.5,135.63 616.87,133.99 617.25,132.29 617.62,133.52 618,133.62 618.38,133.32 618.75,130.65 619.13,131.97 619.5,131.15 619.88,130.4 620.26,130.33 620.63,131.83 621.01,130.21 621.38,130.28 621.76,130.62 622.13,130.3 622.51,131.75 622.89,131.55 623.26,132.17 623.64,131.4 624.01,132.87 624.39,132.35 624.77,133.93 625.14,133.5 625.52,134.08 625.89,134.27 626.27,134.45 626.65,135.1 627.02,135.57 627.4,137.59 627.77,135.53 628.15,137.53 628.53,137.84 628.9,138.98 629.28,138.17 629.65,140.44 630.03,140.02 630.41,140.22 630.78,140.6 631.16,141.75 631.53,142.99 631.91,145.25 632.29,143.97 632.66,144.82 633.04,145.84 633.41,146.6 633.79,147.94 634.17,149.18 634.54,148.64 634.92,149.28 635.29,151.97 635.67,151.18 636.05,152.54 636.42,152.83 636.8,154.16 637.17,154.29 637.55,155.18 637.92,156.11 638.3,158.77 638.68,157.76 639.05,159.18 639.43,160.92 639.8,160.17 640.18,162.6 640.56,161.47 640.93,161.51 641.31,163.98 641.68,163.5 642.06,164.55 642.44,165.06 642.81,167.37 643.19,166.43 643.56,167.47 643.94,167.63 644.32,168.86 644.69,168.61 645.07,169.89 645.44,170.17 645.82,170.2 646.2,171.74 646.57,171.64 646.95,172.8 647.32,173.09 647.7,174.44 648.08,173.87 648.45,173.96 648.83,175.46 649.2,175.18 649.58,175.9 649.96,177.57 650.33,176.8 650.71,176.43 651.08,178.3 651.46,179.75 651.84,178.54 652.21,179.62 652.59,177.94 652.96,179.88 653.34,180.22 653.71,181.08 654.09,180.71 654.47,181.71 654.84,182.3 655.22,181.94 655.59,182.84 655.97,181.42 656.35,183.7 656.72,183.08 657.1,183.82 657.47,184.62 657.85,182.38 658.23,185.62 658.6,182.94 658.98,185.42 659.35,184.37 659.73,182.77 660.11,186.45 660.48,185.97 660.86,183.94 661.23,184.98 661.61,185.67 661.99,185.37 662.36,186.22 662.74,185.45 663.11,184.45 663.49,186.05 663.87,185.73 664.24,184.97 664.62,184.44 664.99,186.6 665.37,185.99 665.75,186.79 666.12,186.96 666.5,186.88 666.87,187.18 667.25,188.17 667.63,188.49 668,187.58 668.38,186.99 668.75,186.22 669.13,187.71 669.51,187.5 669.88,186.91 670.26,186.91 670.63,187.64 671.01,187.63 671.38,186.11 671.76,187.89 672.14,188.02 672.51,188.93 672.89,187.27 673.26,187.83 673.64,186.08 674.02,187.88 674.39,186.94 674.77,186.83 675.14,186.24 675.52,188.6 675.9,186.26 676.27,187.47 676.65,187.53 677.02,187.65 677.4,187.67 677.78,187.57" fill="none" stroke="#f82424" stroke-width="1.15" stroke-linejoin="round" />
<polyline points="414.98,189.5 415.36,190.65 415.74,189.6 416.11,188.92 416.49,189.21 416.86,189.48 417.24,190.22 417.62,190.58 417.99,190.01 418.37,190.91 418.74,190.88 419.12,189.4 419.5,190.73 419.87,188.88 420.25,191.16 420.62,189.9 421,191.05 421.38,190.14 421.75,191.02 422.13,190.3 422.5,190.46 422.88,190.7 423.25,190.05 423.63,189.39 424.01,190.87 424.38,189.87 424.76,190.45 425.13,190.55 425.51,189.02 425.89,192.08 426.26,191.06 426.64,191.87 427.01,190.84 427.39,190.8 427.77,188 428.14,190.43 428.52,189.43 428.89,189.79 429.27,191.01 429.65,190.38 430.02,189.56 430.4,190.61 430.77,190.59 431.15,190.39 431.53,191.79 431.9,191.32 432.28,190.52 432.65,190.37 433.03,191.39 433.41,190.98 433.78,190.84 434.16,190.85 434.53,190.26 434.91,190.66 435.29,190.61 435.66,191.7 436.04,191.43 436.41,190.46 436.79,191.78 437.17,190.47 437.54,191.1 437.92,191.19 438.29,190.15 438.67,191.06 439.05,191.16 439.42,191.01 439.8,190.48 440.17,188.58 440.55,191.96 440.92,190.47 441.3,190.6 441.68,189.75 442.05,190.65 442.43,192.09 442.8,189.42 443.18,191.08 443.56,190.34 443.93,191.23 444.31,191.02 444.68,190.58 445.06,189.62 445.44,189.61 445.81,190.59 446.19,189.81 446.56,190.4 446.94,190.04 447.32,189.99 447.69,189.64 448.07,190.49 448.44,190.13 448.82,189.86 449.2,189.93 449.57,190.53 449.95,188.75 450.32,190.25 450.7,189.38 451.08,189.74 451.45,189.01 451.83,191.37 452.2,188.39 452.58,189.94 452.96,190.63 453.33,189.66 453.71,188.15 454.08,189.35 454.46,190.54 454.84,189.98 455.21,188.7 455.59,190.59 455.96,189.71 456.34,189.76 456.71,188.02 457.09,189.71 457.47,188.57 457.84,189.93 458.22,190 458.59,188.71 458.97,188.95 459.35,190.57 459.72,188.89 460.1,188.86 460.47,189.71 460.85,189.11 461.23,189.05 461.6,189.55 461.98,189.59 462.35,189.63 462.73,189.32 463.11,190.04 463.48,189.11 463.86,190.1 464.23,188.98 464.61,189.06 464.99,189.7 465.36,188.36 465.74,187.58 466.11,187.98 466.49,189.83 466.87,187.96 467.24,188.68 467.62,188.84 467.99,189.19 468.37,188.76 468.75,187.76 469.12,188.32 469.5,188.97 469.87,189.12 470.25,188.92 470.63,188.2 471,187.28 471.38,189.3 471.75,188.53 472.13,188.78 472.5,189.01 472.88,188.18 473.26,188.05 473.63,189.4 474.01,189.11 474.38,187.54 474.76,188.12 475.14,187.96 475.51,188.65 475.89,188.54 476.26,187.94 476.64,188.58 477.02,188.99 477.39,188.19 477.77,187.54 478.14,188.87 478.52,187.39 478.9,187.62 479.27,188.69 479.65,188.06 480.02,188.08 480.4,187.59 480.78,187.54 481.15,188.9 481.53,188.91 481.9,187.23 482.28,187.85 482.66,187.63 483.03,187.67 483.41,186.81 483.78,188.7 484.16,187.09 484.54,188.4 484.91,187.31 485.29,186.87 485.66,188.75 486.04,187.49 486.42,187.95 486.79,187.94 487.17,187.69 487.54,188.44 487.92,188.36 488.3,187.22 488.67,187.08 489.05,188.05 489.42,188.65 489.8,186.01 490.17,186.85 490.55,187.35 490.93,188.3 491.3,187.98 491.68,187.39 492.05,188.22 492.43,186.42 492.81,187.43 493.18,187.24 493.56,188.21 493.93,188.12 494.31,188.02 494.69,187.27 495.06,187.64 495.44,187.64 495.81,187.21 496.19,187.26 496.57,186.38 496.94,187.53 497.32,188.09 497.69,187.38 498.07,186.35 498.45,187.74 498.82,187.31 499.2,187.58 499.57,187.04 499.95,187.13 500.33,187.86 500.7,187.45 501.08,186.62 501.45,186.51 501.83,186.62 502.21,186.65 502.58,187.46 502.96,187.47 503.33,186.57 503.71,188.01 504.09,187.23 504.46,188.46 504.84,187.43 505.21,187.64 505.59,187.98 505.96,186.73 506.34,187.63 506.72,187.36 507.09,187.28 507.47,187.59 507.84,186.09 508.22,187.4 508.6,186.91 508.97,187.94 509.35,187.35 509.72,187.24 510.1,187.21 510.48,187.39 510.85,186.88 511.23,185.88 511.6,187.04 511.98,187.03 512.36,187.19 512.73,185.16 513.11,185.78 513.48,186.49 513.86,186.38 514.24,187.34 514.61,186.94 514.99,186.68 515.36,186.72 515.74,187.38 516.12,187.31 516.49,186.4 516.87,186.53 517.24,188.18 517.62,186.65 518,185.81 518.37,187.12 518.75,186.49 519.12,187.64 519.5,186.05 519.88,187.37 520.25,187.45 520.63,186.79 521,184.92 521.38,186.96 521.75,187.39 522.13,186.18 522.51,186.32 522.88,185.32 523.26,187.32 523.63,187.53 524.01,186.63 524.39,186.13 524.76,186.13 525.14,185.61 525.51,187.36 525.89,186.88 526.27,186.39 526.64,185.7 527.02,185.93 527.39,186.53 527.77,186.92 528.15,185.59 528.52,185.52 528.9,184.28 529.27,186.26 529.65,184.99 530.03,186.92 530.4,186.44 530.78,186.51 531.15,186.34 531.53,186.6 531.91,186.35 532.28,185.99 532.66,186.24 533.03,185.45 533.41,185.93 533.79,185.85 534.16,184.81 534.54,185.58 534.91,185.66 535.29,185.75 535.67,185.67 536.04,185.29 536.42,186.21 536.79,184.84 537.17,184.51 537.55,184.77 537.92,185.87 538.3,186.6 538.67,185.77 539.05,185.33 539.42,184.83 539.8,185.49 540.18,185.54 540.55,184.25 540.93,185.72 541.3,184.49 541.68,184.56 542.06,186.06 542.43,184.91 542.81,185.45 543.18,185.68 543.56,186.26 543.94,186.02 544.31,184.61 544.69,185.12 545.06,184.61 545.44,185.48 545.82,184.91 546.19,184.81 546.57,185.62 546.94,185.64 547.32,184.11 547.7,184.24 548.07,184.9 548.45,184.25 548.82,183.63 549.2,182.74 549.58,184.52 549.95,183.39 550.33,182.26 550.7,183.57 551.08,182.51 551.46,185.19 551.83,182.31 552.21,183.21 552.58,184.38 552.96,182.44 553.34,182.14 553.71,181.92 554.09,181.81 554.46,182.54 554.84,182.92 555.21,182.6 555.59,182.19 555.97,181.76 556.34,182.25 556.72,181.77 557.09,181.07 557.47,181.33 557.85,179.84 558.22,179.8 558.6,181.94 558.97,181.4 559.35,181.76 559.73,181.51 560.1,180.17 560.48,181.08 560.85,180.95 561.23,180.25 561.61,179.34 561.98,179.97 562.36,179.8 562.73,178.74 563.11,178.87 563.49,178.7 563.86,178.18 564.24,179.35 564.61,178.32 564.99,178.72 565.37,177.39 565.74,177.35 566.12,178.45 566.49,176.62 566.87,178.17 567.25,176.36 567.62,176.85 568,177.41 568.37,177.4 568.75,176.65 569.13,176.28 569.5,176.58 569.88,175.53 570.25,176.71 570.63,175.57 571.01,175.38 571.38,176.5 571.76,174.8 572.13,175.7 572.51,176.36 572.88,174.86 573.26,174.39 573.64,173.39 574.01,174.13 574.39,172.54 574.76,172.33 575.14,172.31 575.52,171.88 575.89,172.27 576.27,172.58 576.64,171.42 577.02,170.85 577.4,171 577.77,170.96 578.15,171.5 578.52,169.55 578.9,169.38 579.28,170.13 579.65,168.75 580.03,167.91 580.4,168.08 580.78,167.06 581.16,166.68 581.53,167.83 581.91,166.62 582.28,165.7 582.66,165.03 583.04,164.32 583.41,166.24 583.79,164.54 584.16,163.56 584.54,162.76 584.92,161.98 585.29,163.34 585.67,162.48 586.04,162.49 586.42,160.73 586.8,161.76 587.17,159.58 587.55,159.32 587.92,159.23 588.3,160.69 588.67,159.3 589.05,157.99 589.43,159.2 589.8,158.13 590.18,157.83 590.55,156.98 590.93,157.29 591.31,157.24 591.68,157.74 592.06,157.49 592.43,157.7 592.81,157.26 593.19,158.09 593.56,157.48 593.94,159.63 594.31,157.9 594.69,159.13 595.07,158.52 595.44,159.53 595.82,159.28 596.19,159.09 596.57,160.75 596.95,160.57 597.32,161.03 597.7,161.08 598.07,162.67 598.45,161.99 598.83,162.37 599.2,163.05 599.58,162.94 599.95,164.15 600.33,162.35 600.71,163.21 601.08,162.37 601.46,164.38 601.83,164.62 602.21,163.56 602.59,164.75 602.96,163.16 603.34,163.44 603.71,162.72 604.09,161.78 604.46,161.33 604.84,159.41 605.22,159.56 605.59,160.15 605.97,157.8 606.34,158.61 606.72,156.81 607.1,156.93 607.47,155.84 607.85,153.52 608.22,153.87 608.6,152.87 608.98,151.66 609.35,150.27 609.73,147.79 610.1,148.33 610.48,147.09 610.86,144.57 611.23,144.87 611.61,142.85 611.98,140.66 612.36,140.29 612.74,139.43 613.11,138.34 613.49,137.14 613.86,135.45 614.24,133.35 614.62,130.69 614.99,128.64 615.37,127.17 615.74,124.55 616.12,120.73 616.5,119.63 616.87,115.9 617.25,113.21 617.62,111.39 618,109.25 618.38,106.23 618.75,105.45 619.13,102.75 619.5,100.42 619.88,97.85 620.26,96.95 620.63,93.54 621.01,93.05 621.38,91.88 621.76,91.19 622.13,91.06 622.51,91.31 622.89,90.04 623.26,91.05 623.64,91.75 624.01,91.58 624.39,93.45 624.77,93.29 625.14,94.54 625.52,96.05 625.89,95.81 626.27,98.3 626.65,97.78 627.02,100.07 627.4,100.62 627.77,101.58 628.15,103.92 628.53,106.62 628.9,108.16 629.28,110.36 629.65,112.86 630.03,114.69 630.41,115.66 630.78,116.95 631.16,120.08 631.53,120.4 631.91,121.47 632.29,123.18 632.66,125.37 633.04,125.38 633.41,128.37 633.79,128.52 634.17,129.33 634.54,133.35 634.92,133.31 635.29,134.9 635.67,136.66 636.05,139.12 636.42,140.62 636.8,143.23 637.17,144.05 637.55,145.65 637.92,148.35 638.3,150.38 638.68,151.88 639.05,153.32 639.43,154.97 639.8,156.69 640.18,158.09 640.56,160.44 640.93,162.7 641.31,161.58 641.68,162.19 642.06,165.31 642.44,165.92 642.81,166.36 643.19,166.98 643.56,168.23 643.94,168.79 644.32,170.65 644.69,171.23 645.07,172.07 645.44,173.43 645.82,173.02 646.2,174.07 646.57,174.39 646.95,175.83 647.32,175.29 647.7,177.15 648.08,176.55 648.45,179.01 648.83,178.27 649.2,177.41 649.58,178.56 649.96,178.44 650.33,179.98 650.71,178.09 651.08,179.02 651.46,179.72 651.84,179.67 652.21,179.98 652.59,179.47 652.96,180.53 653.34,181.92 653.71,181.31 654.09,180.47 654.47,181.18 654.84,182.08 655.22,181.59 655.59,182.15 655.97,182.03 656.35,183.76 656.72,183.52 657.1,182.67 657.47,183.52 657.85,183.37 658.23,182.52 658.6,184.34 658.98,184.23 659.35,185.06 659.73,185.39 660.11,185.31 660.48,186.55 660.86,187.3 661.23,185.22 661.61,186.52 661.99,185.98 662.36,186.96 662.74,187.22 663.11,187.14 663.49,187.37 663.87,188.95 664.24,187.53 664.62,189.25 664.99,188.66 665.37,187.25 665.75,189.16 666.12,188.28 666.5,189.88 666.87,189.44 667.25,190.04 667.63,190 668,191.08 668.38,191.32 668.75,190.65 669.13,192.13 669.51,191.81 669.88,190.94 670.26,191.95 670.63,192.26 671.01,192.52 671.38,191.75 671.76,192.17 672.14,191.86 672.51,192.11 672.89,190.72 673.26,192.29 673.64,193.33 674.02,191.9 674.39,191.97 674.77,191.86 675.14,193.05 675.52,191.16 675.9,191.93 676.27,191.91 676.65,192.93 677.02,191.48 677.4,191.8 677.78,190.77" fill="none" stroke="#ff1414" stroke-width="1.15" stroke-linejoin="round" />
<polyline points="414.98,189.24 415.36,190.72 415.74,191.22 416.11,190.03 416.49,190.27 416.86,190.04 417.24,190.3 417.62,189.74 417.99,190.19 418.37,190.52 418.74,190.48 419.12,189.78 419.5,189.61 419.87,189.72 420.25,189.93 420.62,192.8 421,191.25 421.38,190.83 421.75,190.53 422.13,191.87 422.5,189.8 422.88,190.65 423.25,191.37 423.63,190.88 424.01,191.3 424.38,191.66 424.76,190.83 425.13,191.57 425.51,192.31 425.89,191.83 426.26,191.53 426.64,192.28 427.01,190.7 427.39,192.41 427.77,190.48 428.14,191.15 428.52,192.51 428.89,191.82 429.27,191.15 429.65,192.19 430.02,192.97 430.4,192.14 430.77,190.9 431.15,193.43 431.53,192.08 431.9,192.55 432.28,192.73 432.65,193.02 433.03,193.06 433.41,192.19 433.78,192.6 434.16,193.81 434.53,192.1 434.91,194.19 435.29,192.9 435.66,193.32 436.04,192.69 436.41,193.36 436.79,192.94 437.17,193.78 437.54,193.14 437.92,193.65 438.29,192.44 438.67,194.49 439.05,193.21 439.42,193.77 439.8,194.01 440.17,194.56 440.55,193.87 440.92,195.24 441.3,195.17 441.68,193.71 442.05,195.3 442.43,193.19 442.8,194.38 443.18,193.99 443.56,194.09 443.93,193.82 444.31,194.28 444.68,194.31 445.06,194.1 445.44,193.24 445.81,193.13 446.19,192.99 446.56,193.58 446.94,193.92 447.32,194.91 447.69,193.22 448.07,193.02 448.44,193.84 448.82,192.92 449.2,192.52 449.57,193.3 449.95,192.55 450.32,193.01 450.7,194.38 451.08,193.43 451.45,193.31 451.83,192.58 452.2,193.49 452.58,193.13 452.96,193.43 453.33,192.71 453.71,192.56 454.08,191.86 454.46,191.92 454.84,192.3 455.21,192.18 455.59,192.21 455.96,192.15 456.34,191.08 456.71,193.86 457.09,192.18 457.47,191.79 457.84,191.16 458.22,192.68 458.59,191.62 458.97,191.22 459.35,192.1 459.72,193.09 460.1,191.96 460.47,192.51 460.85,191.16 461.23,192.18 461.6,190.29 461.98,191.4 462.35,192.03 462.73,191.77 463.11,192.15 463.48,191.07 463.86,190.25 464.23,191.41 464.61,190.57 464.99,191.85 465.36,190.93 465.74,189.49 466.11,192.06 466.49,190.16 466.87,190.17 467.24,192.28 467.62,191.93 467.99,191.57 468.37,190.16 468.75,191.11 469.12,190.89 469.5,190.24 469.87,190.62 470.25,190.51 470.63,190.86 471,189.8 471.38,191.11 471.75,189.35 472.13,190.73 472.5,191.02 472.88,189.97 473.26,190.07 473.63,191.75 474.01,190.17 474.38,191.24 474.76,190.84 475.14,189.67 475.51,190.8 475.89,189.91 476.26,190.4 476.64,188.74 477.02,190.14 477.39,190.86 477.77,190.78 478.14,190.61 478.52,189.86 478.9,189.92 479.27,189.21 479.65,189.74 480.02,189.74 480.4,189.58 480.78,189.87 481.15,189.54 481.53,189.17 481.9,189.14 482.28,190.05 482.66,190.88 483.03,190.18 483.41,189.39 483.78,191.31 484.16,189.87 484.54,189.2 484.91,189.89 485.29,190.25 485.66,188.21 486.04,188.45 486.42,189.58 486.79,188.44 487.17,188.44 487.54,190.12 487.92,187.42 488.3,189.94 488.67,189.45 489.05,190.01 489.42,189.17 489.8,190.12 490.17,189.18 490.55,188.4 490.93,188.99 491.3,189.3 491.68,188.01 492.05,189.71 492.43,188.38 492.81,189.25 493.18,188.87 493.56,188.98 493.93,188.89 494.31,189 494.69,189.5 495.06,189.33 495.44,188.6 495.81,188.97 496.19,189.69 496.57,189.35 496.94,189.33 497.32,188.86 497.69,188.68 498.07,188.72 498.45,189.23 498.82,188.74 499.2,189.7 499.57,190.75 499.95,188.74 500.33,189.85 500.7,189.33 501.08,189.5 501.45,188.19 501.83,189.47 502.21,188.41 502.58,188.93 502.96,189.44 503.33,189.66 503.71,188.21 504.09,188.25 504.46,187.96 504.84,187.2 505.21,188.28 505.59,188.26 505.96,188.53 506.34,188.35 506.72,188.65 507.09,189.02 507.47,186.97 507.84,189.67 508.22,188.16 508.6,188.01 508.97,188.2 509.35,188.96 509.72,188.41 510.1,188.58 510.48,188.99 510.85,188.25 511.23,188.49 511.6,188.57 511.98,187.69 512.36,188.89 512.73,187.82 513.11,188.54 513.48,187.79 513.86,188.03 514.24,187.89 514.61,188.72 514.99,188.56 515.36,188.6 515.74,187.85 516.12,187.43 516.49,187.18 516.87,188.27 517.24,187.84 517.62,189.01 518,189.41 518.37,188.44 518.75,188.28 519.12,188.88 519.5,189.02 519.88,187.37 520.25,188.29 520.63,188.89 521,186.06 521.38,187.55 521.75,187.88 522.13,187.16 522.51,188.15 522.88,186.49 523.26,188.66 523.63,188.48 524.01,187.64 524.39,188.07 524.76,186.52 525.14,188.62 525.51,187.99 525.89,187.3 526.27,187.05 526.64,186.73 527.02,187.17 527.39,185.85 527.77,187.71 528.15,187.24 528.52,186.74 528.9,187.55 529.27,187.51 529.65,187.61 530.03,187.72 530.4,188.04 530.78,187.62 531.15,188.3 531.53,186.93 531.91,188.29 532.28,185.71 532.66,185.94 533.03,186.34 533.41,187.24 533.79,187.48 534.16,186.18 534.54,186.89 534.91,186.6 535.29,187.47 535.67,186.19 536.04,187.47 536.42,186.81 536.79,188.07 537.17,187.29 537.55,186.45 537.92,187.08 538.3,187.05 538.67,186.15 539.05,186.72 539.42,185.76 539.8,188.29 540.18,186.16 540.55,186.17 540.93,187.57 541.3,187.36 541.68,185.79 542.06,187.11 542.43,186.77 542.81,185.86 543.18,186.46 543.56,185.85 543.94,186.74 544.31,185.88 544.69,185.27 545.06,185.73 545.44,187.41 545.82,185.32 546.19,185.62 546.57,186.18 546.94,184.44 547.32,186.5 547.7,183.82 548.07,185.42 548.45,183.71 548.82,184.68 549.2,185.4 549.58,184.22 549.95,183.87 550.33,183.53 550.7,182.97 551.08,184.14 551.46,182.97 551.83,182.59 552.21,183.1 552.58,183.35 552.96,183.16 553.34,181.75 553.71,181.48 554.09,182.38 554.46,182.48 554.84,180.41 555.21,182.09 555.59,180.6 555.97,180.98 556.34,181.35 556.72,179.72 557.09,179.62 557.47,178.15 557.85,177.23 558.22,178.61 558.6,177.42 558.97,177.05 559.35,177.8 559.73,177.68 560.1,175.58 560.48,176.6 560.85,175.99 561.23,175.81 561.61,175.33 561.98,175.29 562.36,173.97 562.73,173.24 563.11,174.02 563.49,174.34 563.86,172.95 564.24,173.63 564.61,172.63 564.99,170.9 565.37,169.71 565.74,170.64 566.12,171.21 566.49,169.47 566.87,171.14 567.25,169.59 567.62,167.58 568,167.67 568.37,168.69 568.75,168.42 569.13,166.19 569.5,166.36 569.88,166.28 570.25,165.11 570.63,165.35 571.01,165.84 571.38,163.48 571.76,164.05 572.13,163.86 572.51,163.66 572.88,162.13 573.26,162.45 573.64,161.05 574.01,161.28 574.39,159.95 574.76,160.58 575.14,160.35 575.52,160.84 575.89,159.79 576.27,158.08 576.64,155.99 577.02,158.55 577.4,157.94 577.77,156.52 578.15,155.97 578.52,156.32 578.9,155.35 579.28,156.09 579.65,154.74 580.03,153.49 580.4,152.58 580.78,153.45 581.16,153.15 581.53,152.31 581.91,151.53 582.28,151.66 582.66,152.26 583.04,151.24 583.41,150.6 583.79,151.6 584.16,151.89 584.54,150.5 584.92,150.53 585.29,150.08 585.67,150.74 586.04,151.38 586.42,151.45 586.8,152.15 587.17,152.45 587.55,152.59 587.92,152.99 588.3,152.36 588.67,154.52 589.05,154.23 589.43,155.15 589.8,154.25 590.18,155.64 590.55,156.6 590.93,156.27 591.31,157.32 591.68,158.27 592.06,157.45 592.43,158.64 592.81,158.57 593.19,159.62 593.56,160.55 593.94,161.67 594.31,163.2 594.69,162.62 595.07,163.74 595.44,163.98 595.82,165.11 596.19,166.22 596.57,167.06 596.95,166.54 597.32,166.86 597.7,168.74 598.07,169 598.45,169.12 598.83,171.41 599.2,171.74 599.58,172.88 599.95,171.75 600.33,172.74 600.71,173.43 601.08,174.28 601.46,173.13 601.83,172.09 602.21,172.67 602.59,172.36 602.96,171.14 603.34,171.91 603.71,170.43 604.09,169.42 604.46,169.74 604.84,169.11 605.22,167.7 605.59,167.29 605.97,166.75 606.34,165.77 606.72,165.02 607.1,165.04 607.47,164.03 607.85,162.38 608.22,161.01 608.6,159.93 608.98,160.52 609.35,158.22 609.73,157.54 610.1,157.19 610.48,155.93 610.86,154.75 611.23,153.08 611.61,153.97 611.98,151.6 612.36,150.74 612.74,149.24 613.11,146.32 613.49,144.01 613.86,142.26 614.24,138.3 614.62,134.16 614.99,131.25 615.37,125.41 615.74,121.69 616.12,117.12 616.5,112.61 616.87,107.3 617.25,104.43 617.62,100.83 618,95.44 618.38,92.97 618.75,88.9 619.13,85.44 619.5,79.75 619.88,76.49 620.26,72.75 620.63,69.63 621.01,66.65 621.38,63.97 621.76,60.97 622.13,57.34 622.51,55.05 622.89,51.86 623.26,51.68 623.64,49.63 624.01,48.19 624.39,44.85 624.77,45.19 625.14,42.61 625.52,41.32 625.89,42.04 626.27,41.52 626.65,43.92 627.02,43.4 627.4,45.22 627.77,45.07 628.15,46.45 628.53,48.35 628.9,48.57 629.28,50.6 629.65,53.38 630.03,55.98 630.41,59.57 630.78,61.78 631.16,63.34 631.53,68.4 631.91,70.52 632.29,74.07 632.66,76.06 633.04,79.28 633.41,82.74 633.79,86.83 634.17,88.96 634.54,90.77 634.92,94.76 635.29,97.1 635.67,100.78 636.05,104.61 636.42,105.89 636.8,108.83 637.17,112.31 637.55,114.99 637.92,117.32 638.3,120.67 638.68,122.69 639.05,125.67 639.43,129.67 639.8,130.61 640.18,133.36 640.56,135.92 640.93,137.41 641.31,140.32 641.68,141.85 642.06,143.63 642.44,146.39 642.81,149.58 643.19,150.97 643.56,151.78 643.94,154.53 644.32,156.82 644.69,158.18 645.07,159.56 645.44,161.44 645.82,162.78 646.2,165.3 646.57,166.27 646.95,167.46 647.32,168.4 647.7,170.9 648.08,170.63 648.45,172.37 648.83,171.41 649.2,172.18 649.58,172.93 649.96,174.34 650.33,175.98 650.71,175.67 651.08,177.12 651.46,177.15 651.84,178.74 652.21,179 652.59,178.72 652.96,178.22 653.34,179.86 653.71,178.64 654.09,178.63 654.47,181.76 654.84,181.2 655.22,182.14 655.59,181.86 655.97,182.41 656.35,182.36 656.72,181.91 657.1,182.2 657.47,182.95 657.85,183.42 658.23,183.63 658.6,183.93 658.98,183.94 659.35,184.68 659.73,184.68 660.11,186.3 660.48,185.21 660.86,184.92 661.23,186.38 661.61,187.87 661.99,186.32 662.36,187.86 662.74,190.08 663.11,188.51 663.49,188.29 663.87,188.77 664.24,188.5 664.62,189.23 664.99,189.86 665.37,191.58 665.75,191.21 666.12,190.53 666.5,190.41 666.87,191.82 667.25,191.75 667.63,191.22 668,193.1 668.38,193.33 668.75,192.34 669.13,192.2 669.51,192.9 669.88,194.33 670.26,192.87 670.63,193.95 671.01,192.69 671.38,193.31 671.76,193.13 672.14,192.92 672.51,193.76 672.89,192.82 673.26,192.53 673.64,193.11 674.02,192.45 674.39,193.8 674.77,192.71 675.14,193.14 675.52,193.97 675.9,193.3 676.27,193.55 676.65,193.5 677.02,192.97 677.4,192.19 677.78,193.03" fill="none" stroke="#ff1c1c" stroke-width="1.15" stroke-linejoin="round" />
<line x1="415" y1="184.5" x2="678.2" y2="184.5" stroke="#111" stroke-width="1.0" />
<rect x="415.0" y="38.2" width="263.20000000000005" height="169.8" fill="none" stroke="#3c3c3c" stroke-width="1.25"/>
<line x1="410.5" y1="184.3" x2="415" y2="184.3" stroke="#3c3c3c" stroke-width="1.1" />
<text x="408.2" y="187.8" font-size="12" text-anchor="end" font-weight="normal" fill="#222" stroke="#222" stroke-width="0.2" font-family='"Liberation Sans", sans-serif' >0</text>
<line x1="410.5" y1="155" x2="415" y2="155" stroke="#3c3c3c" stroke-width="1.1" />
<text x="408.2" y="158.5" font-size="12" text-anchor="end" font-weight="normal" fill="#222" stroke="#222" stroke-width="0.2" font-family='"Liberation Sans", sans-serif' >5</text>
<line x1="410.5" y1="125.7" x2="415" y2="125.7" stroke="#3c3c3c" stroke-width="1.1" />
<text x="408.2" y="129.2" font-size="12" text-anchor="end" font-weight="normal" fill="#222" stroke="#222" stroke-width="0.2" font-family='"Liberation Sans", sans-serif' >10</text>
<line x1="410.5" y1="96.4" x2="415" y2="96.4" stroke="#3c3c3c" stroke-width="1.1" />
<text x="408.2" y="99.9" font-size="12" text-anchor="end" font-weight="normal" fill="#222" stroke="#222" stroke-width="0.2" font-family='"Liberation Sans", sans-serif' >15</text>
<line x1="410.5" y1="67.1" x2="415" y2="67.1" stroke="#3c3c3c" stroke-width="1.1" />
<text x="403.8" y="69" font-size="12" text-anchor="end" font-weight="normal" fill="#222" stroke="#222" stroke-width="0.2" font-family='"Liberation Sans", sans-serif' >20 x10</text>
<text x="404.8" y="60" font-size="8" text-anchor="start" font-weight="normal" fill="#222" stroke="#222" stroke-width="0.2" font-family='"Liberation Sans", sans-serif' >-3</text>
<line x1="424.4" y1="208" x2="424.4" y2="211.5" stroke="#3c3c3c" stroke-width="1.1" />
<text x="424.4" y="226.6" font-size="12.2" text-anchor="middle" font-weight="normal" fill="#222" stroke="#222" stroke-width="0.2" font-family='"Liberation Sans", sans-serif' >450</text>
<line x1="467.2" y1="208" x2="467.2" y2="211.5" stroke="#3c3c3c" stroke-width="1.1" />
<text x="467.2" y="226.6" font-size="12.2" text-anchor="middle" font-weight="normal" fill="#222" stroke="#222" stroke-width="0.2" font-family='"Liberation Sans", sans-serif' >500</text>
<line x1="510" y1="208" x2="510" y2="211.5" stroke="#3c3c3c" stroke-width="1.1" />
<text x="510" y="226.6" font-size="12.2" text-anchor="middle" font-weight="normal" fill="#222" stroke="#222" stroke-width="0.2" font-family='"Liberation Sans", sans-serif' >550</text>
<line x1="552.8" y1="208" x2="552.8" y2="211.5" stroke="#3c3c3c" stroke-width="1.1" />
<text x="552.8" y="226.6" font-size="12.2" text-anchor="middle" font-weight="normal" fill="#222" stroke="#222" stroke-width="0.2" font-family='"Liberation Sans", sans-serif' >600</text>
<line x1="595.6" y1="208" x2="595.6" y2="211.5" stroke="#3c3c3c" stroke-width="1.1" />
<text x="595.6" y="226.6" font-size="12.2" text-anchor="middle" font-weight="normal" fill="#222" stroke="#222" stroke-width="0.2" font-family='"Liberation Sans", sans-serif' >650</text>
<line x1="638.4" y1="208" x2="638.4" y2="211.5" stroke="#3c3c3c" stroke-width="1.1" />
<text x="638.4" y="226.6" font-size="12.2" text-anchor="middle" font-weight="normal" fill="#222" stroke="#222" stroke-width="0.2" font-family='"Liberation Sans", sans-serif' >700</text>
<text x="546.6" y="238.3" font-size="12.4" text-anchor="middle" font-weight="normal" fill="#222" stroke="#222" stroke-width="0.2" font-family='"Liberation Sans", sans-serif' >Wavelength (nm)</text>
<text x="0" y="0" font-size="15" text-anchor="middle" font-weight="normal" fill="#222" stroke="#222" stroke-width="0.2" font-family='"Liberation Sans", sans-serif' transform="translate(377.1,122) rotate(-90)">ΔT / T</text>
<text x="559.5" y="49.7" font-size="8.75" text-anchor="start" font-weight="normal" fill="#111" stroke="#111" stroke-width="0.2" font-family='"Liberation Sans", sans-serif' >Time Delay</text>
<line x1="559.5" y1="51.3" x2="603.8" y2="51.3" stroke="#111" stroke-width="0.7" />
<line x1="560.6" y1="56.9" x2="576.9" y2="56.9" stroke="#ff1c1c" stroke-width="1.8" />
<text x="610.5" y="60" font-size="8.4" text-anchor="end" font-weight="normal" fill="#111" stroke="#111" stroke-width="0.2" font-family='"Liberation Sans", sans-serif' >1 ps</text>
<line x1="560.6" y1="66.7" x2="576.9" y2="66.7" stroke="#ff1414" stroke-width="1.8" />
<text x="610.5" y="69.8" font-size="8.4" text-anchor="end" font-weight="normal" fill="#111" stroke="#111" stroke-width="0.2" font-family='"Liberation Sans", sans-serif' >50 ps</text>
<line x1="560.6" y1="76.5" x2="576.9" y2="76.5" stroke="#f82424" stroke-width="1.8" />
<text x="610.5" y="79.6" font-size="8.4" text-anchor="end" font-weight="normal" fill="#111" stroke="#111" stroke-width="0.2" font-family='"Liberation Sans", sans-serif' >250 ps</text>
<line x1="560.6" y1="86.3" x2="576.9" y2="86.3" stroke="#f8501e" stroke-width="1.8" />
<text x="610.5" y="89.4" font-size="8.4" text-anchor="end" font-weight="normal" fill="#111" stroke="#111" stroke-width="0.2" font-family='"Liberation Sans", sans-serif' >500 ps</text>
<line x1="560.6" y1="96.1" x2="576.9" y2="96.1" stroke="#f86a1e" stroke-width="1.8" />
<text x="610.5" y="99.2" font-size="8.4" text-anchor="end" font-weight="normal" fill="#111" stroke="#111" stroke-width="0.2" font-family='"Liberation Sans", sans-serif' >750 ps</text>
<line x1="560.6" y1="105.9" x2="576.9" y2="105.9" stroke="#f8801e" stroke-width="1.8" />
<text x="610.5" y="109" font-size="8.4" text-anchor="end" font-weight="normal" fill="#111" stroke="#111" stroke-width="0.2" font-family='"Liberation Sans", sans-serif' >1000 ps</text>
<line x1="560.6" y1="115.7" x2="576.9" y2="115.7" stroke="#f8941e" stroke-width="1.8" />
<text x="610.5" y="118.8" font-size="8.4" text-anchor="end" font-weight="normal" fill="#111" stroke="#111" stroke-width="0.2" font-family='"Liberation Sans", sans-serif' >1400 ps</text>
<rect x="440.6" y="43.4" width="108.0" height="85.6" fill="#fff" stroke="#3c3c3c" stroke-width="1.15"/>
<line x1="440.6" y1="120.5" x2="548.6" y2="120.5" stroke="#bbb" stroke-width="1.0" />
<polyline points="440.78,121.51 441,122.51 441.22,122.52 441.43,122.54 441.65,122.63 441.86,122.57 442.08,122.85 442.3,122.71 442.51,122.93 442.73,122.88 442.94,122.6 443.16,123.7 443.38,122.7 443.59,123.75 443.81,123.37 444.03,123.7 444.24,124.02 444.46,124.88 444.67,123.41 444.89,124.59 445.11,124.73 445.32,124.03 445.54,124.59 445.75,123.91 445.97,124.13 446.19,124.68 446.4,125 446.62,124.89 446.84,125.92 447.05,125.36 447.27,125.46 447.48,125.82 447.7,125.58 447.92,126.41 448.13,125.44 448.35,125.34 448.56,126.57 448.78,126 449,125.45 449.21,126.02 449.43,126.73 449.65,126.77 449.86,126.01 450.08,125.63 450.29,126.96 450.51,126.5 450.73,126.89 450.94,126.69 451.16,126.44 451.37,126.59 451.59,126.85 451.81,125.58 452.02,126.52 452.24,126.47 452.46,125.82 452.67,126.21 452.89,126.21 453.1,125.6 453.32,126.38 453.54,125.49 453.75,125.26 453.97,125.32 454.18,125.6 454.4,125.44 454.62,126.12 454.83,125.36 455.05,125.12 455.27,124.8 455.48,125.07 455.7,125.24 455.91,125.39 456.13,124.98 456.35,124.84 456.56,124.32 456.78,124.79 456.99,124.96 457.21,124.74 457.43,124.85 457.64,124.69 457.86,125.51 458.08,125.19 458.29,124.97 458.51,124.19 458.72,124.38 458.94,124.24 459.16,123.75 459.37,124.68 459.59,123.67 459.8,123.97 460.02,124.41 460.24,123.41 460.45,124.65 460.67,124.49 460.89,124.05 461.1,123.75 461.32,123.98 461.53,124.81 461.75,123.98 461.97,123.86 462.18,122.68 462.4,123.17 462.61,123.7 462.83,124.21 463.05,123.56 463.26,124.2 463.48,123.57 463.7,123.48 463.91,123.8 464.13,123.49 464.34,123.72 464.56,123.81 464.78,122.86 464.99,123.26 465.21,123.63 465.42,123.81 465.64,123.37 465.86,123.18 466.07,123.04 466.29,122.75 466.51,123.17 466.72,123.85 466.94,122.45 467.15,122.81 467.37,122.94 467.59,122.7 467.8,123.93 468.02,123.42 468.23,123.47 468.45,122.71 468.67,123.74 468.88,123.35 469.1,122.53 469.32,122.9 469.53,123.34 469.75,122.33 469.96,123.73 470.18,122.94 470.4,123.23 470.61,122.9 470.83,123.24 471.04,123.48 471.26,123.01 471.48,123.68 471.69,122.86 471.91,123.24 472.13,122.69 472.34,123.29 472.56,123.39 472.77,122.92 472.99,122.55 473.21,124 473.42,123.04 473.64,122.82 473.85,123.72 474.07,123.48 474.29,122.81 474.5,123.45 474.72,123.37 474.93,122.34 475.15,123.51 475.37,123.47 475.58,124.11 475.8,123.57 476.02,123.63 476.23,122.34 476.45,122.56 476.66,123.65 476.88,122.23 477.1,122.75 477.31,123.17 477.53,122.74 477.74,122.93 477.96,123.43 478.18,123.86 478.39,123.49 478.61,123.1 478.83,123.25 479.04,123.42 479.26,122.67 479.47,123.56 479.69,122.7 479.91,123.3 480.12,123.05 480.34,123.58 480.55,123.1 480.77,123.44 480.99,123.86 481.2,123.1 481.42,123.12 481.64,122.73 481.85,122.97 482.07,123.54 482.28,123.36 482.5,124.18 482.72,123.59 482.93,122.52 483.15,122.43 483.36,122.76 483.58,122.96 483.8,122.83 484.01,122.86 484.23,123.82 484.45,123.43 484.66,122.51 484.88,122.49 485.09,122.88 485.31,123.1 485.53,123.11 485.74,123.15 485.96,123.28 486.17,123.69 486.39,122.74 486.61,122.97 486.82,122.82 487.04,121.93 487.26,122.38 487.47,122.9 487.69,122.29 487.9,123.16 488.12,121.98 488.34,122.27 488.55,122.42 488.77,122.03 488.98,121.58 489.2,122.36 489.42,122.53 489.63,121.11 489.85,121.96 490.07,121.25 490.28,122.14 490.5,121.61 490.71,121.99 490.93,121.36 491.15,121.69 491.36,121.79 491.58,120.74 491.79,121.2 492.01,122.17 492.23,121.3 492.44,121.52 492.66,121.56 492.88,121.17 493.09,121.01 493.31,120.67 493.52,120.9 493.74,121.23 493.96,120.5 494.17,119.72 494.39,120.56 494.6,119.51 494.82,119.42 495.04,119.64 495.25,119.13 495.47,119.41 495.69,119.07 495.9,119.15 496.12,118.31 496.33,117.71 496.55,118.42 496.77,117.38 496.98,118.63 497.2,117.85 497.41,117.66 497.63,116.21 497.85,116.97 498.06,116.09 498.28,117.07 498.5,115.83 498.71,115.34 498.93,115.31 499.14,116.19 499.36,114.6 499.58,114 499.79,113.46 500.01,113.54 500.22,114.13 500.44,113.12 500.66,112.26 500.87,112.64 501.09,111.63 501.31,111.69 501.52,111.03 501.74,110.32 501.95,110.54 502.17,108.53 502.39,109.3 502.6,108.78 502.82,108.82 503.03,108.03 503.25,107.75 503.47,107.84 503.68,107.45 503.9,106.21 504.12,105.93 504.33,106.62 504.55,105.95 504.76,104.69 504.98,104.13 505.2,103.37 505.41,103.74 505.63,102.46 505.84,102.4 506.06,102.03 506.28,101.41 506.49,100.45 506.71,100.19 506.93,99.59 507.14,99.83 507.36,99.17 507.57,99.06 507.79,98.27 508.01,97.66 508.22,97.16 508.44,96.1 508.65,95.7 508.87,95.05 509.09,94.85 509.3,93.98 509.52,94 509.74,93.25 509.95,93.15 510.17,92.8 510.38,92.96 510.6,93.29 510.82,93.2 511.03,91.51 511.25,92.05 511.46,91.89 511.68,92.04 511.9,92.08 512.11,90.53 512.33,92.28 512.55,91.84 512.76,91.95 512.98,92.62 513.19,92.94 513.41,93 513.63,93.19 513.84,93.64 514.06,93.46 514.27,94.75 514.49,94.45 514.71,94.35 514.92,94.96 515.14,96.26 515.35,97.52 515.57,96.33 515.79,97 516,97.99 516.22,97.66 516.44,98.86 516.65,99.03 516.87,99.86 517.08,99.47 517.3,99.91 517.52,99.93 517.73,99.13 517.95,99.35 518.16,99.88 518.38,98.61 518.6,98.21 518.81,98.57 519.03,97.94 519.25,97.29 519.46,96.93 519.68,96.15 519.89,95 520.11,94.33 520.33,91.79 520.54,91.46 520.76,89.67 520.97,86.73 521.19,84.66 521.41,83.8 521.62,82.01 521.84,80.33 522.06,76.93 522.27,74.7 522.49,72.34 522.7,68.92 522.92,65.66 523.14,63.27 523.35,60.12 523.57,58.44 523.78,57.03 524,55.67 524.22,53.82 524.43,51.98 524.65,50.67 524.87,49.23 525.08,48.42 525.3,47.2 525.51,46.28 525.73,46.47 525.95,46.88 526.16,45.65 526.38,46.41 526.59,47.24 526.81,47.42 527.03,48.21 527.24,49.51 527.46,49.54 527.68,50.85 527.89,50.92 528.11,51.88 528.32,52.42 528.54,54.34 528.76,55.72 528.97,57.81 529.19,59.78 529.4,62.29 529.62,63.34 529.84,65.84 530.05,68.3 530.27,70 530.49,72.23 530.7,74.27 530.92,75.82 531.13,77.43 531.35,80.17 531.57,82.77 531.78,84.49 532,85.45 532.21,88.59 532.43,89.59 532.65,92.01 532.86,93.23 533.08,95.12 533.3,97.22 533.51,98.13 533.73,98.39 533.94,100.74 534.16,101.73 534.38,103.38 534.59,104.49 534.81,105.43 535.02,106.45 535.24,106.68 535.46,108.62 535.67,109.56 535.89,110.57 536.11,111.6 536.32,112.44 536.54,112.1 536.75,113.88 536.97,113.04 537.19,113.87 537.4,114.94 537.62,115.85 537.83,115.82 538.05,116.29 538.27,116.25 538.48,117.49 538.7,117.72 538.92,117.93 539.13,118.37 539.35,118.84 539.56,119.62 539.78,119.87 540,119.7 540.21,119.76 540.43,119.47 540.64,119.14 540.86,119.65 541.08,120.5 541.29,120.1 541.51,121.26 541.73,121.73 541.94,120.76 542.16,122.56 542.37,122.57 542.59,122.8 542.81,122.34 543.02,123.55 543.24,123.23 543.45,124.04 543.67,124.68 543.89,124.3 544.1,124.58 544.32,125.41 544.54,125.51 544.75,125.72 544.97,125.19 545.18,125.66 545.4,126 545.62,126.11 545.83,126.73 546.05,126.45 546.26,127.03 546.48,127.4 546.7,127.08 546.91,126.52 547.13,126.34 547.35,125.61 547.56,126.47 547.78,125.2 547.99,123.85 548.21,123.01 548.43,120.77 548.64,119.2" fill="none" stroke="#ff8080" stroke-width="0.9" stroke-linejoin="round" />
<polyline points="440.78,122.6 441,121.71 441.22,122.94 441.43,121.99 441.65,122.73 441.86,123.07 442.08,123.16 442.3,123.21 442.51,123.37 442.73,122.99 442.94,124.05 443.16,122.78 443.38,123.07 443.59,122.94 443.81,124.11 444.03,124.82 444.24,124.17 444.46,124.09 444.67,124 444.89,124.49 445.11,124.42 445.32,124.44 445.54,125.32 445.75,123.96 445.97,125.38 446.19,124.89 446.4,124.64 446.62,125.58 446.84,125.34 447.05,124.71 447.27,125.66 447.48,125.15 447.7,125.57 447.92,125.67 448.13,125.53 448.35,126.02 448.56,126.09 448.78,125.64 449,126.03 449.21,125.99 449.43,126.81 449.65,126.33 449.86,125.85 450.08,126.04 450.29,126.33 450.51,126.75 450.73,126.82 450.94,126.37 451.16,125.95 451.37,126.55 451.59,125.97 451.81,126.64 452.02,125.92 452.24,126.83 452.46,126.23 452.67,126.69 452.89,125.83 453.1,125.77 453.32,126.34 453.54,126.15 453.75,125.91 453.97,126.28 454.18,125.94 454.4,125.83 454.62,125.02 454.83,124.69 455.05,125.44 455.27,125.32 455.48,125.04 455.7,125.31 455.91,125.14 456.13,124.59 456.35,124.8 456.56,124.89 456.78,125.05 456.99,124.09 457.21,124.96 457.43,124.59 457.64,125.05 457.86,124.8 458.08,124.45 458.29,124.62 458.51,124.16 458.72,124.32 458.94,124.92 459.16,125.29 459.37,123.78 459.59,124.44 459.8,123.48 460.02,124.09 460.24,124.4 460.45,123.78 460.67,124.11 460.89,123.96 461.1,124.34 461.32,123.62 461.53,123.39 461.75,124.08 461.97,123.03 462.18,124.06 462.4,123.67 462.61,124.48 462.83,124.59 463.05,122.78 463.26,123.05 463.48,123.15 463.7,124.4 463.91,123.52 464.13,123.41 464.34,123.54 464.56,123.42 464.78,123.94 464.99,123.59 465.21,124 465.42,123.63 465.64,123.29 465.86,123.78 466.07,123.54 466.29,123.59 466.51,123.37 466.72,122.95 466.94,123.24 467.15,123.15 467.37,123.95 467.59,123.45 467.8,122.91 468.02,123.64 468.23,123.44 468.45,123.66 468.67,122.63 468.88,123.41 469.1,123.52 469.32,122.91 469.53,122.68 469.75,122.94 469.96,122.72 470.18,123.05 470.4,123.19 470.61,123.32 470.83,123.35 471.04,123.38 471.26,122.94 471.48,123.15 471.69,123.06 471.91,122.83 472.13,123.12 472.34,123.7 472.56,123.45 472.77,123.59 472.99,123.94 473.21,123.05 473.42,123.63 473.64,123.66 473.85,123.57 474.07,122.71 474.29,123.23 474.5,122.65 474.72,123.13 474.93,123.29 475.15,122.84 475.37,122.83 475.58,123.04 475.8,123.56 476.02,123.3 476.23,123.62 476.45,123.21 476.66,123.05 476.88,122.44 477.1,122.47 477.31,122.79 477.53,122.67 477.74,122.99 477.96,121.86 478.18,122.42 478.39,121.92 478.61,122.93 478.83,122.91 479.04,122.63 479.26,123.01 479.47,122.96 479.69,123.53 479.91,122.68 480.12,123.04 480.34,122.74 480.55,123.19 480.77,123.89 480.99,122.87 481.2,122.58 481.42,123.67 481.64,123.53 481.85,123.23 482.07,123.21 482.28,123.85 482.5,122.31 482.72,122.65 482.93,123.37 483.15,123.9 483.36,122.93 483.58,122.21 483.8,122.72 484.01,122.56 484.23,123.48 484.45,122.94 484.66,123.7 484.88,122.13 485.09,122.73 485.31,123.89 485.53,123.75 485.74,122.68 485.96,122.8 486.17,122.96 486.39,122.51 486.61,121.85 486.82,122.54 487.04,123.46 487.26,122.68 487.47,123.15 487.69,122.87 487.9,122.32 488.12,122.49 488.34,122.83 488.55,122.31 488.77,122.61 488.98,121.95 489.2,122.23 489.42,121.89 489.63,122.12 489.85,121.61 490.07,121.94 490.28,121.82 490.5,122 490.71,121.62 490.93,122.41 491.15,120.36 491.36,121.79 491.58,121.37 491.79,121.56 492.01,121.5 492.23,121.03 492.44,121.37 492.66,121.25 492.88,121.59 493.09,121.3 493.31,121.32 493.52,119.9 493.74,121.19 493.96,120.97 494.17,120.3 494.39,119.63 494.6,120.9 494.82,120.72 495.04,119.84 495.25,119.62 495.47,120.26 495.69,120.3 495.9,119.78 496.12,118.87 496.33,119.08 496.55,118.57 496.77,118.78 496.98,118.57 497.2,118.09 497.41,118.21 497.63,117.85 497.85,118.14 498.06,117.77 498.28,117.06 498.5,117.13 498.71,117.11 498.93,116.24 499.14,116.03 499.36,116.02 499.58,116.09 499.79,115.09 500.01,114.12 500.22,115.32 500.44,115.36 500.66,114.72 500.87,114.49 501.09,114.33 501.31,113.97 501.52,112.74 501.74,112.41 501.95,111.8 502.17,111.8 502.39,112.01 502.6,110.98 502.82,111.41 503.03,110.96 503.25,111 503.47,109.62 503.68,109.4 503.9,109.73 504.12,109.34 504.33,108.87 504.55,108.47 504.76,107.86 504.98,107.89 505.2,107.42 505.41,107.94 505.63,107.09 505.84,107.43 506.06,105.53 506.28,105.39 506.49,105.38 506.71,104.9 506.93,104.21 507.14,104.38 507.36,105.19 507.57,104.23 507.79,104.84 508.01,103.79 508.22,103.62 508.44,102.71 508.65,102.19 508.87,102.45 509.09,101.86 509.3,101.35 509.52,101.31 509.74,101.14 509.95,102 510.17,101.06 510.38,100.49 510.6,100.72 510.82,101.48 511.03,100.93 511.25,100.68 511.46,101.23 511.68,100.49 511.9,101.14 512.11,100.93 512.33,100.83 512.55,99.82 512.76,101.09 512.98,101.44 513.19,101.18 513.41,102.08 513.63,102.21 513.84,103.76 514.06,103.1 514.27,103.73 514.49,104.76 514.71,104.02 514.92,105.14 515.14,105.56 515.35,106.56 515.57,107.24 515.79,107.33 516,108.31 516.22,107.94 516.44,108.26 516.65,109.35 516.87,110.13 517.08,109.82 517.3,110.22 517.52,109.65 517.73,109.51 517.95,109.55 518.16,109.01 518.38,108.18 518.6,107.41 518.81,107.87 519.03,106.74 519.25,106.54 519.46,106.24 519.68,104.37 519.89,103.58 520.11,102.18 520.33,100.31 520.54,98.55 520.76,96.8 520.97,93.28 521.19,91.35 521.41,89.3 521.62,86.71 521.84,84.13 522.06,82.04 522.27,78.7 522.49,75.99 522.7,72.4 522.92,69.68 523.14,65.51 523.35,64.01 523.57,61.21 523.78,59.23 524,57.73 524.22,55.28 524.43,53.88 524.65,52.26 524.87,50.45 525.08,49.35 525.3,47.3 525.51,46.68 525.73,46 525.95,46.93 526.16,46.32 526.38,47.03 526.59,47.03 526.81,46.98 527.03,48.01 527.24,48.85 527.46,48.98 527.68,49.79 527.89,50.2 528.11,52.68 528.32,52.79 528.54,54.49 528.76,56.29 528.97,57.64 529.19,60.15 529.4,62.68 529.62,64.2 529.84,66.05 530.05,67.22 530.27,70.43 530.49,72.58 530.7,74.85 530.92,76.11 531.13,78.1 531.35,80.01 531.57,82.8 531.78,84.57 532,87.28 532.21,88.17 532.43,90.84 532.65,93.15 532.86,93.06 533.08,94.86 533.3,96.38 533.51,97.81 533.73,99.81 533.94,100.22 534.16,102.47 534.38,102.4 534.59,104.35 534.81,106.42 535.02,106.29 535.24,106.81 535.46,108.75 535.67,109.03 535.89,110.38 536.11,111.31 536.32,112.89 536.54,111.87 536.75,113.26 536.97,113.51 537.19,114.77 537.4,115.23 537.62,114.86 537.83,116.02 538.05,116.5 538.27,117.33 538.48,117.09 538.7,117.22 538.92,118.13 539.13,118.35 539.35,119.12 539.56,118.25 539.78,119.43 540,119.49 540.21,118.93 540.43,120.03 540.64,120.88 540.86,120.85 541.08,120.85 541.29,120.16 541.51,121.13 541.73,121.61 541.94,121.44 542.16,121.52 542.37,122.74 542.59,122.06 542.81,122.62 543.02,123.1 543.24,124.65 543.45,123.79 543.67,123.53 543.89,124.54 544.1,123.64 544.32,124.87 544.54,125.59 544.75,125.12 544.97,125.5 545.18,125.51 545.4,126.22 545.62,125.76 545.83,126.78 546.05,126.62 546.26,127.34 546.48,127.18 546.7,126.69 546.91,126.93 547.13,126.6 547.35,126.19 547.56,125.62 547.78,124.77 547.99,123.69 548.21,122.14 548.43,120.8 548.64,119.27" fill="none" stroke="#ee2222" stroke-width="1.1" stroke-linejoin="round" />
<line x1="438.6" y1="120.5" x2="440.6" y2="120.5" stroke="#3c3c3c" stroke-width="0.8" />
<line x1="438.6" y1="83.4" x2="440.6" y2="83.4" stroke="#3c3c3c" stroke-width="0.8" />
<line x1="438.6" y1="46.3" x2="440.6" y2="46.3" stroke="#3c3c3c" stroke-width="0.8" />
<text x="436.1" y="48.7" font-size="7" text-anchor="end" font-weight="normal" fill="#222" stroke="#222" stroke-width="0.2" font-family='"Liberation Sans", sans-serif' >1</text>
<text x="436.1" y="122.9" font-size="7" text-anchor="end" font-weight="normal" fill="#222" stroke="#222" stroke-width="0.2" font-family='"Liberation Sans", sans-serif' >0</text>
<line x1="444.12" y1="129" x2="444.12" y2="131.5" stroke="#3c3c3c" stroke-width="0.8" />
<line x1="461.9" y1="129" x2="461.9" y2="131.5" stroke="#3c3c3c" stroke-width="0.8" />
<line x1="479.67" y1="129" x2="479.67" y2="131.5" stroke="#3c3c3c" stroke-width="0.8" />
<line x1="497.45" y1="129" x2="497.45" y2="131.5" stroke="#3c3c3c" stroke-width="0.8" />
<line x1="515.23" y1="129" x2="515.23" y2="131.5" stroke="#3c3c3c" stroke-width="0.8" />
<line x1="533" y1="129" x2="533" y2="131.5" stroke="#3c3c3c" stroke-width="0.8" />
<text x="461.9" y="138" font-size="7.2" text-anchor="middle" font-weight="normal" fill="#222" stroke="#222" stroke-width="0.2" font-family='"Liberation Sans", sans-serif' >500</text>
<text x="497.45" y="138" font-size="7.2" text-anchor="middle" font-weight="normal" fill="#222" stroke="#222" stroke-width="0.2" font-family='"Liberation Sans", sans-serif' >600</text>
<text x="533" y="138" font-size="7.2" text-anchor="middle" font-weight="normal" fill="#222" stroke="#222" stroke-width="0.2" font-family='"Liberation Sans", sans-serif' >700</text>
<text x="494.4" y="146.8" font-size="9.7" text-anchor="middle" font-weight="normal" fill="#222" stroke="#222" stroke-width="0.2" font-family='"Liberation Sans", sans-serif' >Wavelength (nm)</text>
<text x="0" y="0" font-size="10.3" text-anchor="middle" font-weight="normal" fill="#222" stroke="#222" stroke-width="0.2" font-family='"Liberation Sans", sans-serif' transform="translate(431.0,82.2) rotate(-90)">ΔT/T (norm.)</text>
<text x="449" y="56.8" font-size="8.3" text-anchor="start" font-weight="normal" fill="#111" stroke="#111" stroke-width="0.2" font-family='"Liberation Sans", sans-serif' >delay = 10 ps</text>
<text x="454.5" y="83" font-size="11.2" fill="#111" stroke="#111" stroke-width="0.2" font-family='"Liberation Serif", serif' textLength="5.5" lengthAdjust="spacingAndGlyphs">λ</text>
<text x="460.2" y="85.2" font-size="6.8" fill="#111" stroke="#111" stroke-width="0.2" font-family='"Liberation Sans", sans-serif' textLength="8.3" lengthAdjust="spacingAndGlyphs">pu</text>
<text x="468.3" y="82.7" font-size="8.6" fill="#111" stroke="#111" stroke-width="0.2" font-family='"Liberation Sans", sans-serif' textLength="33.8" lengthAdjust="spacingAndGlyphs">= 650 nm</text>
<text x="447.4" y="101.1" font-size="11.2" fill="#111" stroke="#111" stroke-width="0.2" font-family='"Liberation Serif", serif' textLength="5.5" lengthAdjust="spacingAndGlyphs">λ</text>
<text x="453.1" y="103.1" font-size="6.8" fill="#111" stroke="#111" stroke-width="0.2" font-family='"Liberation Sans", sans-serif' textLength="7.9" lengthAdjust="spacingAndGlyphs">pu</text>
<text x="461.2" y="100.6" font-size="8.6" fill="#111" stroke="#111" stroke-width="0.2" font-family='"Liberation Sans", sans-serif' textLength="34.3" lengthAdjust="spacingAndGlyphs">= 690 nm</text>
<line x1="495.6" y1="85.3" x2="504.4" y2="91.9" stroke="#000" stroke-width="1.9" />
<polygon points="509.2,95.5 501.62,93.94 505.58,88.66" fill="#000"/>
<line x1="488.9" y1="103.7" x2="499.7" y2="106.56" stroke="#000" stroke-width="1.9" />
<polygon points="505.5,108.1 497.89,109.5 499.58,103.12" fill="#000"/>
<line x1="64.6" y1="410.8" x2="332.2" y2="410.8" stroke="#666" stroke-width="1.15" stroke-dasharray="2.4,2.3"/>
<polyline points="70.36,410.8 77.3,410.8 77.3,269.5 77.3,283.63 77.81,285 78.31,286.35 78.82,287.67 79.32,288.98 79.83,290.27 80.33,291.53 80.84,292.78 81.35,294.01 81.85,295.22 82.36,296.41 82.86,297.58 83.37,298.74 83.88,299.87 84.38,300.99 84.89,302.1 85.39,303.18 85.9,304.25 86.4,305.31 86.91,306.35 87.42,307.37 87.92,308.38 88.43,309.37 88.93,310.35 89.44,311.32 89.95,312.27 90.45,313.21 90.96,314.13 91.46,315.04 91.97,315.94 92.47,316.82 92.98,317.69 93.49,318.55 93.99,319.4 94.5,320.24 95,321.06 95.51,321.87 96.02,322.67 96.52,323.46 97.03,324.24 97.53,325.01 98.04,325.77 98.54,326.52 99.05,327.26 99.56,327.98 100.06,328.7 100.57,329.41 101.07,330.11 101.58,330.8 102.08,331.48 102.59,332.15 103.1,332.81 103.6,333.47 104.11,334.11 104.61,334.75 105.12,335.38 105.63,336 106.13,336.61 106.64,337.22 107.14,337.81 107.65,338.4 108.15,338.98 108.66,339.56 109.17,340.13 109.67,340.69 110.18,341.24 110.68,341.79 111.19,342.33 111.7,342.86 112.2,343.39 112.71,343.91 113.21,344.43 113.72,344.94 114.22,345.44 114.73,345.93 115.24,346.43 115.74,346.91 116.25,347.39 116.75,347.86 117.26,348.33 117.76,348.79 118.27,349.25 118.78,349.7 119.28,350.15 119.79,350.59 120.29,351.03 120.8,351.46 121.31,351.89 121.81,352.31 122.32,352.73 122.82,353.15 123.33,353.56 123.83,353.96 124.34,354.36 124.85,354.76 125.35,355.15 125.86,355.53 126.36,355.92 126.87,356.3 127.38,356.67 127.88,357.04 128.39,357.41 128.89,357.78 129.4,358.14 129.9,358.49 130.41,358.84 130.92,359.19 131.42,359.54 131.93,359.88 132.43,360.22 132.94,360.56 133.45,360.89 133.95,361.22 134.46,361.54 134.96,361.86 135.47,362.18 135.97,362.5 136.48,362.81 136.99,363.12 137.49,363.43 138,363.74 138.5,364.04 139.01,364.34 139.51,364.63 140.02,364.92 140.53,365.22 141.03,365.5 141.54,365.79 142.04,366.07 142.55,366.35 143.06,366.63 143.56,366.9 144.07,367.18 144.57,367.45 145.08,367.71 145.58,367.98 146.09,368.24 146.6,368.5 147.1,368.76 147.61,369.02 148.11,369.27 148.62,369.52 149.13,369.77 149.63,370.02 150.14,370.27 150.64,370.51 151.15,370.75 151.65,370.99 152.16,371.23 152.67,371.46 153.17,371.7 153.68,371.93 154.18,372.16 154.69,372.39 155.19,372.61 155.7,372.84 156.21,373.06 156.71,373.28 157.22,373.5 157.72,373.72 158.23,373.93 158.74,374.15 159.24,374.36 159.75,374.57 160.25,374.78 160.76,374.99 161.26,375.19 161.77,375.4 162.28,375.6 162.78,375.8 163.29,376 163.79,376.2 164.3,376.4 164.81,376.59 165.31,376.78 165.82,376.98 166.32,377.17 166.83,377.36 167.33,377.55 167.84,377.73 168.35,377.92 168.85,378.1 169.36,378.29 169.86,378.47 170.37,378.65 170.88,378.83 171.38,379 171.89,379.18 172.39,379.36 172.9,379.53 173.4,379.7 173.91,379.88 174.42,380.05 174.92,380.22 175.43,380.38 175.93,380.55 176.44,380.72 176.94,380.88 177.45,381.04 177.96,381.21 178.46,381.37 178.97,381.53 179.47,381.69 179.98,381.85 180.49,382 180.99,382.16 181.5,382.32 182,382.47 182.51,382.62 183.01,382.78 183.52,382.93 184.03,383.08 184.53,383.23 185.04,383.37 185.54,383.52 186.05,383.67 186.56,383.81 187.06,383.96 187.57,384.1 188.07,384.24 188.58,384.39 189.08,384.53 189.59,384.67 190.1,384.81 190.6,384.94 191.11,385.08 191.61,385.22 192.12,385.35 192.63,385.49 193.13,385.62 193.64,385.76 194.14,385.89 194.65,386.02 195.15,386.15 195.66,386.28 196.17,386.41 196.67,386.54 197.18,386.67 197.68,386.79 198.19,386.92 198.69,387.05 199.2,387.17 199.71,387.29 200.21,387.42 200.72,387.54 201.22,387.66 201.73,387.78 202.24,387.9 202.74,388.02 203.25,388.14 203.75,388.26 204.26,388.38 204.76,388.49 205.27,388.61 205.78,388.73 206.28,388.84 206.79,388.96 207.29,389.07 207.8,389.18 208.31,389.29 208.81,389.41 209.32,389.52 209.82,389.63 210.33,389.74 210.83,389.85 211.34,389.95 211.85,390.06 212.35,390.17 212.86,390.28 213.36,390.38 213.87,390.49 214.37,390.59 214.88,390.7 215.39,390.8 215.89,390.9 216.4,391 216.9,391.11 217.41,391.21 217.92,391.31 218.42,391.41 218.93,391.51 219.43,391.61 219.94,391.71 220.44,391.8 220.95,391.9 221.46,392 221.96,392.09 222.47,392.19 222.97,392.29 223.48,392.38 223.99,392.48 224.49,392.57 225,392.66 225.5,392.76 226.01,392.85 226.51,392.94 227.02,393.03 227.53,393.12 228.03,393.21 228.54,393.3 229.04,393.39 229.55,393.48 230.06,393.57 230.56,393.66 231.07,393.74 231.57,393.83 232.08,393.92 232.58,394 233.09,394.09 233.6,394.17 234.1,394.26 234.61,394.34 235.11,394.43 235.62,394.51 236.12,394.59 236.63,394.67 237.14,394.76 237.64,394.84 238.15,394.92 238.65,395 239.16,395.08 239.67,395.16 240.17,395.24 240.68,395.32 241.18,395.4 241.69,395.47 242.19,395.55 242.7,395.63 243.21,395.71 243.71,395.78 244.22,395.86 244.72,395.93 245.23,396.01 245.74,396.08 246.24,396.16 246.75,396.23 247.25,396.31 247.76,396.38 248.26,396.45 248.77,396.52 249.28,396.6 249.78,396.67 250.29,396.74 250.79,396.81 251.3,396.88 251.81,396.95 252.31,397.02 252.82,397.09 253.32,397.16 253.83,397.23 254.33,397.3 254.84,397.37 255.35,397.43 255.85,397.5 256.36,397.57 256.86,397.64 257.37,397.7 257.87,397.77 258.38,397.83 258.89,397.9 259.39,397.96 259.9,398.03 260.4,398.09 260.91,398.16 261.42,398.22 261.92,398.28 262.43,398.35 262.93,398.41 263.44,398.47 263.94,398.53 264.45,398.6 264.96,398.66 265.46,398.72 265.97,398.78 266.47,398.84 266.98,398.9 267.49,398.96 267.99,399.02 268.5,399.08 269,399.14 269.51,399.2 270.01,399.25 270.52,399.31 271.03,399.37 271.53,399.43 272.04,399.48 272.54,399.54 273.05,399.6 273.55,399.65 274.06,399.71 274.57,399.77 275.07,399.82 275.58,399.88 276.08,399.93 276.59,399.99 277.1,400.04 277.6,400.09 278.11,400.15 278.61,400.2 279.12,400.26 279.62,400.31 280.13,400.36 280.64,400.41 281.14,400.47 281.65,400.52 282.15,400.57 282.66,400.62 283.17,400.67 283.67,400.72 284.18,400.77 284.68,400.82 285.19,400.87 285.69,400.92 286.2,400.97 286.71,401.02 287.21,401.07 287.72,401.12 288.22,401.17 288.73,401.22 289.24,401.26 289.74,401.31 290.25,401.36 290.75,401.41 291.26,401.45 291.76,401.5 292.27,401.55 292.78,401.59 293.28,401.64 293.79,401.69 294.29,401.73 294.8,401.78 295.3,401.82 295.81,401.87 296.32,401.91 296.82,401.96 297.33,402 297.83,402.05 298.34,402.09 298.85,402.13 299.35,402.18 299.86,402.22 300.36,402.26 300.87,402.31 301.37,402.35 301.88,402.39 302.39,402.43 302.89,402.47 303.4,402.52 303.9,402.56 304.41,402.6 304.92,402.64 305.42,402.68 305.93,402.72 306.43,402.76 306.94,402.8 307.44,402.84 307.95,402.88 308.46,402.92 308.96,402.96 309.47,403 309.97,403.04 310.48,403.08 310.98,403.12 311.49,403.16 312,403.19 312.5,403.23 313.01,403.27 313.51,403.31 314.02,403.34 314.53,403.38 315.03,403.42 315.54,403.46 316.04,403.49 316.55,403.53 317.05,403.57 317.56,403.6 318.07,403.64 318.57,403.67 319.08,403.71 319.58,403.75 320.09,403.78 320.6,403.82 321.1,403.85 321.61,403.89 322.11,403.92 322.62,403.95 323.12,403.99 323.63,404.02 324.14,404.06 324.64,404.09 325.15,404.12 325.65,404.16 326.16,404.19 326.67,404.22 327.17,404.26 327.68,404.29 328.18,404.32 328.69,404.35 329.19,404.39 329.7,404.42" fill="none" stroke="#2a9df4" stroke-width="1.2" stroke-linejoin="round" />
<circle cx="70.36" cy="411.14" r="1.6" fill="none" stroke="#2a2acc" stroke-width="1.15"/>
<circle cx="71.37" cy="410.88" r="1.6" fill="none" stroke="#2a2acc" stroke-width="1.15"/>
<circle cx="72.38" cy="410.98" r="1.6" fill="none" stroke="#2a2acc" stroke-width="1.15"/>
<circle cx="73.39" cy="411.19" r="1.6" fill="none" stroke="#2a2acc" stroke-width="1.15"/>
<circle cx="74.4" cy="410.45" r="1.6" fill="none" stroke="#2a2acc" stroke-width="1.15"/>
<circle cx="75.41" cy="411.2" r="1.6" fill="none" stroke="#2a2acc" stroke-width="1.15"/>
<circle cx="76.42" cy="410.73" r="1.6" fill="none" stroke="#2a2acc" stroke-width="1.15"/>
<circle cx="77.3" cy="283.49" r="1.6" fill="none" stroke="#2a2acc" stroke-width="1.15"/>
<circle cx="77.8" cy="285.06" r="1.6" fill="none" stroke="#2a2acc" stroke-width="1.15"/>
<circle cx="78.31" cy="285.68" r="1.6" fill="none" stroke="#2a2acc" stroke-width="1.15"/>
<circle cx="78.81" cy="287.67" r="1.6" fill="none" stroke="#2a2acc" stroke-width="1.15"/>
<circle cx="79.32" cy="289.17" r="1.6" fill="none" stroke="#2a2acc" stroke-width="1.15"/>
<circle cx="79.82" cy="289.81" r="1.6" fill="none" stroke="#2a2acc" stroke-width="1.15"/>
<circle cx="80.33" cy="291.73" r="1.6" fill="none" stroke="#2a2acc" stroke-width="1.15"/>
<circle cx="80.83" cy="293.14" r="1.6" fill="none" stroke="#2a2acc" stroke-width="1.15"/>
<circle cx="81.34" cy="294.25" r="1.6" fill="none" stroke="#2a2acc" stroke-width="1.15"/>
<circle cx="81.84" cy="295.37" r="1.6" fill="none" stroke="#2a2acc" stroke-width="1.15"/>
<circle cx="82.35" cy="296.38" r="1.6" fill="none" stroke="#2a2acc" stroke-width="1.15"/>
<circle cx="82.85" cy="297.47" r="1.6" fill="none" stroke="#2a2acc" stroke-width="1.15"/>
<circle cx="83.36" cy="299.11" r="1.6" fill="none" stroke="#2a2acc" stroke-width="1.15"/>
<circle cx="83.86" cy="299.76" r="1.6" fill="none" stroke="#2a2acc" stroke-width="1.15"/>
<circle cx="84.37" cy="300.39" r="1.6" fill="none" stroke="#2a2acc" stroke-width="1.15"/>
<circle cx="84.87" cy="302.25" r="1.6" fill="none" stroke="#2a2acc" stroke-width="1.15"/>
<circle cx="85.38" cy="303.19" r="1.6" fill="none" stroke="#2a2acc" stroke-width="1.15"/>
<circle cx="85.88" cy="304.04" r="1.6" fill="none" stroke="#2a2acc" stroke-width="1.15"/>
<circle cx="86.39" cy="304.97" r="1.6" fill="none" stroke="#2a2acc" stroke-width="1.15"/>
<circle cx="86.89" cy="306.49" r="1.6" fill="none" stroke="#2a2acc" stroke-width="1.15"/>
<circle cx="87.4" cy="307.58" r="1.6" fill="none" stroke="#2a2acc" stroke-width="1.15"/>
<circle cx="87.9" cy="308.6" r="1.6" fill="none" stroke="#2a2acc" stroke-width="1.15"/>
<circle cx="88.41" cy="309.05" r="1.6" fill="none" stroke="#2a2acc" stroke-width="1.15"/>
<circle cx="88.91" cy="310.08" r="1.6" fill="none" stroke="#2a2acc" stroke-width="1.15"/>
<circle cx="89.42" cy="311.83" r="1.6" fill="none" stroke="#2a2acc" stroke-width="1.15"/>
<circle cx="89.92" cy="312.78" r="1.6" fill="none" stroke="#2a2acc" stroke-width="1.15"/>
<circle cx="90.42" cy="313.48" r="1.6" fill="none" stroke="#2a2acc" stroke-width="1.15"/>
<circle cx="90.93" cy="314.47" r="1.6" fill="none" stroke="#2a2acc" stroke-width="1.15"/>
<circle cx="91.43" cy="314.89" r="1.6" fill="none" stroke="#2a2acc" stroke-width="1.15"/>
<circle cx="91.94" cy="315.83" r="1.6" fill="none" stroke="#2a2acc" stroke-width="1.15"/>
<circle cx="92.44" cy="316.27" r="1.6" fill="none" stroke="#2a2acc" stroke-width="1.15"/>
<circle cx="94.72" cy="320.39" r="1.6" fill="none" stroke="#2a2acc" stroke-width="1.15"/>
<circle cx="96.99" cy="324.16" r="1.6" fill="none" stroke="#2a2acc" stroke-width="1.15"/>
<circle cx="99.26" cy="327.26" r="1.6" fill="none" stroke="#2a2acc" stroke-width="1.15"/>
<circle cx="101.53" cy="330.97" r="1.6" fill="none" stroke="#2a2acc" stroke-width="1.15"/>
<circle cx="103.8" cy="334.09" r="1.6" fill="none" stroke="#2a2acc" stroke-width="1.15"/>
<circle cx="106.07" cy="336.54" r="1.6" fill="none" stroke="#2a2acc" stroke-width="1.15"/>
<circle cx="108.35" cy="338.97" r="1.6" fill="none" stroke="#2a2acc" stroke-width="1.15"/>
<circle cx="110.62" cy="342.14" r="1.6" fill="none" stroke="#2a2acc" stroke-width="1.15"/>
<circle cx="112.89" cy="343.87" r="1.6" fill="none" stroke="#2a2acc" stroke-width="1.15"/>
<circle cx="117.07" cy="347.94" r="1.6" fill="none" stroke="#2a2acc" stroke-width="1.15"/>
<circle cx="119.91" cy="350.84" r="1.6" fill="none" stroke="#2a2acc" stroke-width="1.15"/>
<circle cx="122.96" cy="353.22" r="1.6" fill="none" stroke="#2a2acc" stroke-width="1.15"/>
<circle cx="126.23" cy="355.89" r="1.6" fill="none" stroke="#2a2acc" stroke-width="1.15"/>
<circle cx="129.72" cy="358.35" r="1.6" fill="none" stroke="#2a2acc" stroke-width="1.15"/>
<circle cx="133.47" cy="360.7" r="1.6" fill="none" stroke="#2a2acc" stroke-width="1.15"/>
<circle cx="137.49" cy="363.9" r="1.6" fill="none" stroke="#2a2acc" stroke-width="1.15"/>
<circle cx="141.79" cy="365.35" r="1.6" fill="none" stroke="#2a2acc" stroke-width="1.15"/>
<circle cx="146.4" cy="367.92" r="1.6" fill="none" stroke="#2a2acc" stroke-width="1.15"/>
<circle cx="151.34" cy="370.34" r="1.6" fill="none" stroke="#2a2acc" stroke-width="1.15"/>
<circle cx="156.64" cy="374.39" r="1.6" fill="none" stroke="#2a2acc" stroke-width="1.15"/>
<circle cx="162.31" cy="376.69" r="1.6" fill="none" stroke="#2a2acc" stroke-width="1.15"/>
<circle cx="168.39" cy="377.55" r="1.6" fill="none" stroke="#2a2acc" stroke-width="1.15"/>
<circle cx="174.9" cy="380.56" r="1.6" fill="none" stroke="#2a2acc" stroke-width="1.15"/>
<circle cx="181.88" cy="382.84" r="1.6" fill="none" stroke="#2a2acc" stroke-width="1.15"/>
<circle cx="189.36" cy="385.05" r="1.6" fill="none" stroke="#2a2acc" stroke-width="1.15"/>
<circle cx="197.37" cy="387.5" r="1.6" fill="none" stroke="#2a2acc" stroke-width="1.15"/>
<circle cx="205.95" cy="388.94" r="1.6" fill="none" stroke="#2a2acc" stroke-width="1.15"/>
<circle cx="215.15" cy="391.18" r="1.6" fill="none" stroke="#2a2acc" stroke-width="1.15"/>
<circle cx="225.01" cy="393.05" r="1.6" fill="none" stroke="#2a2acc" stroke-width="1.15"/>
<circle cx="235.57" cy="394.24" r="1.6" fill="none" stroke="#2a2acc" stroke-width="1.15"/>
<circle cx="246.89" cy="396.94" r="1.6" fill="none" stroke="#2a2acc" stroke-width="1.15"/>
<circle cx="259.01" cy="397.28" r="1.6" fill="none" stroke="#2a2acc" stroke-width="1.15"/>
<circle cx="272.01" cy="400.77" r="1.6" fill="none" stroke="#2a2acc" stroke-width="1.15"/>
<circle cx="285.93" cy="399.52" r="1.6" fill="none" stroke="#2a2acc" stroke-width="1.15"/>
<circle cx="300.84" cy="403.1" r="1.6" fill="none" stroke="#2a2acc" stroke-width="1.15"/>
<circle cx="316.83" cy="403.23" r="1.6" fill="none" stroke="#2a2acc" stroke-width="1.15"/>
<circle cx="77.3" cy="301.43" r="1.6" fill="none" stroke="#2a2acc" stroke-width="1.15"/>
<circle cx="77.3" cy="281.23" r="1.6" fill="none" stroke="#2a2acc" stroke-width="1.15"/>
<circle cx="77.3" cy="275.72" r="1.6" fill="none" stroke="#2a2acc" stroke-width="1.15"/>
<rect x="69.2" y="252.3" width="263.0" height="163.2" fill="none" stroke="#7a7a7a" stroke-width="1.3"/>
<line x1="68.6" y1="252.3" x2="332.8" y2="252.3" stroke="#3a3a3a" stroke-width="1.25" />
<line x1="64.7" y1="410.8" x2="69.2" y2="410.8" stroke="#444" stroke-width="1.1" />
<line x1="64.7" y1="382.54" x2="69.2" y2="382.54" stroke="#444" stroke-width="1.1" />
<line x1="64.7" y1="354.28" x2="69.2" y2="354.28" stroke="#444" stroke-width="1.1" />
<line x1="64.7" y1="326.02" x2="69.2" y2="326.02" stroke="#444" stroke-width="1.1" />
<line x1="64.7" y1="297.76" x2="69.2" y2="297.76" stroke="#444" stroke-width="1.1" />
<line x1="64.7" y1="269.5" x2="69.2" y2="269.5" stroke="#444" stroke-width="1.1" />
<text x="63.7" y="386.54" font-size="11.4" text-anchor="end" font-weight="normal" fill="#222" stroke="#222" stroke-width="0.2" font-family='"Liberation Sans", sans-serif' >0.2</text>
<text x="63.7" y="330.02" font-size="11.4" text-anchor="end" font-weight="normal" fill="#222" stroke="#222" stroke-width="0.2" font-family='"Liberation Sans", sans-serif' >0.6</text>
<text x="63.7" y="273.5" font-size="11.4" text-anchor="end" font-weight="normal" fill="#222" stroke="#222" stroke-width="0.2" font-family='"Liberation Sans", sans-serif' >1.0</text>
<line x1="77.3" y1="415.5" x2="77.3" y2="420.1" stroke="#444" stroke-width="1.1" />
<text x="77.3" y="432.3" font-size="11.6" text-anchor="middle" font-weight="normal" fill="#222" stroke="#222" stroke-width="0.2" font-family='"Liberation Sans", sans-serif' >0</text>
<line x1="140.4" y1="415.5" x2="140.4" y2="420.1" stroke="#444" stroke-width="1.1" />
<text x="140.4" y="432.3" font-size="11.6" text-anchor="middle" font-weight="normal" fill="#222" stroke="#222" stroke-width="0.2" font-family='"Liberation Sans", sans-serif' >50</text>
<line x1="203.5" y1="415.5" x2="203.5" y2="420.1" stroke="#444" stroke-width="1.1" />
<text x="203.5" y="432.3" font-size="11.6" text-anchor="middle" font-weight="normal" fill="#222" stroke="#222" stroke-width="0.2" font-family='"Liberation Sans", sans-serif' >100</text>
<line x1="266.6" y1="415.5" x2="266.6" y2="420.1" stroke="#444" stroke-width="1.1" />
<text x="266.6" y="432.3" font-size="11.6" text-anchor="middle" font-weight="normal" fill="#222" stroke="#222" stroke-width="0.2" font-family='"Liberation Sans", sans-serif' >150</text>
<line x1="329.7" y1="415.5" x2="329.7" y2="420.1" stroke="#444" stroke-width="1.1" />
<text x="329.7" y="432.3" font-size="11.6" text-anchor="middle" font-weight="normal" fill="#222" stroke="#222" stroke-width="0.2" font-family='"Liberation Sans", sans-serif' >200</text>
<text x="131.6" y="278.3" font-size="13.7" fill="#111" stroke="#111" stroke-width="0.2" font-family='"Liberation Serif", serif' textLength="7.4" lengthAdjust="spacingAndGlyphs">λ</text>
<text x="139.6" y="282.6" font-size="8.0" fill="#111" stroke="#111" stroke-width="0.2" font-family='"Liberation Sans", sans-serif' textLength="9.4" lengthAdjust="spacingAndGlyphs">pu</text>
<text x="148.8" y="278.6" font-size="13.0" fill="#111" stroke="#111" stroke-width="0.2" font-family='"Liberation Sans", sans-serif' textLength="62.5" lengthAdjust="spacingAndGlyphs">= 620 nm,</text>
<text x="219.6" y="278.3" font-size="13.7" fill="#111" stroke="#111" stroke-width="0.2" font-family='"Liberation Serif", serif' textLength="7.4" lengthAdjust="spacingAndGlyphs">λ</text>
<text x="227.4" y="282.6" font-size="8.0" fill="#111" stroke="#111" stroke-width="0.2" font-family='"Liberation Sans", sans-serif' textLength="7.5" lengthAdjust="spacingAndGlyphs">pr</text>
<text x="236.2" y="278.6" font-size="13.0" fill="#111" stroke="#111" stroke-width="0.2" font-family='"Liberation Sans", sans-serif' textLength="59.4" lengthAdjust="spacingAndGlyphs">= 620 nm</text>
<text x="184.8" y="341" font-size="14.0" fill="#111" stroke="#111" stroke-width="0.2" font-family='"Liberation Serif", serif' textLength="6.1" lengthAdjust="spacingAndGlyphs">τ</text>
<text x="194.5" y="341" font-size="13.0" fill="#111" stroke="#111" stroke-width="0.2" font-family='"Liberation Sans", sans-serif' textLength="47.5" lengthAdjust="spacingAndGlyphs">~ 75 ps</text>
<line x1="180" y1="346.2" x2="171.69" y2="354.19" stroke="#000" stroke-width="2.0" />
<polygon points="167,358.7 169.91,350.91 174.9,356.1" fill="#000"/>
<text x="200.5" y="444" font-size="11.85" text-anchor="middle" font-weight="normal" fill="#222" stroke="#222" stroke-width="0.2" font-family='"Liberation Sans", sans-serif' >Time Delay (ps)</text>
<text x="0" y="0" font-size="15.1" text-anchor="middle" font-weight="normal" fill="#222" stroke="#222" stroke-width="0.2" font-family='"Liberation Sans", sans-serif' transform="translate(39.4,332.7) rotate(-90)">ΔT / T  (norm.)</text>
<line x1="409.6" y1="409.9" x2="677.4" y2="409.9" stroke="#666" stroke-width="1.15" stroke-dasharray="2.4,2.3"/>
<polyline points="415.48,409.9 422.4,409.9 422.4,269.3 422.4,277.31 422.9,278.62 423.41,279.9 423.91,281.15 424.42,282.36 424.92,283.55 425.43,284.71 425.93,285.84 426.43,286.94 426.94,288.02 427.44,289.07 427.95,290.1 428.45,291.1 428.95,292.08 429.46,293.03 429.96,293.97 430.47,294.88 430.97,295.77 431.48,296.64 431.98,297.49 432.48,298.33 432.99,299.14 433.49,299.93 434,300.71 434.5,301.47 435.01,302.21 435.51,302.94 436.01,303.65 436.52,304.35 437.02,305.03 437.53,305.69 438.03,306.34 438.53,306.98 439.04,307.61 439.54,308.22 440.05,308.82 440.55,309.4 441.06,309.98 441.56,310.54 442.06,311.09 442.57,311.63 443.07,312.16 443.58,312.67 444.08,313.18 444.59,313.68 445.09,314.17 445.59,314.65 446.1,315.12 446.6,315.58 447.11,316.03 447.61,316.47 448.11,316.91 448.62,317.34 449.12,317.76 449.63,318.17 450.13,318.57 450.64,318.97 451.14,319.36 451.64,319.74 452.15,320.12 452.65,320.49 453.16,320.86 453.66,321.21 454.17,321.57 454.67,321.91 455.17,322.25 455.68,322.59 456.18,322.92 456.69,323.24 457.19,323.56 457.69,323.88 458.2,324.19 458.7,324.49 459.21,324.79 459.71,325.09 460.22,325.38 460.72,325.66 461.22,325.95 461.73,326.23 462.23,326.5 462.74,326.77 463.24,327.04 463.75,327.3 464.25,327.56 464.75,327.82 465.26,328.07 465.76,328.32 466.27,328.57 466.77,328.81 467.27,329.05 467.78,329.29 468.28,329.53 468.79,329.76 469.29,329.99 469.8,330.21 470.3,330.44 470.8,330.66 471.31,330.88 471.81,331.09 472.32,331.31 472.82,331.52 473.33,331.73 473.83,331.93 474.33,332.14 474.84,332.34 475.34,332.54 475.85,332.74 476.35,332.94 476.85,333.13 477.36,333.32 477.86,333.51 478.37,333.7 478.87,333.89 479.38,334.08 479.88,334.26 480.38,334.44 480.89,334.62 481.39,334.8 481.9,334.98 482.4,335.15 482.91,335.33 483.41,335.5 483.91,335.67 484.42,335.84 484.92,336.01 485.43,336.18 485.93,336.34 486.43,336.51 486.94,336.67 487.44,336.83 487.95,336.99 488.45,337.15 488.96,337.31 489.46,337.47 489.96,337.63 490.47,337.78 490.97,337.93 491.48,338.09 491.98,338.24 492.48,338.39 492.99,338.54 493.49,338.69 494,338.84 494.5,338.98 495.01,339.13 495.51,339.28 496.01,339.42 496.52,339.56 497.02,339.71 497.53,339.85 498.03,339.99 498.54,340.13 499.04,340.27 499.54,340.41 500.05,340.54 500.55,340.68 501.06,340.82 501.56,340.95 502.06,341.09 502.57,341.22 503.07,341.35 503.58,341.49 504.08,341.62 504.59,341.75 505.09,341.88 505.59,342.01 506.1,342.14 506.6,342.27 507.11,342.39 507.61,342.52 508.12,342.65 508.62,342.77 509.12,342.9 509.63,343.02 510.13,343.15 510.64,343.27 511.14,343.39 511.64,343.52 512.15,343.64 512.65,343.76 513.16,343.88 513.66,344 514.17,344.12 514.67,344.24 515.17,344.36 515.68,344.48 516.18,344.59 516.69,344.71 517.19,344.83 517.7,344.94 518.2,345.06 518.7,345.17 519.21,345.29 519.71,345.4 520.22,345.52 520.72,345.63 521.22,345.74 521.73,345.86 522.23,345.97 522.74,346.08 523.24,346.19 523.75,346.3 524.25,346.41 524.75,346.52 525.26,346.63 525.76,346.74 526.27,346.85 526.77,346.96 527.28,347.06 527.78,347.17 528.28,347.28 528.79,347.38 529.29,347.49 529.8,347.6 530.3,347.7 530.8,347.81 531.31,347.91 531.81,348.01 532.32,348.12 532.82,348.22 533.33,348.32 533.83,348.43 534.33,348.53 534.84,348.63 535.34,348.73 535.85,348.83 536.35,348.94 536.86,349.04 537.36,349.14 537.86,349.24 538.37,349.34 538.87,349.43 539.38,349.53 539.88,349.63 540.38,349.73 540.89,349.83 541.39,349.92 541.9,350.02 542.4,350.12 542.91,350.21 543.41,350.31 543.91,350.41 544.42,350.5 544.92,350.6 545.43,350.69 545.93,350.79 546.44,350.88 546.94,350.97 547.44,351.07 547.95,351.16 548.45,351.25 548.96,351.35 549.46,351.44 549.96,351.53 550.47,351.62 550.97,351.71 551.48,351.8 551.98,351.9 552.49,351.99 552.99,352.08 553.49,352.17 554,352.26 554.5,352.34 555.01,352.43 555.51,352.52 556.02,352.61 556.52,352.7 557.02,352.79 557.53,352.87 558.03,352.96 558.54,353.05 559.04,353.14 559.54,353.22 560.05,353.31 560.55,353.39 561.06,353.48 561.56,353.56 562.07,353.65 562.57,353.73 563.07,353.82 563.58,353.9 564.08,353.99 564.59,354.07 565.09,354.15 565.6,354.24 566.1,354.32 566.6,354.4 567.11,354.49 567.61,354.57 568.12,354.65 568.62,354.73 569.12,354.81 569.63,354.89 570.13,354.97 570.64,355.06 571.14,355.14 571.65,355.22 572.15,355.3 572.65,355.37 573.16,355.45 573.66,355.53 574.17,355.61 574.67,355.69 575.18,355.77 575.68,355.85 576.18,355.92 576.69,356 577.19,356.08 577.7,356.16 578.2,356.23 578.7,356.31 579.21,356.39 579.71,356.46 580.22,356.54 580.72,356.61 581.23,356.69 581.73,356.77 582.23,356.84 582.74,356.91 583.24,356.99 583.75,357.06 584.25,357.14 584.76,357.21 585.26,357.28 585.76,357.36 586.27,357.43 586.77,357.5 587.28,357.58 587.78,357.65 588.28,357.72 588.79,357.79 589.29,357.87 589.8,357.94 590.3,358.01 590.81,358.08 591.31,358.15 591.81,358.22 592.32,358.29 592.82,358.36 593.33,358.43 593.83,358.5 594.34,358.57 594.84,358.64 595.34,358.71 595.85,358.78 596.35,358.85 596.86,358.92 597.36,358.98 597.86,359.05 598.37,359.12 598.87,359.19 599.38,359.25 599.88,359.32 600.39,359.39 600.89,359.46 601.39,359.52 601.9,359.59 602.4,359.65 602.91,359.72 603.41,359.79 603.92,359.85 604.42,359.92 604.92,359.98 605.43,360.05 605.93,360.11 606.44,360.18 606.94,360.24 607.44,360.31 607.95,360.37 608.45,360.43 608.96,360.5 609.46,360.56 609.97,360.62 610.47,360.69 610.97,360.75 611.48,360.81 611.98,360.87 612.49,360.94 612.99,361 613.49,361.06 614,361.12 614.5,361.18 615.01,361.24 615.51,361.31 616.02,361.37 616.52,361.43 617.02,361.49 617.53,361.55 618.03,361.61 618.54,361.67 619.04,361.73 619.55,361.79 620.05,361.85 620.55,361.91 621.06,361.96 621.56,362.02 622.07,362.08 622.57,362.14 623.07,362.2 623.58,362.26 624.08,362.32 624.59,362.37 625.09,362.43 625.6,362.49 626.1,362.55 626.6,362.6 627.11,362.66 627.61,362.72 628.12,362.77 628.62,362.83 629.13,362.88 629.63,362.94 630.13,363 630.64,363.05 631.14,363.11 631.65,363.16 632.15,363.22 632.65,363.27 633.16,363.33 633.66,363.38 634.17,363.44 634.67,363.49 635.18,363.55 635.68,363.6 636.18,363.65 636.69,363.71 637.19,363.76 637.7,363.81 638.2,363.87 638.71,363.92 639.21,363.97 639.71,364.03 640.22,364.08 640.72,364.13 641.23,364.18 641.73,364.23 642.23,364.29 642.74,364.34 643.24,364.39 643.75,364.44 644.25,364.49 644.76,364.54 645.26,364.59 645.76,364.64 646.27,364.7 646.77,364.75 647.28,364.8 647.78,364.85 648.29,364.9 648.79,364.95 649.29,365 649.8,365.05 650.3,365.09 650.81,365.14 651.31,365.19 651.81,365.24 652.32,365.29 652.82,365.34 653.33,365.39 653.83,365.44 654.34,365.48 654.84,365.53 655.34,365.58 655.85,365.63 656.35,365.68 656.86,365.72 657.36,365.77 657.87,365.82 658.37,365.86 658.87,365.91 659.38,365.96 659.88,366 660.39,366.05 660.89,366.1 661.39,366.14 661.9,366.19 662.4,366.23 662.91,366.28 663.41,366.33 663.92,366.37 664.42,366.42 664.92,366.46 665.43,366.51 665.93,366.55 666.44,366.6 666.94,366.64 667.45,366.69 667.95,366.73 668.45,366.77 668.96,366.82 669.46,366.86 669.97,366.91 670.47,366.95 670.97,366.99 671.48,367.04 671.98,367.08 672.49,367.12 672.99,367.17 673.5,367.21 674,367.25" fill="none" stroke="#f7a531" stroke-width="1.2" stroke-linejoin="round" />
<circle cx="415.48" cy="409.71" r="1.6" fill="none" stroke="#ee2a2a" stroke-width="1.15"/>
<circle cx="416.49" cy="409.91" r="1.6" fill="none" stroke="#ee2a2a" stroke-width="1.15"/>
<circle cx="417.49" cy="409.75" r="1.6" fill="none" stroke="#ee2a2a" stroke-width="1.15"/>
<circle cx="418.5" cy="409.93" r="1.6" fill="none" stroke="#ee2a2a" stroke-width="1.15"/>
<circle cx="419.51" cy="410.28" r="1.6" fill="none" stroke="#ee2a2a" stroke-width="1.15"/>
<circle cx="420.51" cy="409.83" r="1.6" fill="none" stroke="#ee2a2a" stroke-width="1.15"/>
<circle cx="421.52" cy="409.66" r="1.6" fill="none" stroke="#ee2a2a" stroke-width="1.15"/>
<circle cx="422.4" cy="277.72" r="1.6" fill="none" stroke="#ee2a2a" stroke-width="1.15"/>
<circle cx="422.9" cy="279.84" r="1.6" fill="none" stroke="#ee2a2a" stroke-width="1.15"/>
<circle cx="423.41" cy="280.34" r="1.6" fill="none" stroke="#ee2a2a" stroke-width="1.15"/>
<circle cx="423.91" cy="280.93" r="1.6" fill="none" stroke="#ee2a2a" stroke-width="1.15"/>
<circle cx="424.41" cy="282.16" r="1.6" fill="none" stroke="#ee2a2a" stroke-width="1.15"/>
<circle cx="424.92" cy="282.77" r="1.6" fill="none" stroke="#ee2a2a" stroke-width="1.15"/>
<circle cx="425.42" cy="284.32" r="1.6" fill="none" stroke="#ee2a2a" stroke-width="1.15"/>
<circle cx="425.92" cy="285.48" r="1.6" fill="none" stroke="#ee2a2a" stroke-width="1.15"/>
<circle cx="426.43" cy="288.36" r="1.6" fill="none" stroke="#ee2a2a" stroke-width="1.15"/>
<circle cx="426.93" cy="286.44" r="1.6" fill="none" stroke="#ee2a2a" stroke-width="1.15"/>
<circle cx="427.43" cy="289.03" r="1.6" fill="none" stroke="#ee2a2a" stroke-width="1.15"/>
<circle cx="427.94" cy="289.48" r="1.6" fill="none" stroke="#ee2a2a" stroke-width="1.15"/>
<circle cx="428.44" cy="291.34" r="1.6" fill="none" stroke="#ee2a2a" stroke-width="1.15"/>
<circle cx="428.94" cy="292.18" r="1.6" fill="none" stroke="#ee2a2a" stroke-width="1.15"/>
<circle cx="429.44" cy="292.98" r="1.6" fill="none" stroke="#ee2a2a" stroke-width="1.15"/>
<circle cx="429.95" cy="292.84" r="1.6" fill="none" stroke="#ee2a2a" stroke-width="1.15"/>
<circle cx="430.45" cy="293.79" r="1.6" fill="none" stroke="#ee2a2a" stroke-width="1.15"/>
<circle cx="430.95" cy="295.32" r="1.6" fill="none" stroke="#ee2a2a" stroke-width="1.15"/>
<circle cx="431.46" cy="295.22" r="1.6" fill="none" stroke="#ee2a2a" stroke-width="1.15"/>
<circle cx="431.96" cy="297.76" r="1.6" fill="none" stroke="#ee2a2a" stroke-width="1.15"/>
<circle cx="432.46" cy="297.94" r="1.6" fill="none" stroke="#ee2a2a" stroke-width="1.15"/>
<circle cx="432.97" cy="299.44" r="1.6" fill="none" stroke="#ee2a2a" stroke-width="1.15"/>
<circle cx="433.47" cy="298.99" r="1.6" fill="none" stroke="#ee2a2a" stroke-width="1.15"/>
<circle cx="433.97" cy="300.66" r="1.6" fill="none" stroke="#ee2a2a" stroke-width="1.15"/>
<circle cx="434.48" cy="300.75" r="1.6" fill="none" stroke="#ee2a2a" stroke-width="1.15"/>
<circle cx="434.98" cy="300.97" r="1.6" fill="none" stroke="#ee2a2a" stroke-width="1.15"/>
<circle cx="435.48" cy="304.39" r="1.6" fill="none" stroke="#ee2a2a" stroke-width="1.15"/>
<circle cx="435.99" cy="302.09" r="1.6" fill="none" stroke="#ee2a2a" stroke-width="1.15"/>
<circle cx="436.49" cy="304.09" r="1.6" fill="none" stroke="#ee2a2a" stroke-width="1.15"/>
<circle cx="436.99" cy="305.23" r="1.6" fill="none" stroke="#ee2a2a" stroke-width="1.15"/>
<circle cx="437.5" cy="307.03" r="1.6" fill="none" stroke="#ee2a2a" stroke-width="1.15"/>
<circle cx="439.76" cy="308.7" r="1.6" fill="none" stroke="#ee2a2a" stroke-width="1.15"/>
<circle cx="442.02" cy="312.69" r="1.6" fill="none" stroke="#ee2a2a" stroke-width="1.15"/>
<circle cx="444.29" cy="313.34" r="1.6" fill="none" stroke="#ee2a2a" stroke-width="1.15"/>
<circle cx="446.55" cy="313.13" r="1.6" fill="none" stroke="#ee2a2a" stroke-width="1.15"/>
<circle cx="448.82" cy="313.69" r="1.6" fill="none" stroke="#ee2a2a" stroke-width="1.15"/>
<circle cx="451.08" cy="317.03" r="1.6" fill="none" stroke="#ee2a2a" stroke-width="1.15"/>
<circle cx="453.35" cy="317.71" r="1.6" fill="none" stroke="#ee2a2a" stroke-width="1.15"/>
<circle cx="455.61" cy="319.19" r="1.6" fill="none" stroke="#ee2a2a" stroke-width="1.15"/>
<circle cx="457.88" cy="322.53" r="1.6" fill="none" stroke="#ee2a2a" stroke-width="1.15"/>
<circle cx="462.04" cy="326.58" r="1.6" fill="none" stroke="#ee2a2a" stroke-width="1.15"/>
<circle cx="464.88" cy="327.35" r="1.6" fill="none" stroke="#ee2a2a" stroke-width="1.15"/>
<circle cx="467.92" cy="330.45" r="1.6" fill="none" stroke="#ee2a2a" stroke-width="1.15"/>
<circle cx="471.17" cy="331.62" r="1.6" fill="none" stroke="#ee2a2a" stroke-width="1.15"/>
<circle cx="474.66" cy="332.47" r="1.6" fill="none" stroke="#ee2a2a" stroke-width="1.15"/>
<circle cx="478.39" cy="333.74" r="1.6" fill="none" stroke="#ee2a2a" stroke-width="1.15"/>
<circle cx="482.4" cy="337.09" r="1.6" fill="none" stroke="#ee2a2a" stroke-width="1.15"/>
<circle cx="486.69" cy="337.26" r="1.6" fill="none" stroke="#ee2a2a" stroke-width="1.15"/>
<circle cx="491.28" cy="336.94" r="1.6" fill="none" stroke="#ee2a2a" stroke-width="1.15"/>
<circle cx="496.21" cy="340.21" r="1.6" fill="none" stroke="#ee2a2a" stroke-width="1.15"/>
<circle cx="501.49" cy="341.19" r="1.6" fill="none" stroke="#ee2a2a" stroke-width="1.15"/>
<circle cx="507.14" cy="343.83" r="1.6" fill="none" stroke="#ee2a2a" stroke-width="1.15"/>
<circle cx="513.2" cy="341.72" r="1.6" fill="none" stroke="#ee2a2a" stroke-width="1.15"/>
<circle cx="519.69" cy="342.59" r="1.6" fill="none" stroke="#ee2a2a" stroke-width="1.15"/>
<circle cx="526.65" cy="346.62" r="1.6" fill="none" stroke="#ee2a2a" stroke-width="1.15"/>
<circle cx="534.1" cy="348.68" r="1.6" fill="none" stroke="#ee2a2a" stroke-width="1.15"/>
<circle cx="542.09" cy="347.43" r="1.6" fill="none" stroke="#ee2a2a" stroke-width="1.15"/>
<circle cx="550.65" cy="350.91" r="1.6" fill="none" stroke="#ee2a2a" stroke-width="1.15"/>
<circle cx="559.82" cy="354.34" r="1.6" fill="none" stroke="#ee2a2a" stroke-width="1.15"/>
<circle cx="569.64" cy="357.04" r="1.6" fill="none" stroke="#ee2a2a" stroke-width="1.15"/>
<circle cx="580.17" cy="357.48" r="1.6" fill="none" stroke="#ee2a2a" stroke-width="1.15"/>
<circle cx="591.45" cy="354.7" r="1.6" fill="none" stroke="#ee2a2a" stroke-width="1.15"/>
<circle cx="603.54" cy="360.75" r="1.6" fill="none" stroke="#ee2a2a" stroke-width="1.15"/>
<circle cx="616.49" cy="356.85" r="1.6" fill="none" stroke="#ee2a2a" stroke-width="1.15"/>
<circle cx="630.37" cy="363.04" r="1.6" fill="none" stroke="#ee2a2a" stroke-width="1.15"/>
<circle cx="645.24" cy="364.94" r="1.6" fill="none" stroke="#ee2a2a" stroke-width="1.15"/>
<circle cx="661.17" cy="364.03" r="1.6" fill="none" stroke="#ee2a2a" stroke-width="1.15"/>
<circle cx="422.4" cy="385.01" r="1.6" fill="none" stroke="#ee2a2a" stroke-width="1.15"/>
<circle cx="422.4" cy="317.67" r="1.6" fill="none" stroke="#ee2a2a" stroke-width="1.15"/>
<circle cx="422.4" cy="284.2" r="1.6" fill="none" stroke="#ee2a2a" stroke-width="1.15"/>
<circle cx="422.4" cy="274.92" r="1.6" fill="none" stroke="#ee2a2a" stroke-width="1.15"/>
<rect x="414.2" y="251.2" width="263.2" height="163.8" fill="none" stroke="#7a7a7a" stroke-width="1.3"/>
<line x1="413.6" y1="251.2" x2="678" y2="251.2" stroke="#3a3a3a" stroke-width="1.25" />
<line x1="409.7" y1="409.9" x2="414.2" y2="409.9" stroke="#444" stroke-width="1.1" />
<line x1="409.7" y1="381.78" x2="414.2" y2="381.78" stroke="#444" stroke-width="1.1" />
<line x1="409.7" y1="353.66" x2="414.2" y2="353.66" stroke="#444" stroke-width="1.1" />
<line x1="409.7" y1="325.54" x2="414.2" y2="325.54" stroke="#444" stroke-width="1.1" />
<line x1="409.7" y1="297.42" x2="414.2" y2="297.42" stroke="#444" stroke-width="1.1" />
<line x1="409.7" y1="269.3" x2="414.2" y2="269.3" stroke="#444" stroke-width="1.1" />
<text x="408.7" y="385.78" font-size="11.4" text-anchor="end" font-weight="normal" fill="#222" stroke="#222" stroke-width="0.2" font-family='"Liberation Sans", sans-serif' >0.2</text>
<text x="408.7" y="329.54" font-size="11.4" text-anchor="end" font-weight="normal" fill="#222" stroke="#222" stroke-width="0.2" font-family='"Liberation Sans", sans-serif' >0.6</text>
<text x="408.7" y="273.3" font-size="11.4" text-anchor="end" font-weight="normal" fill="#222" stroke="#222" stroke-width="0.2" font-family='"Liberation Sans", sans-serif' >1.0</text>
<line x1="422.4" y1="415" x2="422.4" y2="419.6" stroke="#444" stroke-width="1.1" />
<text x="422.4" y="432.3" font-size="11.6" text-anchor="middle" font-weight="normal" fill="#222" stroke="#222" stroke-width="0.2" font-family='"Liberation Sans", sans-serif' >0</text>
<line x1="485.3" y1="415" x2="485.3" y2="419.6" stroke="#444" stroke-width="1.1" />
<text x="485.3" y="432.3" font-size="11.6" text-anchor="middle" font-weight="normal" fill="#222" stroke="#222" stroke-width="0.2" font-family='"Liberation Sans", sans-serif' >50</text>
<line x1="548.2" y1="415" x2="548.2" y2="419.6" stroke="#444" stroke-width="1.1" />
<text x="548.2" y="432.3" font-size="11.6" text-anchor="middle" font-weight="normal" fill="#222" stroke="#222" stroke-width="0.2" font-family='"Liberation Sans", sans-serif' >100</text>
<line x1="611.1" y1="415" x2="611.1" y2="419.6" stroke="#444" stroke-width="1.1" />
<text x="611.1" y="432.3" font-size="11.6" text-anchor="middle" font-weight="normal" fill="#222" stroke="#222" stroke-width="0.2" font-family='"Liberation Sans", sans-serif' >150</text>
<line x1="674" y1="415" x2="674" y2="419.6" stroke="#444" stroke-width="1.1" />
<text x="674" y="432.3" font-size="11.6" text-anchor="middle" font-weight="normal" fill="#222" stroke="#222" stroke-width="0.2" font-family='"Liberation Sans", sans-serif' >200</text>
<text x="479.8" y="274.5" font-size="13.7" fill="#111" stroke="#111" stroke-width="0.2" font-family='"Liberation Serif", serif' textLength="7.4" lengthAdjust="spacingAndGlyphs">λ</text>
<text x="487.6" y="278.8" font-size="8.0" fill="#111" stroke="#111" stroke-width="0.2" font-family='"Liberation Sans", sans-serif' textLength="9.4" lengthAdjust="spacingAndGlyphs">pu</text>
<text x="496.8" y="274.8" font-size="13.0" fill="#111" stroke="#111" stroke-width="0.2" font-family='"Liberation Sans", sans-serif' textLength="62.4" lengthAdjust="spacingAndGlyphs">= 690 nm,</text>
<text x="566.9" y="274.5" font-size="13.7" fill="#111" stroke="#111" stroke-width="0.2" font-family='"Liberation Serif", serif' textLength="7.5" lengthAdjust="spacingAndGlyphs">λ</text>
<text x="574.8" y="278.8" font-size="8.0" fill="#111" stroke="#111" stroke-width="0.2" font-family='"Liberation Sans", sans-serif' textLength="7.8" lengthAdjust="spacingAndGlyphs">pr</text>
<text x="583.2" y="274.8" font-size="13.0" fill="#111" stroke="#111" stroke-width="0.2" font-family='"Liberation Sans", sans-serif' textLength="59.4" lengthAdjust="spacingAndGlyphs">= 690 nm</text>
<text x="605" y="328.9" font-size="14.0" fill="#111" stroke="#111" stroke-width="0.2" font-family='"Liberation Serif", serif' textLength="6.3" lengthAdjust="spacingAndGlyphs">τ</text>
<text x="614.6" y="328.9" font-size="13.0" fill="#111" stroke="#111" stroke-width="0.2" font-family='"Liberation Sans", sans-serif' textLength="55.7" lengthAdjust="spacingAndGlyphs">~ 130 ps</text>
<line x1="599.7" y1="334.4" x2="591.85" y2="342.06" stroke="#000" stroke-width="2.0" />
<polygon points="587.2,346.6 590.05,338.79 595.08,343.94" fill="#000"/>
<text x="545.3" y="443.2" font-size="11.85" text-anchor="middle" font-weight="normal" fill="#222" stroke="#222" stroke-width="0.2" font-family='"Liberation Sans", sans-serif' >Time Delay (ps)</text>
<text x="0" y="0" font-size="15.1" text-anchor="middle" font-weight="normal" fill="#222" stroke="#222" stroke-width="0.2" font-family='"Liberation Sans", sans-serif' transform="translate(388.2,330.8) rotate(-90)">ΔT / T  (norm.)</text>
</svg></body></html>
